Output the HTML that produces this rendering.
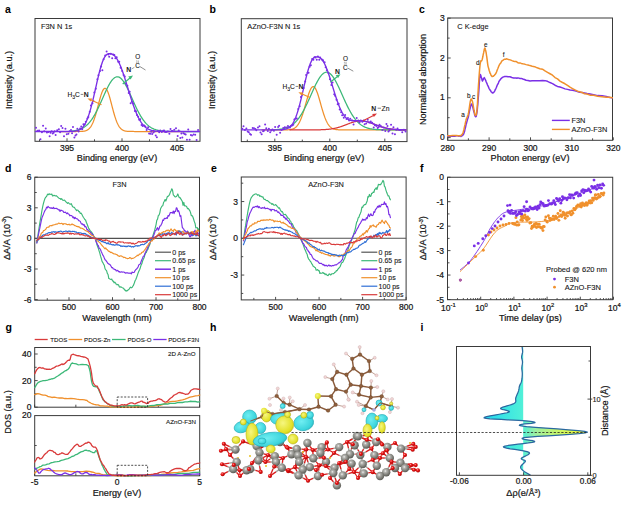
<!DOCTYPE html>
<html><head><meta charset="utf-8"><style>
html,body{margin:0;padding:0;background:#fff;}
svg{display:block;font-family:"Liberation Sans", sans-serif;}
</style></head><body>
<svg width="640" height="509" viewBox="0 0 640 509">
<rect width="640" height="509" fill="#fff"/>
<text x="5" y="13.2" font-size="10.5" text-anchor="start" font-weight="bold" fill="#000" >a</text>
<rect x="35" y="18.5" width="165" height="122.8" stroke="#3a3a3a" stroke-width="1.0" fill="none" />
<line x1="39.5" y1="141.3" x2="39.5" y2="139.3" stroke="#3a3a3a" stroke-width="0.9" />
<line x1="67" y1="141.3" x2="67" y2="138.3" stroke="#3a3a3a" stroke-width="0.9" />
<line x1="94.5" y1="141.3" x2="94.5" y2="139.3" stroke="#3a3a3a" stroke-width="0.9" />
<line x1="122" y1="141.3" x2="122" y2="138.3" stroke="#3a3a3a" stroke-width="0.9" />
<line x1="149.5" y1="141.3" x2="149.5" y2="139.3" stroke="#3a3a3a" stroke-width="0.9" />
<line x1="177" y1="141.3" x2="177" y2="138.3" stroke="#3a3a3a" stroke-width="0.9" />
<text x="67" y="151" font-size="8.5" text-anchor="middle" font-weight="normal" fill="#161616" stroke="#161616" stroke-width="0.22" >395</text>
<text x="122" y="151" font-size="8.5" text-anchor="middle" font-weight="normal" fill="#161616" stroke="#161616" stroke-width="0.22" >400</text>
<text x="177" y="151" font-size="8.5" text-anchor="middle" font-weight="normal" fill="#161616" stroke="#161616" stroke-width="0.22" >405</text>
<text x="117" y="161" font-size="9.1" text-anchor="middle" font-weight="normal" fill="#161616" stroke="#161616" stroke-width="0.22" >Binding energy (eV)</text>
<text x="11.6" y="80" font-size="9.2" text-anchor="middle" font-weight="normal" fill="#161616" stroke="#161616" stroke-width="0.22" transform="rotate(-90 11.6 80)" >Intensity (a.u.)</text>
<text x="41" y="29.3" font-size="7.4" text-anchor="start" font-weight="normal" fill="#161616" stroke="#161616" stroke-width="0.1" >F3N N 1s</text>
<path d="M60,131.5 L60.5,131.5 L61,131.5 L61.5,131.5 L62,131.5 L62.5,131.5 L63,131.5 L63.5,131.5 L64,131.5 L64.5,131.5 L65,131.5 L65.5,131.5 L66,131.5 L66.5,131.5 L67,131.5 L67.5,131.5 L68,131.5 L68.5,131.5 L69,131.5 L69.5,131.5 L70,131.5 L70.5,131.5 L71,131.5 L71.5,131.5 L72,131.5 L72.5,131.5 L73,131.5 L73.5,131.5 L74,131.5 L74.5,131.5 L75,131.5 L75.5,131.5 L76,131.5 L76.5,131.49 L77,131.49 L77.5,131.49 L78,131.48 L78.5,131.48 L79,131.47 L79.5,131.46 L80,131.45 L80.5,131.43 L81,131.41 L81.5,131.39 L82,131.36 L82.5,131.32 L83,131.27 L83.5,131.21 L84,131.13 L84.5,131.04 L85,130.93 L85.5,130.79 L86,130.63 L86.5,130.43 L87,130.2 L87.5,129.92 L88,129.6 L88.5,129.23 L89,128.79 L89.5,128.28 L90,127.71 L90.5,127.05 L91,126.31 L91.5,125.48 L92,124.55 L92.5,123.53 L93,122.4 L93.5,121.16 L94,119.83 L94.5,118.39 L95,116.85 L95.5,115.22 L96,113.51 L96.5,111.72 L97,109.88 L97.5,107.99 L98,106.07 L98.5,104.14 L99,102.23 L99.5,100.35 L100,98.53 L100.5,96.8 L101,95.16 L101.5,93.66 L102,92.31 L102.5,91.12 L103,90.13 L103.5,89.34 L104,88.76 L104.5,88.42 L105,88.3 L105.5,88.42 L106,88.76 L106.5,89.34 L107,90.13 L107.5,91.12 L108,92.31 L108.5,93.66 L109,95.16 L109.5,96.8 L110,98.53 L110.5,100.35 L111,102.23 L111.5,104.14 L112,106.07 L112.5,107.99 L113,109.88 L113.5,111.72 L114,113.51 L114.5,115.22 L115,116.85 L115.5,118.39 L116,119.83 L116.5,121.16 L117,122.4 L117.5,123.53 L118,124.55 L118.5,125.48 L119,126.31 L119.5,127.05 L120,127.71 L120.5,128.28 L121,128.79 L121.5,129.23 L122,129.6 L122.5,129.92 L123,130.2 L123.5,130.43 L124,130.63 L124.5,130.79 L125,130.93 L125.5,131.04 L126,131.13 L126.5,131.21 L127,131.27 L127.5,131.32 L128,131.36 L128.5,131.39 L129,131.41 L129.5,131.43 L130,131.45 L130.5,131.46 L131,131.47 L131.5,131.48 L132,131.48 L132.5,131.49 L133,131.49 L133.5,131.49 L134,131.5 L134.5,131.5 L135,131.5 L135.5,131.5 L136,131.5 L136.5,131.5 L137,131.5 L137.5,131.5 L138,131.5 L138.5,131.5 L139,131.5 L139.5,131.5 L140,131.5 L140.5,131.5 L141,131.5 L141.5,131.5 L142,131.5 L142.5,131.5 L143,131.5 L143.5,131.5 L144,131.5 L144.5,131.5 L145,131.5 L145.5,131.5 L146,131.5 L146.5,131.5 L147,131.5 L147.5,131.5 L148,131.5 L148.5,131.5 L149,131.5 L149.5,131.5 L150,131.5 L150.5,131.5 L151,131.5 L151.5,131.5 L152,131.5 L152.5,131.5 L153,131.5 L153.5,131.5 L154,131.5 L154.5,131.5 L155,131.5 L155.5,131.5 L156,131.5 L156.5,131.5 L157,131.5 L157.5,131.5 L158,131.5 L158.5,131.5 L159,131.5 L159.5,131.5 L160,131.5 L160.5,131.5 L161,131.5 L161.5,131.5 L162,131.5 L162.5,131.5 L163,131.5 L163.5,131.5 L164,131.5 L164.5,131.5 L165,131.5 L165.5,131.5 L166,131.5 L166.5,131.5 L167,131.5 L167.5,131.5 L168,131.5 L168.5,131.5 L169,131.5 L169.5,131.5 L170,131.5 L170.5,131.5 L171,131.5 L171.5,131.5 L172,131.5 L172.5,131.5 L173,131.5 L173.5,131.5 L174,131.5 L174.5,131.5 L175,131.5 L175.5,131.5 L176,131.5 L176.5,131.5 L177,131.5 L177.5,131.5 L178,131.5 L178.5,131.5 L179,131.5 L179.5,131.5 L180,131.5 L180.5,131.5 L181,131.5 L181.5,131.5 L182,131.5 L182.5,131.5 L183,131.5 L183.5,131.5 L184,131.5 L184.5,131.5 L185,131.5" stroke="#f0902c" stroke-width="1.25" fill="none" stroke-linejoin="round" stroke-linecap="round" />
<path d="M70,131.19 L70.5,131.16 L71,131.12 L71.5,131.07 L72,131.03 L72.5,130.97 L73,130.92 L73.5,130.85 L74,130.79 L74.5,130.71 L75,130.63 L75.5,130.54 L76,130.44 L76.5,130.34 L77,130.22 L77.5,130.1 L78,129.97 L78.5,129.82 L79,129.66 L79.5,129.49 L80,129.31 L80.5,129.12 L81,128.91 L81.5,128.68 L82,128.44 L82.5,128.18 L83,127.9 L83.5,127.61 L84,127.3 L84.5,126.96 L85,126.61 L85.5,126.23 L86,125.83 L86.5,125.41 L87,124.96 L87.5,124.49 L88,124 L88.5,123.47 L89,122.93 L89.5,122.35 L90,121.75 L90.5,121.12 L91,120.46 L91.5,119.78 L92,119.06 L92.5,118.32 L93,117.55 L93.5,116.75 L94,115.92 L94.5,115.07 L95,114.19 L95.5,113.29 L96,112.35 L96.5,111.4 L97,110.42 L97.5,109.42 L98,108.4 L98.5,107.36 L99,106.3 L99.5,105.22 L100,104.13 L100.5,103.03 L101,101.92 L101.5,100.8 L102,99.68 L102.5,98.55 L103,97.42 L103.5,96.29 L104,95.17 L104.5,94.06 L105,92.96 L105.5,91.87 L106,90.79 L106.5,89.74 L107,88.71 L107.5,87.7 L108,86.72 L108.5,85.77 L109,84.86 L109.5,83.98 L110,83.15 L110.5,82.35 L111,81.6 L111.5,80.9 L112,80.24 L112.5,79.64 L113,79.09 L113.5,78.6 L114,78.16 L114.5,77.78 L115,77.47 L115.5,77.21 L116,77.01 L116.5,76.88 L117,76.81 L117.5,76.81 L118,76.86 L118.5,76.98 L119,77.16 L119.5,77.41 L120,77.71 L120.5,78.08 L121,78.51 L121.5,78.99 L122,79.53 L122.5,80.12 L123,80.76 L123.5,81.46 L124,82.2 L124.5,82.98 L125,83.81 L125.5,84.68 L126,85.59 L126.5,86.53 L127,87.5 L127.5,88.5 L128,89.53 L128.5,90.58 L129,91.65 L129.5,92.74 L130,93.84 L130.5,94.95 L131,96.07 L131.5,97.19 L132,98.32 L132.5,99.45 L133,100.58 L133.5,101.7 L134,102.81 L134.5,103.91 L135,105 L135.5,106.08 L136,107.15 L136.5,108.19 L137,109.22 L137.5,110.22 L138,111.2 L138.5,112.16 L139,113.1 L139.5,114.01 L140,114.9 L140.5,115.76 L141,116.59 L141.5,117.39 L142,118.17 L142.5,118.92 L143,119.64 L143.5,120.33 L144,120.99 L144.5,121.63 L145,122.23 L145.5,122.81 L146,123.37 L146.5,123.89 L147,124.39 L147.5,124.87 L148,125.32 L148.5,125.75 L149,126.15 L149.5,126.53 L150,126.89 L150.5,127.23 L151,127.55 L151.5,127.85 L152,128.13 L152.5,128.39 L153,128.63 L153.5,128.86 L154,129.08 L154.5,129.27 L155,129.46 L155.5,129.63 L156,129.79 L156.5,129.94 L157,130.07 L157.5,130.2 L158,130.32 L158.5,130.42 L159,130.52 L159.5,130.61 L160,130.7 L160.5,130.77 L161,130.84 L161.5,130.9 L162,130.96 L162.5,131.02 L163,131.06 L163.5,131.11 L164,131.15 L164.5,131.18 L165,131.22 L165.5,131.25 L166,131.27 L166.5,131.3 L167,131.32 L167.5,131.34 L168,131.36 L168.5,131.37 L169,131.39 L169.5,131.4 L170,131.41 L170.5,131.42 L171,131.43 L171.5,131.44 L172,131.45 L172.5,131.45 L173,131.46 L173.5,131.46 L174,131.47 L174.5,131.47 L175,131.48 L175.5,131.48 L176,131.48 L176.5,131.48 L177,131.49 L177.5,131.49 L178,131.49 L178.5,131.49 L179,131.49 L179.5,131.49 L180,131.49 L180.5,131.49 L181,131.5 L181.5,131.5 L182,131.5 L182.5,131.5 L183,131.5 L183.5,131.5 L184,131.5 L184.5,131.5 L185,131.5 L185.5,131.5 L186,131.5 L186.5,131.5 L187,131.5 L187.5,131.5 L188,131.5 L188.5,131.5 L189,131.5 L189.5,131.5 L190,131.5 L190.5,131.5 L191,131.5 L191.5,131.5 L192,131.5 L192.5,131.5 L193,131.5 L193.5,131.5 L194,131.5 L194.5,131.5 L195,131.5 L195.5,131.5 L196,131.5 L196.5,131.5 L197,131.5 L197.5,131.5 L198,131.5 L198.5,131.5 L199,131.5" stroke="#3cb878" stroke-width="1.25" fill="none" stroke-linejoin="round" stroke-linecap="round" />
<path d="M35.5,131.5 L36,131.5 L36.5,131.5 L37,131.5 L37.5,131.5 L38,131.5 L38.5,131.5 L39,131.5 L39.5,131.5 L40,131.5 L40.5,131.5 L41,131.5 L41.5,131.5 L42,131.5 L42.5,131.5 L43,131.5 L43.5,131.5 L44,131.5 L44.5,131.5 L45,131.5 L45.5,131.5 L46,131.5 L46.5,131.5 L47,131.5 L47.5,131.5 L48,131.5 L48.5,131.5 L49,131.5 L49.5,131.5 L50,131.5 L50.5,131.5 L51,131.5 L51.5,131.5 L52,131.5 L52.5,131.5 L53,131.5 L53.5,131.5 L54,131.5 L54.5,131.5 L55,131.5 L55.5,131.5 L56,131.5 L56.5,131.5 L57,131.5 L57.5,131.5 L58,131.5 L58.5,131.5 L59,131.5 L59.5,131.5 L60,131.5 L60.5,131.5 L61,131.5 L61.5,131.5 L62,131.5 L62.5,131.5 L63,131.5 L63.5,131.5 L64,131.5 L64.5,131.5 L65,131.5 L65.5,131.49 L66,131.49 L66.5,131.49 L67,131.49 L67.5,131.49 L68,131.48 L68.5,131.48 L69,131.47 L69.5,131.46 L70,131.45 L70.5,131.44 L71,131.42 L71.5,131.41 L72,131.38 L72.5,131.36 L73,131.33 L73.5,131.29 L74,131.24 L74.5,131.19 L75,131.12 L75.5,131.04 L76,130.95 L76.5,130.85 L77,130.73 L77.5,130.58 L78,130.42 L78.5,130.23 L79,130.01 L79.5,129.76 L80,129.48 L80.5,129.15 L81,128.79 L81.5,128.38 L82,127.92 L82.5,127.41 L83,126.84 L83.5,126.21 L84,125.52 L84.5,124.76 L85,123.92 L85.5,123.01 L86,122.02 L86.5,120.96 L87,119.8 L87.5,118.57 L88,117.25 L88.5,115.84 L89,114.35 L89.5,112.78 L90,111.12 L90.5,109.39 L91,107.57 L91.5,105.69 L92,103.73 L92.5,101.72 L93,99.65 L93.5,97.53 L94,95.38 L94.5,93.19 L95,90.98 L95.5,88.76 L96,86.53 L96.5,84.31 L97,82.11 L97.5,79.94 L98,77.8 L98.5,75.71 L99,73.68 L99.5,71.72 L100,69.83 L100.5,68.02 L101,66.31 L101.5,64.69 L102,63.18 L102.5,61.77 L103,60.48 L103.5,59.31 L104,58.25 L104.5,57.31 L105,56.49 L105.5,55.78 L106,55.19 L106.5,54.71 L107,54.33 L107.5,54.05 L108,53.86 L108.5,53.75 L109,53.7 L109.5,53.7 L110,53.72 L110.5,53.76 L111,53.85 L111.5,53.97 L112,54.14 L112.5,54.37 L113,54.64 L113.5,54.97 L114,55.36 L114.5,55.81 L115,56.33 L115.5,56.9 L116,57.54 L116.5,58.24 L117,59.01 L117.5,59.84 L118,60.73 L118.5,61.69 L119,62.7 L119.5,63.78 L120,64.91 L120.5,66.1 L121,67.35 L121.5,68.64 L122,69.98 L122.5,71.37 L123,72.8 L123.5,74.27 L124,75.77 L124.5,77.3 L125,78.86 L125.5,80.44 L126,82.04 L126.5,83.66 L127,85.29 L127.5,86.92 L128,88.56 L128.5,90.2 L129,91.83 L129.5,93.45 L130,95.06 L130.5,96.66 L131,98.23 L131.5,99.78 L132,101.31 L132.5,102.8 L133,104.27 L133.5,105.7 L134,107.09 L134.5,108.44 L135,109.76 L135.5,111.03 L136,112.26 L136.5,113.45 L137,114.59 L137.5,115.68 L138,116.73 L138.5,117.74 L139,118.69 L139.5,119.6 L140,120.47 L140.5,121.29 L141,122.06 L141.5,122.8 L142,123.49 L142.5,124.13 L143,124.74 L143.5,125.31 L144,125.84 L144.5,126.34 L145,126.8 L145.5,127.22 L146,127.62 L146.5,127.98 L147,128.32 L147.5,128.63 L148,128.92 L148.5,129.18 L149,129.42 L149.5,129.63 L150,129.83 L150.5,130.01 L151,130.18 L151.5,130.32 L152,130.46 L152.5,130.58 L153,130.68 L153.5,130.78 L154,130.87 L154.5,130.94 L155,131.01 L155.5,131.07 L156,131.13 L156.5,131.18 L157,131.22 L157.5,131.26 L158,131.29 L158.5,131.32 L159,131.34 L159.5,131.37 L160,131.38 L160.5,131.4 L161,131.42 L161.5,131.43 L162,131.44 L162.5,131.45 L163,131.46 L163.5,131.46 L164,131.47 L164.5,131.47 L165,131.48 L165.5,131.48 L166,131.48 L166.5,131.49 L167,131.49 L167.5,131.49 L168,131.49 L168.5,131.49 L169,131.49 L169.5,131.5 L170,131.5 L170.5,131.5 L171,131.5 L171.5,131.5 L172,131.5 L172.5,131.5 L173,131.5 L173.5,131.5 L174,131.5 L174.5,131.5 L175,131.5 L175.5,131.5 L176,131.5 L176.5,131.5 L177,131.5 L177.5,131.5 L178,131.5 L178.5,131.5 L179,131.5 L179.5,131.5 L180,131.5 L180.5,131.5 L181,131.5 L181.5,131.5 L182,131.5 L182.5,131.5 L183,131.5 L183.5,131.5 L184,131.5 L184.5,131.5 L185,131.5 L185.5,131.5 L186,131.5 L186.5,131.5 L187,131.5 L187.5,131.5 L188,131.5 L188.5,131.5 L189,131.5 L189.5,131.5 L190,131.5 L190.5,131.5 L191,131.5 L191.5,131.5 L192,131.5 L192.5,131.5 L193,131.5 L193.5,131.5 L194,131.5 L194.5,131.5 L195,131.5 L195.5,131.5 L196,131.5 L196.5,131.5 L197,131.5 L197.5,131.5 L198,131.5 L198.5,131.5 L199,131.5 L199.5,131.5" stroke="#7a2fe6" stroke-width="1.35" fill="none" stroke-linejoin="round" stroke-linecap="round" />
<circle cx="36" cy="127.65" r="1" fill="#7a2fe6" stroke="none" stroke-width="0" />
<circle cx="37.5" cy="130.69" r="1" fill="#7a2fe6" stroke="none" stroke-width="0" />
<circle cx="39.09" cy="130.47" r="1" fill="#7a2fe6" stroke="none" stroke-width="0" />
<circle cx="40.44" cy="139.18" r="1" fill="#7a2fe6" stroke="none" stroke-width="0" />
<circle cx="41.94" cy="132.3" r="1" fill="#7a2fe6" stroke="none" stroke-width="0" />
<circle cx="43.06" cy="125.66" r="1" fill="#7a2fe6" stroke="none" stroke-width="0" />
<circle cx="44.25" cy="131.34" r="1" fill="#7a2fe6" stroke="none" stroke-width="0" />
<circle cx="45.75" cy="128.46" r="1" fill="#7a2fe6" stroke="none" stroke-width="0" />
<circle cx="46.95" cy="132.51" r="1" fill="#7a2fe6" stroke="none" stroke-width="0" />
<circle cx="48.42" cy="131.98" r="1" fill="#7a2fe6" stroke="none" stroke-width="0" />
<circle cx="49.62" cy="136.25" r="1" fill="#7a2fe6" stroke="none" stroke-width="0" />
<circle cx="50.56" cy="132.76" r="1" fill="#7a2fe6" stroke="none" stroke-width="0" />
<circle cx="51.65" cy="131.36" r="1" fill="#7a2fe6" stroke="none" stroke-width="0" />
<circle cx="52.68" cy="133.56" r="1" fill="#7a2fe6" stroke="none" stroke-width="0" />
<circle cx="53.64" cy="132.76" r="1" fill="#7a2fe6" stroke="none" stroke-width="0" />
<circle cx="54.67" cy="131.14" r="1" fill="#7a2fe6" stroke="none" stroke-width="0" />
<circle cx="55.63" cy="135.06" r="1" fill="#7a2fe6" stroke="none" stroke-width="0" />
<circle cx="57.19" cy="130.2" r="1" fill="#7a2fe6" stroke="none" stroke-width="0" />
<circle cx="58.87" cy="129.29" r="1" fill="#7a2fe6" stroke="none" stroke-width="0" />
<circle cx="60.08" cy="132.18" r="1" fill="#7a2fe6" stroke="none" stroke-width="0" />
<circle cx="61.19" cy="126.06" r="1" fill="#7a2fe6" stroke="none" stroke-width="0" />
<circle cx="62.49" cy="128.01" r="1" fill="#7a2fe6" stroke="none" stroke-width="0" />
<circle cx="64" cy="136.14" r="1" fill="#7a2fe6" stroke="none" stroke-width="0" />
<circle cx="65.44" cy="128.71" r="1" fill="#7a2fe6" stroke="none" stroke-width="0" />
<circle cx="66.77" cy="134.32" r="1" fill="#7a2fe6" stroke="none" stroke-width="0" />
<circle cx="68.36" cy="133.65" r="1" fill="#7a2fe6" stroke="none" stroke-width="0" />
<circle cx="69.61" cy="131.14" r="1" fill="#7a2fe6" stroke="none" stroke-width="0" />
<circle cx="70.98" cy="130.06" r="1" fill="#7a2fe6" stroke="none" stroke-width="0" />
<circle cx="72.05" cy="133.13" r="1" fill="#7a2fe6" stroke="none" stroke-width="0" />
<circle cx="72.97" cy="126.93" r="1" fill="#7a2fe6" stroke="none" stroke-width="0" />
<circle cx="74.4" cy="137.46" r="1" fill="#7a2fe6" stroke="none" stroke-width="0" />
<circle cx="75.44" cy="135.48" r="1" fill="#7a2fe6" stroke="none" stroke-width="0" />
<circle cx="76.44" cy="134.48" r="1" fill="#7a2fe6" stroke="none" stroke-width="0" />
<circle cx="77.35" cy="128.81" r="1" fill="#7a2fe6" stroke="none" stroke-width="0" />
<circle cx="78.62" cy="131.58" r="1" fill="#7a2fe6" stroke="none" stroke-width="0" />
<circle cx="80.13" cy="128.52" r="1" fill="#7a2fe6" stroke="none" stroke-width="0" />
<circle cx="81.26" cy="126.56" r="1" fill="#7a2fe6" stroke="none" stroke-width="0" />
<circle cx="82.2" cy="129.32" r="1" fill="#7a2fe6" stroke="none" stroke-width="0" />
<circle cx="83.41" cy="124.17" r="1" fill="#7a2fe6" stroke="none" stroke-width="0" />
<circle cx="84.75" cy="124.57" r="1" fill="#7a2fe6" stroke="none" stroke-width="0" />
<circle cx="85.78" cy="121.76" r="1" fill="#7a2fe6" stroke="none" stroke-width="0" />
<circle cx="87.4" cy="118.4" r="1" fill="#7a2fe6" stroke="none" stroke-width="0" />
<circle cx="88.38" cy="116.93" r="1" fill="#7a2fe6" stroke="none" stroke-width="0" />
<circle cx="89.73" cy="111.79" r="1" fill="#7a2fe6" stroke="none" stroke-width="0" />
<circle cx="90.91" cy="105.54" r="1" fill="#7a2fe6" stroke="none" stroke-width="0" />
<circle cx="92.45" cy="103.29" r="1" fill="#7a2fe6" stroke="none" stroke-width="0" />
<circle cx="93.35" cy="100.93" r="1" fill="#7a2fe6" stroke="none" stroke-width="0" />
<circle cx="94.34" cy="92.58" r="1" fill="#7a2fe6" stroke="none" stroke-width="0" />
<circle cx="95.79" cy="88.76" r="1" fill="#7a2fe6" stroke="none" stroke-width="0" />
<circle cx="97.4" cy="79.19" r="1" fill="#7a2fe6" stroke="none" stroke-width="0" />
<circle cx="98.43" cy="75.18" r="1" fill="#7a2fe6" stroke="none" stroke-width="0" />
<circle cx="99.98" cy="70.9" r="1" fill="#7a2fe6" stroke="none" stroke-width="0" />
<circle cx="101.13" cy="66.52" r="1" fill="#7a2fe6" stroke="none" stroke-width="0" />
<circle cx="102.36" cy="70.15" r="1" fill="#7a2fe6" stroke="none" stroke-width="0" />
<circle cx="103.63" cy="59.25" r="1" fill="#7a2fe6" stroke="none" stroke-width="0" />
<circle cx="105.18" cy="55.62" r="1" fill="#7a2fe6" stroke="none" stroke-width="0" />
<circle cx="106.63" cy="51.62" r="1" fill="#7a2fe6" stroke="none" stroke-width="0" />
<circle cx="108.23" cy="54.55" r="1" fill="#7a2fe6" stroke="none" stroke-width="0" />
<circle cx="109.21" cy="56.66" r="1" fill="#7a2fe6" stroke="none" stroke-width="0" />
<circle cx="110.73" cy="53.8" r="1" fill="#7a2fe6" stroke="none" stroke-width="0" />
<circle cx="112.17" cy="58.13" r="1" fill="#7a2fe6" stroke="none" stroke-width="0" />
<circle cx="113.27" cy="54.62" r="1" fill="#7a2fe6" stroke="none" stroke-width="0" />
<circle cx="114.29" cy="54.97" r="1" fill="#7a2fe6" stroke="none" stroke-width="0" />
<circle cx="115.37" cy="58.26" r="1" fill="#7a2fe6" stroke="none" stroke-width="0" />
<circle cx="116.7" cy="57.13" r="1" fill="#7a2fe6" stroke="none" stroke-width="0" />
<circle cx="118.21" cy="61.7" r="1" fill="#7a2fe6" stroke="none" stroke-width="0" />
<circle cx="119.23" cy="61.78" r="1" fill="#7a2fe6" stroke="none" stroke-width="0" />
<circle cx="120.62" cy="67.77" r="1" fill="#7a2fe6" stroke="none" stroke-width="0" />
<circle cx="122.21" cy="71.08" r="1" fill="#7a2fe6" stroke="none" stroke-width="0" />
<circle cx="123.59" cy="75.07" r="1" fill="#7a2fe6" stroke="none" stroke-width="0" />
<circle cx="124.78" cy="76.48" r="1" fill="#7a2fe6" stroke="none" stroke-width="0" />
<circle cx="125.85" cy="83.43" r="1" fill="#7a2fe6" stroke="none" stroke-width="0" />
<circle cx="127.39" cy="85.85" r="1" fill="#7a2fe6" stroke="none" stroke-width="0" />
<circle cx="128.72" cy="92.92" r="1" fill="#7a2fe6" stroke="none" stroke-width="0" />
<circle cx="129.67" cy="91.82" r="1" fill="#7a2fe6" stroke="none" stroke-width="0" />
<circle cx="130.66" cy="103.34" r="1" fill="#7a2fe6" stroke="none" stroke-width="0" />
<circle cx="131.87" cy="101.8" r="1" fill="#7a2fe6" stroke="none" stroke-width="0" />
<circle cx="133.27" cy="103.39" r="1" fill="#7a2fe6" stroke="none" stroke-width="0" />
<circle cx="134.85" cy="111.12" r="1" fill="#7a2fe6" stroke="none" stroke-width="0" />
<circle cx="136.02" cy="111.15" r="1" fill="#7a2fe6" stroke="none" stroke-width="0" />
<circle cx="136.93" cy="114.99" r="1" fill="#7a2fe6" stroke="none" stroke-width="0" />
<circle cx="138.21" cy="116.66" r="1" fill="#7a2fe6" stroke="none" stroke-width="0" />
<circle cx="139.2" cy="119.63" r="1" fill="#7a2fe6" stroke="none" stroke-width="0" />
<circle cx="140.19" cy="119.18" r="1" fill="#7a2fe6" stroke="none" stroke-width="0" />
<circle cx="141.56" cy="125.05" r="1" fill="#7a2fe6" stroke="none" stroke-width="0" />
<circle cx="142.69" cy="125.96" r="1" fill="#7a2fe6" stroke="none" stroke-width="0" />
<circle cx="144.2" cy="125.53" r="1" fill="#7a2fe6" stroke="none" stroke-width="0" />
<circle cx="145.37" cy="126.56" r="1" fill="#7a2fe6" stroke="none" stroke-width="0" />
<circle cx="146.63" cy="129.95" r="1" fill="#7a2fe6" stroke="none" stroke-width="0" />
<circle cx="148.13" cy="127.33" r="1" fill="#7a2fe6" stroke="none" stroke-width="0" />
<circle cx="149.09" cy="133.6" r="1" fill="#7a2fe6" stroke="none" stroke-width="0" />
<circle cx="150.28" cy="133.85" r="1" fill="#7a2fe6" stroke="none" stroke-width="0" />
<circle cx="151.21" cy="131.74" r="1" fill="#7a2fe6" stroke="none" stroke-width="0" />
<circle cx="152.18" cy="133.9" r="1" fill="#7a2fe6" stroke="none" stroke-width="0" />
<circle cx="153.38" cy="132.47" r="1" fill="#7a2fe6" stroke="none" stroke-width="0" />
<circle cx="154.57" cy="131.52" r="1" fill="#7a2fe6" stroke="none" stroke-width="0" />
<circle cx="155.72" cy="135.61" r="1" fill="#7a2fe6" stroke="none" stroke-width="0" />
<circle cx="156.85" cy="137.34" r="1" fill="#7a2fe6" stroke="none" stroke-width="0" />
<circle cx="157.9" cy="130.88" r="1" fill="#7a2fe6" stroke="none" stroke-width="0" />
<circle cx="159.18" cy="132.34" r="1" fill="#7a2fe6" stroke="none" stroke-width="0" />
<circle cx="160.22" cy="130.43" r="1" fill="#7a2fe6" stroke="none" stroke-width="0" />
<circle cx="161.82" cy="132.1" r="1" fill="#7a2fe6" stroke="none" stroke-width="0" />
<circle cx="163.12" cy="130.85" r="1" fill="#7a2fe6" stroke="none" stroke-width="0" />
<circle cx="164.05" cy="130.49" r="1" fill="#7a2fe6" stroke="none" stroke-width="0" />
<circle cx="165.15" cy="131.96" r="1" fill="#7a2fe6" stroke="none" stroke-width="0" />
<circle cx="166.2" cy="132.08" r="1" fill="#7a2fe6" stroke="none" stroke-width="0" />
<circle cx="167.84" cy="131.6" r="1" fill="#7a2fe6" stroke="none" stroke-width="0" />
<circle cx="169.39" cy="133.82" r="1" fill="#7a2fe6" stroke="none" stroke-width="0" />
<circle cx="170.51" cy="128.89" r="1" fill="#7a2fe6" stroke="none" stroke-width="0" />
<circle cx="171.81" cy="130.95" r="1" fill="#7a2fe6" stroke="none" stroke-width="0" />
<circle cx="172.75" cy="131.11" r="1" fill="#7a2fe6" stroke="none" stroke-width="0" />
<circle cx="174.33" cy="129.8" r="1" fill="#7a2fe6" stroke="none" stroke-width="0" />
<circle cx="176.01" cy="128.28" r="1" fill="#7a2fe6" stroke="none" stroke-width="0" />
<circle cx="177.67" cy="136.11" r="1" fill="#7a2fe6" stroke="none" stroke-width="0" />
<circle cx="178.71" cy="130.5" r="1" fill="#7a2fe6" stroke="none" stroke-width="0" />
<circle cx="180.31" cy="138.01" r="1" fill="#7a2fe6" stroke="none" stroke-width="0" />
<circle cx="181.38" cy="133.45" r="1" fill="#7a2fe6" stroke="none" stroke-width="0" />
<circle cx="182.34" cy="137.52" r="1" fill="#7a2fe6" stroke="none" stroke-width="0" />
<circle cx="183.39" cy="133.19" r="1" fill="#7a2fe6" stroke="none" stroke-width="0" />
<circle cx="184.66" cy="134.09" r="1" fill="#7a2fe6" stroke="none" stroke-width="0" />
<circle cx="185.67" cy="134.49" r="1" fill="#7a2fe6" stroke="none" stroke-width="0" />
<circle cx="186.95" cy="139.85" r="1" fill="#7a2fe6" stroke="none" stroke-width="0" />
<circle cx="188.22" cy="129.57" r="1" fill="#7a2fe6" stroke="none" stroke-width="0" />
<circle cx="189.61" cy="139.8" r="1" fill="#7a2fe6" stroke="none" stroke-width="0" />
<circle cx="190.9" cy="135.11" r="1" fill="#7a2fe6" stroke="none" stroke-width="0" />
<circle cx="192.07" cy="135.49" r="1" fill="#7a2fe6" stroke="none" stroke-width="0" />
<circle cx="193.69" cy="134.56" r="1" fill="#7a2fe6" stroke="none" stroke-width="0" />
<circle cx="195.21" cy="134.82" r="1" fill="#7a2fe6" stroke="none" stroke-width="0" />
<circle cx="196.6" cy="140.09" r="1" fill="#7a2fe6" stroke="none" stroke-width="0" />
<circle cx="198.07" cy="129.95" r="1" fill="#7a2fe6" stroke="none" stroke-width="0" />
<text x="67.5" y="97" font-size="6.6" text-anchor="start" font-weight="normal" fill="#161616" stroke="#161616" stroke-width="0.1" >H<tspan font-size="5" dy="1.5">3</tspan><tspan dy="-1.5">C</tspan></text>
<line x1="80.7" y1="94.4" x2="83.3" y2="94.4" stroke="#333" stroke-width="0.6" />
<text x="83.7" y="97" font-size="6.8" text-anchor="start" font-weight="bold" fill="#161616" >N</text>
<line x1="101.5" y1="104.8" x2="90" y2="99.5" stroke="#f0902c" stroke-width="1.2" />
<path d="M87.5,98.4 L92.2,98.6 L90.6,101.6 Z" fill="#f0902c"/>
<line x1="122.7" y1="84" x2="130" y2="78" stroke="#3cb878" stroke-width="1.2" />
<path d="M133,75.6 L128.2,76.6 L130.6,79.4 Z" fill="#3cb878"/>
<text x="126.3" y="72.2" font-size="6.8" text-anchor="start" font-weight="bold" fill="#161616" >N</text>
<text x="135.3" y="68.3" font-size="6.4" text-anchor="start" font-weight="normal" fill="#161616" stroke="#161616" stroke-width="0.1" >C</text>
<text x="135.3" y="59.3" font-size="6.4" text-anchor="start" font-weight="normal" fill="#161616" stroke="#161616" stroke-width="0.1" >O</text>
<line x1="136.6" y1="60.5" x2="136.6" y2="63.4" stroke="#444" stroke-width="0.5" stroke-dasharray="1,0.8"/>
<line x1="138.2" y1="60.5" x2="138.2" y2="63.4" stroke="#444" stroke-width="0.5" />
<line x1="139.8" y1="66.5" x2="145.5" y2="70" stroke="#444" stroke-width="0.6" />
<line x1="131.6" y1="69" x2="134.4" y2="67.3" stroke="#444" stroke-width="0.5" />
<text x="209.5" y="13.2" font-size="10.5" text-anchor="start" font-weight="bold" fill="#000" >b</text>
<rect x="241.3" y="18.7" width="165.7" height="122.9" stroke="#3a3a3a" stroke-width="1.0" fill="none" />
<line x1="247.3" y1="141.6" x2="247.3" y2="139.6" stroke="#3a3a3a" stroke-width="0.9" />
<line x1="274.8" y1="141.6" x2="274.8" y2="138.6" stroke="#3a3a3a" stroke-width="0.9" />
<line x1="302.3" y1="141.6" x2="302.3" y2="139.6" stroke="#3a3a3a" stroke-width="0.9" />
<line x1="329.8" y1="141.6" x2="329.8" y2="138.6" stroke="#3a3a3a" stroke-width="0.9" />
<line x1="357.3" y1="141.6" x2="357.3" y2="139.6" stroke="#3a3a3a" stroke-width="0.9" />
<line x1="384.8" y1="141.6" x2="384.8" y2="138.6" stroke="#3a3a3a" stroke-width="0.9" />
<text x="274.8" y="151" font-size="8.5" text-anchor="middle" font-weight="normal" fill="#161616" stroke="#161616" stroke-width="0.22" >395</text>
<text x="329.8" y="151" font-size="8.5" text-anchor="middle" font-weight="normal" fill="#161616" stroke="#161616" stroke-width="0.22" >400</text>
<text x="384.8" y="151" font-size="8.5" text-anchor="middle" font-weight="normal" fill="#161616" stroke="#161616" stroke-width="0.22" >405</text>
<text x="324" y="161" font-size="9.1" text-anchor="middle" font-weight="normal" fill="#161616" stroke="#161616" stroke-width="0.22" >Binding energy (eV)</text>
<text x="215.1" y="80" font-size="9.2" text-anchor="middle" font-weight="normal" fill="#161616" stroke="#161616" stroke-width="0.22" transform="rotate(-90 215.1 80)" >Intensity (a.u.)</text>
<text x="247.3" y="29.3" font-size="7.4" text-anchor="start" font-weight="normal" fill="#161616" stroke="#161616" stroke-width="0.1" >AZnO-F3N N 1s</text>
<path d="M262,129.9 L262.5,129.9 L263,129.9 L263.5,129.9 L264,129.9 L264.5,129.9 L265,129.9 L265.5,129.9 L266,129.9 L266.5,129.9 L267,129.9 L267.5,129.9 L268,129.9 L268.5,129.9 L269,129.9 L269.5,129.9 L270,129.9 L270.5,129.9 L271,129.9 L271.5,129.9 L272,129.9 L272.5,129.9 L273,129.9 L273.5,129.9 L274,129.9 L274.5,129.9 L275,129.9 L275.5,129.9 L276,129.9 L276.5,129.9 L277,129.9 L277.5,129.9 L278,129.9 L278.5,129.9 L279,129.9 L279.5,129.9 L280,129.9 L280.5,129.9 L281,129.9 L281.5,129.9 L282,129.89 L282.5,129.89 L283,129.89 L283.5,129.89 L284,129.88 L284.5,129.88 L285,129.87 L285.5,129.86 L286,129.85 L286.5,129.84 L287,129.82 L287.5,129.8 L288,129.77 L288.5,129.74 L289,129.69 L289.5,129.64 L290,129.58 L290.5,129.51 L291,129.42 L291.5,129.31 L292,129.19 L292.5,129.03 L293,128.86 L293.5,128.65 L294,128.4 L294.5,128.12 L295,127.8 L295.5,127.42 L296,126.99 L296.5,126.51 L297,125.96 L297.5,125.34 L298,124.65 L298.5,123.88 L299,123.03 L299.5,122.1 L300,121.08 L300.5,119.97 L301,118.78 L301.5,117.49 L302,116.13 L302.5,114.68 L303,113.15 L303.5,111.56 L304,109.91 L304.5,108.21 L305,106.47 L305.5,104.7 L306,102.93 L306.5,101.16 L307,99.42 L307.5,97.72 L308,96.07 L308.5,94.51 L309,93.04 L309.5,91.69 L310,90.47 L310.5,89.39 L311,88.47 L311.5,87.73 L312,87.17 L312.5,86.79 L313,86.62 L313.5,86.64 L314,86.85 L314.5,87.26 L315,87.86 L315.5,88.64 L316,89.59 L316.5,90.7 L317,91.95 L317.5,93.33 L318,94.81 L318.5,96.4 L319,98.05 L319.5,99.76 L320,101.51 L320.5,103.28 L321,105.06 L321.5,106.82 L322,108.55 L322.5,110.24 L323,111.88 L323.5,113.46 L324,114.97 L324.5,116.41 L325,117.76 L325.5,119.02 L326,120.2 L326.5,121.29 L327,122.29 L327.5,123.21 L328,124.04 L328.5,124.79 L329,125.47 L329.5,126.07 L330,126.61 L330.5,127.08 L331,127.5 L331.5,127.87 L332,128.18 L332.5,128.46 L333,128.69 L333.5,128.89 L334,129.07 L334.5,129.21 L335,129.34 L335.5,129.44 L336,129.52 L336.5,129.6 L337,129.65 L337.5,129.7 L338,129.74 L338.5,129.77 L339,129.8 L339.5,129.82 L340,129.84 L340.5,129.85 L341,129.86 L341.5,129.87 L342,129.88 L342.5,129.88 L343,129.89 L343.5,129.89 L344,129.89 L344.5,129.89 L345,129.9 L345.5,129.9 L346,129.9 L346.5,129.9 L347,129.9 L347.5,129.9 L348,129.9 L348.5,129.9 L349,129.9 L349.5,129.9 L350,129.9 L350.5,129.9 L351,129.9 L351.5,129.9 L352,129.9 L352.5,129.9 L353,129.9 L353.5,129.9 L354,129.9 L354.5,129.9 L355,129.9 L355.5,129.9 L356,129.9 L356.5,129.9 L357,129.9 L357.5,129.9 L358,129.9 L358.5,129.9 L359,129.9 L359.5,129.9 L360,129.9 L360.5,129.9 L361,129.9 L361.5,129.9 L362,129.9 L362.5,129.9 L363,129.9 L363.5,129.9 L364,129.9 L364.5,129.9 L365,129.9 L365.5,129.9 L366,129.9 L366.5,129.9 L367,129.9 L367.5,129.9 L368,129.9 L368.5,129.9 L369,129.9 L369.5,129.9 L370,129.9 L370.5,129.9 L371,129.9 L371.5,129.9 L372,129.9 L372.5,129.9 L373,129.9 L373.5,129.9 L374,129.9 L374.5,129.9 L375,129.9 L375.5,129.9 L376,129.9 L376.5,129.9 L377,129.9 L377.5,129.9 L378,129.9 L378.5,129.9 L379,129.9 L379.5,129.9 L380,129.9 L380.5,129.9 L381,129.9 L381.5,129.9 L382,129.9 L382.5,129.9 L383,129.9 L383.5,129.9 L384,129.9 L384.5,129.9 L385,129.9 L385.5,129.9 L386,129.9 L386.5,129.9 L387,129.9 L387.5,129.9 L388,129.9 L388.5,129.9 L389,129.9 L389.5,129.9 L390,129.9 L390.5,129.9 L391,129.9 L391.5,129.9 L392,129.9 L392.5,129.9 L393,129.9 L393.5,129.9 L394,129.9 L394.5,129.9 L395,129.9 L395.5,129.9 L396,129.9 L396.5,129.9 L397,129.9 L397.5,129.9 L398,129.9 L398.5,129.9 L399,129.9 L399.5,129.9 L400,129.9 L400.5,129.9 L401,129.9 L401.5,129.9 L402,129.9 L402.5,129.9 L403,129.9 L403.5,129.9 L404,129.9 L404.5,129.9 L405,129.9 L405.5,129.9 L406,129.9" stroke="#f0902c" stroke-width="1.25" fill="none" stroke-linejoin="round" stroke-linecap="round" />
<path d="M275,129.66 L275.5,129.63 L276,129.6 L276.5,129.57 L277,129.53 L277.5,129.49 L278,129.45 L278.5,129.4 L279,129.35 L279.5,129.3 L280,129.23 L280.5,129.17 L281,129.1 L281.5,129.02 L282,128.93 L282.5,128.84 L283,128.74 L283.5,128.63 L284,128.51 L284.5,128.39 L285,128.25 L285.5,128.11 L286,127.95 L286.5,127.78 L287,127.6 L287.5,127.41 L288,127.2 L288.5,126.98 L289,126.74 L289.5,126.49 L290,126.22 L290.5,125.93 L291,125.63 L291.5,125.31 L292,124.97 L292.5,124.61 L293,124.23 L293.5,123.82 L294,123.4 L294.5,122.95 L295,122.48 L295.5,121.99 L296,121.47 L296.5,120.93 L297,120.36 L297.5,119.77 L298,119.15 L298.5,118.51 L299,117.84 L299.5,117.14 L300,116.42 L300.5,115.67 L301,114.89 L301.5,114.09 L302,113.26 L302.5,112.4 L303,111.53 L303.5,110.62 L304,109.7 L304.5,108.75 L305,107.78 L305.5,106.78 L306,105.77 L306.5,104.74 L307,103.69 L307.5,102.63 L308,101.55 L308.5,100.47 L309,99.37 L309.5,98.26 L310,97.14 L310.5,96.02 L311,94.9 L311.5,93.78 L312,92.66 L312.5,91.55 L313,90.44 L313.5,89.34 L314,88.26 L314.5,87.19 L315,86.14 L315.5,85.1 L316,84.09 L316.5,83.11 L317,82.15 L317.5,81.23 L318,80.33 L318.5,79.48 L319,78.66 L319.5,77.88 L320,77.14 L320.5,76.45 L321,75.8 L321.5,75.2 L322,74.65 L322.5,74.16 L323,73.72 L323.5,73.33 L324,73 L324.5,72.72 L325,72.5 L325.5,72.34 L326,72.24 L326.5,72.2 L327,72.22 L327.5,72.3 L328,72.43 L328.5,72.63 L329,72.88 L329.5,73.19 L330,73.55 L330.5,73.98 L331,74.45 L331.5,74.98 L332,75.56 L332.5,76.18 L333,76.86 L333.5,77.58 L334,78.34 L334.5,79.14 L335,79.99 L335.5,80.87 L336,81.78 L336.5,82.72 L337,83.7 L337.5,84.7 L338,85.72 L338.5,86.77 L339,87.83 L339.5,88.91 L340,90 L340.5,91.1 L341,92.22 L341.5,93.33 L342,94.45 L342.5,95.58 L343,96.7 L343.5,97.81 L344,98.92 L344.5,100.03 L345,101.12 L345.5,102.2 L346,103.27 L346.5,104.32 L347,105.36 L347.5,106.38 L348,107.38 L348.5,108.36 L349,109.32 L349.5,110.26 L350,111.17 L350.5,112.06 L351,112.92 L351.5,113.76 L352,114.57 L352.5,115.36 L353,116.12 L353.5,116.85 L354,117.56 L354.5,118.24 L355,118.9 L355.5,119.53 L356,120.13 L356.5,120.71 L357,121.26 L357.5,121.79 L358,122.29 L358.5,122.77 L359,123.22 L359.5,123.66 L360,124.07 L360.5,124.46 L361,124.83 L361.5,125.18 L362,125.5 L362.5,125.82 L363,126.11 L363.5,126.38 L364,126.64 L364.5,126.88 L365,127.11 L365.5,127.32 L366,127.52 L366.5,127.71 L367,127.88 L367.5,128.04 L368,128.19 L368.5,128.33 L369,128.46 L369.5,128.58 L370,128.7 L370.5,128.8 L371,128.9 L371.5,128.98 L372,129.06 L372.5,129.14 L373,129.21 L373.5,129.27 L374,129.33 L374.5,129.38 L375,129.43 L375.5,129.48 L376,129.52 L376.5,129.55 L377,129.59 L377.5,129.62 L378,129.65 L378.5,129.67 L379,129.7 L379.5,129.72 L380,129.74 L380.5,129.75 L381,129.77 L381.5,129.78 L382,129.79 L382.5,129.81 L383,129.82 L383.5,129.83 L384,129.83 L384.5,129.84 L385,129.85 L385.5,129.85 L386,129.86 L386.5,129.86 L387,129.87 L387.5,129.87 L388,129.88 L388.5,129.88 L389,129.88 L389.5,129.88 L390,129.89 L390.5,129.89 L391,129.89 L391.5,129.89 L392,129.89 L392.5,129.89 L393,129.89 L393.5,129.89 L394,129.89 L394.5,129.9 L395,129.9 L395.5,129.9 L396,129.9 L396.5,129.9 L397,129.9 L397.5,129.9 L398,129.9 L398.5,129.9 L399,129.9 L399.5,129.9 L400,129.9 L400.5,129.9 L401,129.9 L401.5,129.9 L402,129.9 L402.5,129.9 L403,129.9 L403.5,129.9 L404,129.9 L404.5,129.9 L405,129.9 L405.5,129.9 L406,129.9" stroke="#3cb878" stroke-width="1.25" fill="none" stroke-linejoin="round" stroke-linecap="round" />
<path d="M290,129.9 L290.5,129.9 L291,129.9 L291.5,129.9 L292,129.9 L292.5,129.9 L293,129.9 L293.5,129.9 L294,129.9 L294.5,129.9 L295,129.9 L295.5,129.9 L296,129.9 L296.5,129.9 L297,129.9 L297.5,129.9 L298,129.9 L298.5,129.9 L299,129.9 L299.5,129.9 L300,129.9 L300.5,129.9 L301,129.9 L301.5,129.9 L302,129.9 L302.5,129.9 L303,129.9 L303.5,129.9 L304,129.9 L304.5,129.9 L305,129.9 L305.5,129.9 L306,129.9 L306.5,129.9 L307,129.89 L307.5,129.89 L308,129.89 L308.5,129.89 L309,129.89 L309.5,129.89 L310,129.89 L310.5,129.89 L311,129.88 L311.5,129.88 L312,129.88 L312.5,129.88 L313,129.87 L313.5,129.87 L314,129.87 L314.5,129.86 L315,129.86 L315.5,129.85 L316,129.85 L316.5,129.84 L317,129.83 L317.5,129.82 L318,129.82 L318.5,129.81 L319,129.8 L319.5,129.78 L320,129.77 L320.5,129.76 L321,129.74 L321.5,129.72 L322,129.71 L322.5,129.69 L323,129.66 L323.5,129.64 L324,129.62 L324.5,129.59 L325,129.56 L325.5,129.53 L326,129.49 L326.5,129.45 L327,129.41 L327.5,129.37 L328,129.32 L328.5,129.27 L329,129.22 L329.5,129.16 L330,129.1 L330.5,129.03 L331,128.97 L331.5,128.89 L332,128.82 L332.5,128.73 L333,128.65 L333.5,128.56 L334,128.46 L334.5,128.36 L335,128.25 L335.5,128.14 L336,128.03 L336.5,127.9 L337,127.78 L337.5,127.65 L338,127.51 L338.5,127.37 L339,127.22 L339.5,127.07 L340,126.92 L340.5,126.75 L341,126.59 L341.5,126.42 L342,126.25 L342.5,126.07 L343,125.89 L343.5,125.71 L344,125.52 L344.5,125.33 L345,125.14 L345.5,124.95 L346,124.75 L346.5,124.56 L347,124.36 L347.5,124.17 L348,123.97 L348.5,123.78 L349,123.59 L349.5,123.4 L350,123.22 L350.5,123.03 L351,122.86 L351.5,122.68 L352,122.51 L352.5,122.35 L353,122.19 L353.5,122.04 L354,121.9 L354.5,121.77 L355,121.64 L355.5,121.52 L356,121.41 L356.5,121.31 L357,121.23 L357.5,121.15 L358,121.08 L358.5,121.02 L359,120.97 L359.5,120.94 L360,120.91 L360.5,120.9 L361,120.9 L361.5,120.91 L362,120.93 L362.5,120.97 L363,121.01 L363.5,121.07 L364,121.13 L364.5,121.21 L365,121.3 L365.5,121.39 L366,121.5 L366.5,121.62 L367,121.74 L367.5,121.87 L368,122.01 L368.5,122.16 L369,122.32 L369.5,122.48 L370,122.65 L370.5,122.82 L371,123 L371.5,123.18 L372,123.36 L372.5,123.55 L373,123.74 L373.5,123.94 L374,124.13 L374.5,124.32 L375,124.52 L375.5,124.71 L376,124.91 L376.5,125.1 L377,125.29 L377.5,125.48 L378,125.67 L378.5,125.85 L379,126.03 L379.5,126.21 L380,126.39 L380.5,126.56 L381,126.72 L381.5,126.88 L382,127.04 L382.5,127.19 L383,127.34 L383.5,127.48 L384,127.62 L384.5,127.75 L385,127.88 L385.5,128 L386,128.12 L386.5,128.23 L387,128.34 L387.5,128.44 L388,128.54 L388.5,128.63 L389,128.72 L389.5,128.8 L390,128.88 L390.5,128.95 L391,129.02 L391.5,129.09 L392,129.15 L392.5,129.21 L393,129.26 L393.5,129.31 L394,129.36 L394.5,129.4 L395,129.44 L395.5,129.48 L396,129.52 L396.5,129.55 L397,129.58 L397.5,129.61 L398,129.64 L398.5,129.66 L399,129.68 L399.5,129.7 L400,129.72 L400.5,129.74 L401,129.75 L401.5,129.77 L402,129.78 L402.5,129.79 L403,129.8 L403.5,129.81 L404,129.82 L404.5,129.83 L405,129.84 L405.5,129.84 L406,129.85" stroke="#d93a3a" stroke-width="1.25" fill="none" stroke-linejoin="round" stroke-linecap="round" />
<path d="M241.8,129.9 L242.3,129.9 L242.8,129.9 L243.3,129.9 L243.8,129.9 L244.3,129.9 L244.8,129.9 L245.3,129.9 L245.8,129.9 L246.3,129.9 L246.8,129.9 L247.3,129.9 L247.8,129.9 L248.3,129.9 L248.8,129.9 L249.3,129.9 L249.8,129.9 L250.3,129.9 L250.8,129.9 L251.3,129.9 L251.8,129.9 L252.3,129.9 L252.8,129.9 L253.3,129.9 L253.8,129.9 L254.3,129.9 L254.8,129.9 L255.3,129.9 L255.8,129.9 L256.3,129.9 L256.8,129.9 L257.3,129.9 L257.8,129.9 L258.3,129.9 L258.8,129.9 L259.3,129.9 L259.8,129.9 L260.3,129.9 L260.8,129.9 L261.3,129.9 L261.8,129.9 L262.3,129.9 L262.8,129.9 L263.3,129.9 L263.8,129.9 L264.3,129.9 L264.8,129.9 L265.3,129.9 L265.8,129.9 L266.3,129.9 L266.8,129.9 L267.3,129.9 L267.8,129.9 L268.3,129.9 L268.8,129.9 L269.3,129.9 L269.8,129.9 L270.3,129.9 L270.8,129.9 L271.3,129.9 L271.8,129.9 L272.3,129.9 L272.8,129.9 L273.3,129.9 L273.8,129.9 L274.3,129.9 L274.8,129.89 L275.3,129.89 L275.8,129.89 L276.3,129.89 L276.8,129.88 L277.3,129.88 L277.8,129.87 L278.3,129.86 L278.8,129.85 L279.3,129.84 L279.8,129.83 L280.3,129.81 L280.8,129.78 L281.3,129.76 L281.8,129.72 L282.3,129.68 L282.8,129.63 L283.3,129.58 L283.8,129.51 L284.3,129.43 L284.8,129.33 L285.3,129.21 L285.8,129.08 L286.3,128.93 L286.8,128.75 L287.3,128.54 L287.8,128.3 L288.3,128.03 L288.8,127.71 L289.3,127.36 L289.8,126.96 L290.3,126.51 L290.8,126.01 L291.3,125.44 L291.8,124.82 L292.3,124.13 L292.8,123.36 L293.3,122.53 L293.8,121.61 L294.3,120.62 L294.8,119.54 L295.3,118.38 L295.8,117.14 L296.3,115.8 L296.8,114.38 L297.3,112.88 L297.8,111.29 L298.3,109.61 L298.8,107.86 L299.3,106.03 L299.8,104.14 L300.3,102.18 L300.8,100.17 L301.3,98.1 L301.8,96 L302.3,93.86 L302.8,91.7 L303.3,89.53 L303.8,87.35 L304.3,85.19 L304.8,83.04 L305.3,80.93 L305.8,78.86 L306.3,76.84 L306.8,74.88 L307.3,72.99 L307.8,71.18 L308.3,69.46 L308.8,67.84 L309.3,66.32 L309.8,64.91 L310.3,63.61 L310.8,62.43 L311.3,61.36 L311.8,60.42 L312.3,59.59 L312.8,58.89 L313.3,58.3 L313.8,57.82 L314.3,57.45 L314.8,57.17 L315.3,56.99 L315.8,56.89 L316.3,56.84 L316.8,56.84 L317.3,56.86 L317.8,56.91 L318.3,57.02 L318.8,57.17 L319.3,57.39 L319.8,57.66 L320.3,58 L320.8,58.41 L321.3,58.89 L321.8,59.44 L322.3,60.06 L322.8,60.76 L323.3,61.53 L323.8,62.38 L324.3,63.29 L324.8,64.28 L325.3,65.34 L325.8,66.47 L326.3,67.66 L326.8,68.91 L327.3,70.22 L327.8,71.58 L328.3,73 L328.8,74.45 L329.3,75.95 L329.8,77.49 L330.3,79.06 L330.8,80.65 L331.3,82.26 L331.8,83.89 L332.3,85.52 L332.8,87.16 L333.3,88.79 L333.8,90.42 L334.3,92.04 L334.8,93.63 L335.3,95.21 L335.8,96.75 L336.3,98.27 L336.8,99.75 L337.3,101.19 L337.8,102.58 L338.3,103.93 L338.8,105.23 L339.3,106.48 L339.8,107.67 L340.3,108.81 L340.8,109.89 L341.3,110.91 L341.8,111.88 L342.3,112.78 L342.8,113.63 L343.3,114.42 L343.8,115.16 L344.3,115.84 L344.8,116.46 L345.3,117.03 L345.8,117.55 L346.3,118.02 L346.8,118.44 L347.3,118.82 L347.8,119.15 L348.3,119.44 L348.8,119.7 L349.3,119.92 L349.8,120.11 L350.3,120.27 L350.8,120.4 L351.3,120.51 L351.8,120.59 L352.3,120.66 L352.8,120.71 L353.3,120.74 L353.8,120.76 L354.3,120.78 L354.8,120.78 L355.3,120.78 L355.8,120.77 L356.3,120.76 L356.8,120.74 L357.3,120.73 L357.8,120.72 L358.3,120.72 L358.8,120.71 L359.3,120.71 L359.8,120.72 L360.3,120.73 L360.8,120.75 L361.3,120.78 L361.8,120.82 L362.3,120.86 L362.8,120.92 L363.3,120.98 L363.8,121.05 L364.3,121.13 L364.8,121.23 L365.3,121.32 L365.8,121.43 L366.3,121.55 L366.8,121.67 L367.3,121.81 L367.8,121.95 L368.3,122.09 L368.8,122.25 L369.3,122.41 L369.8,122.58 L370.3,122.75 L370.8,122.92 L371.3,123.1 L371.8,123.29 L372.3,123.48 L372.8,123.67 L373.3,123.86 L373.8,124.05 L374.3,124.25 L374.8,124.44 L375.3,124.64 L375.8,124.83 L376.3,125.02 L376.8,125.22 L377.3,125.41 L377.8,125.59 L378.3,125.78 L378.8,125.96 L379.3,126.14 L379.8,126.32 L380.3,126.49 L380.8,126.66 L381.3,126.82 L381.8,126.98 L382.3,127.13 L382.8,127.28 L383.3,127.43 L383.8,127.57 L384.3,127.7 L384.8,127.83 L385.3,127.95 L385.8,128.07 L386.3,128.19 L386.8,128.3 L387.3,128.4 L387.8,128.5 L388.3,128.59 L388.8,128.68 L389.3,128.77 L389.8,128.85 L390.3,128.92 L390.8,128.99 L391.3,129.06 L391.8,129.12 L392.3,129.18 L392.8,129.24 L393.3,129.29 L393.8,129.34 L394.3,129.39 L394.8,129.43 L395.3,129.47 L395.8,129.5 L396.3,129.54 L396.8,129.57 L397.3,129.6 L397.8,129.63 L398.3,129.65 L398.8,129.67 L399.3,129.69 L399.8,129.71 L400.3,129.73 L400.8,129.75 L401.3,129.76 L401.8,129.78 L402.3,129.79 L402.8,129.8 L403.3,129.81 L403.8,129.82 L404.3,129.83 L404.8,129.84 L405.3,129.84 L405.8,129.85 L406.3,129.85" stroke="#7a2fe6" stroke-width="1.35" fill="none" stroke-linejoin="round" stroke-linecap="round" />
<circle cx="242.3" cy="128.73" r="1" fill="#7a2fe6" stroke="none" stroke-width="0" />
<circle cx="243.48" cy="126.17" r="1" fill="#7a2fe6" stroke="none" stroke-width="0" />
<circle cx="244.94" cy="130" r="1" fill="#7a2fe6" stroke="none" stroke-width="0" />
<circle cx="246.36" cy="128.51" r="1" fill="#7a2fe6" stroke="none" stroke-width="0" />
<circle cx="247.7" cy="131.61" r="1" fill="#7a2fe6" stroke="none" stroke-width="0" />
<circle cx="248.81" cy="132.37" r="1" fill="#7a2fe6" stroke="none" stroke-width="0" />
<circle cx="250" cy="134.12" r="1" fill="#7a2fe6" stroke="none" stroke-width="0" />
<circle cx="251.03" cy="134.78" r="1" fill="#7a2fe6" stroke="none" stroke-width="0" />
<circle cx="252.7" cy="128.02" r="1" fill="#7a2fe6" stroke="none" stroke-width="0" />
<circle cx="254" cy="128.24" r="1" fill="#7a2fe6" stroke="none" stroke-width="0" />
<circle cx="255.35" cy="128.88" r="1" fill="#7a2fe6" stroke="none" stroke-width="0" />
<circle cx="256.3" cy="130.13" r="1" fill="#7a2fe6" stroke="none" stroke-width="0" />
<circle cx="257.97" cy="127.54" r="1" fill="#7a2fe6" stroke="none" stroke-width="0" />
<circle cx="259.47" cy="126.14" r="1" fill="#7a2fe6" stroke="none" stroke-width="0" />
<circle cx="260.49" cy="132.46" r="1" fill="#7a2fe6" stroke="none" stroke-width="0" />
<circle cx="261.66" cy="134.29" r="1" fill="#7a2fe6" stroke="none" stroke-width="0" />
<circle cx="263.05" cy="131.34" r="1" fill="#7a2fe6" stroke="none" stroke-width="0" />
<circle cx="263.96" cy="130.77" r="1" fill="#7a2fe6" stroke="none" stroke-width="0" />
<circle cx="265.1" cy="124.47" r="1" fill="#7a2fe6" stroke="none" stroke-width="0" />
<circle cx="266.27" cy="128.18" r="1" fill="#7a2fe6" stroke="none" stroke-width="0" />
<circle cx="267.79" cy="130.88" r="1" fill="#7a2fe6" stroke="none" stroke-width="0" />
<circle cx="268.87" cy="128.78" r="1" fill="#7a2fe6" stroke="none" stroke-width="0" />
<circle cx="270.16" cy="132.31" r="1" fill="#7a2fe6" stroke="none" stroke-width="0" />
<circle cx="271.34" cy="130.52" r="1" fill="#7a2fe6" stroke="none" stroke-width="0" />
<circle cx="272.46" cy="129.58" r="1" fill="#7a2fe6" stroke="none" stroke-width="0" />
<circle cx="273.92" cy="130.71" r="1" fill="#7a2fe6" stroke="none" stroke-width="0" />
<circle cx="275.12" cy="127.11" r="1" fill="#7a2fe6" stroke="none" stroke-width="0" />
<circle cx="276.68" cy="134.78" r="1" fill="#7a2fe6" stroke="none" stroke-width="0" />
<circle cx="278.14" cy="126.96" r="1" fill="#7a2fe6" stroke="none" stroke-width="0" />
<circle cx="279.14" cy="125.83" r="1" fill="#7a2fe6" stroke="none" stroke-width="0" />
<circle cx="280.13" cy="132.83" r="1" fill="#7a2fe6" stroke="none" stroke-width="0" />
<circle cx="281.64" cy="130.02" r="1" fill="#7a2fe6" stroke="none" stroke-width="0" />
<circle cx="283.28" cy="128.02" r="1" fill="#7a2fe6" stroke="none" stroke-width="0" />
<circle cx="284.82" cy="127.37" r="1" fill="#7a2fe6" stroke="none" stroke-width="0" />
<circle cx="286.29" cy="127.58" r="1" fill="#7a2fe6" stroke="none" stroke-width="0" />
<circle cx="287.95" cy="125.92" r="1" fill="#7a2fe6" stroke="none" stroke-width="0" />
<circle cx="288.91" cy="127.3" r="1" fill="#7a2fe6" stroke="none" stroke-width="0" />
<circle cx="289.99" cy="127.49" r="1" fill="#7a2fe6" stroke="none" stroke-width="0" />
<circle cx="291.09" cy="125.74" r="1" fill="#7a2fe6" stroke="none" stroke-width="0" />
<circle cx="292.06" cy="125.53" r="1" fill="#7a2fe6" stroke="none" stroke-width="0" />
<circle cx="293.3" cy="124.81" r="1" fill="#7a2fe6" stroke="none" stroke-width="0" />
<circle cx="294.36" cy="119.53" r="1" fill="#7a2fe6" stroke="none" stroke-width="0" />
<circle cx="295.71" cy="118.46" r="1" fill="#7a2fe6" stroke="none" stroke-width="0" />
<circle cx="296.81" cy="118.6" r="1" fill="#7a2fe6" stroke="none" stroke-width="0" />
<circle cx="298.25" cy="109.01" r="1" fill="#7a2fe6" stroke="none" stroke-width="0" />
<circle cx="299.71" cy="106.25" r="1" fill="#7a2fe6" stroke="none" stroke-width="0" />
<circle cx="300.94" cy="96.95" r="1" fill="#7a2fe6" stroke="none" stroke-width="0" />
<circle cx="302.14" cy="94.81" r="1" fill="#7a2fe6" stroke="none" stroke-width="0" />
<circle cx="303.67" cy="88.05" r="1" fill="#7a2fe6" stroke="none" stroke-width="0" />
<circle cx="305.19" cy="81.43" r="1" fill="#7a2fe6" stroke="none" stroke-width="0" />
<circle cx="306.11" cy="75.09" r="1" fill="#7a2fe6" stroke="none" stroke-width="0" />
<circle cx="307.62" cy="72.75" r="1" fill="#7a2fe6" stroke="none" stroke-width="0" />
<circle cx="308.55" cy="72.85" r="1" fill="#7a2fe6" stroke="none" stroke-width="0" />
<circle cx="309.7" cy="66.68" r="1" fill="#7a2fe6" stroke="none" stroke-width="0" />
<circle cx="310.88" cy="65.3" r="1" fill="#7a2fe6" stroke="none" stroke-width="0" />
<circle cx="312.1" cy="58.93" r="1" fill="#7a2fe6" stroke="none" stroke-width="0" />
<circle cx="313.37" cy="59.68" r="1" fill="#7a2fe6" stroke="none" stroke-width="0" />
<circle cx="314.51" cy="57.3" r="1" fill="#7a2fe6" stroke="none" stroke-width="0" />
<circle cx="315.62" cy="57.59" r="1" fill="#7a2fe6" stroke="none" stroke-width="0" />
<circle cx="316.75" cy="59.79" r="1" fill="#7a2fe6" stroke="none" stroke-width="0" />
<circle cx="317.9" cy="56.62" r="1" fill="#7a2fe6" stroke="none" stroke-width="0" />
<circle cx="319.24" cy="59.84" r="1" fill="#7a2fe6" stroke="none" stroke-width="0" />
<circle cx="320.2" cy="57.55" r="1" fill="#7a2fe6" stroke="none" stroke-width="0" />
<circle cx="321.8" cy="59.51" r="1" fill="#7a2fe6" stroke="none" stroke-width="0" />
<circle cx="323.05" cy="60.31" r="1" fill="#7a2fe6" stroke="none" stroke-width="0" />
<circle cx="324.63" cy="62.37" r="1" fill="#7a2fe6" stroke="none" stroke-width="0" />
<circle cx="325.6" cy="67.22" r="1" fill="#7a2fe6" stroke="none" stroke-width="0" />
<circle cx="326.79" cy="70.27" r="1" fill="#7a2fe6" stroke="none" stroke-width="0" />
<circle cx="328.36" cy="73.04" r="1" fill="#7a2fe6" stroke="none" stroke-width="0" />
<circle cx="329.94" cy="79.25" r="1" fill="#7a2fe6" stroke="none" stroke-width="0" />
<circle cx="331.35" cy="84.97" r="1" fill="#7a2fe6" stroke="none" stroke-width="0" />
<circle cx="332.58" cy="82.58" r="1" fill="#7a2fe6" stroke="none" stroke-width="0" />
<circle cx="334.21" cy="94.26" r="1" fill="#7a2fe6" stroke="none" stroke-width="0" />
<circle cx="335.12" cy="95.68" r="1" fill="#7a2fe6" stroke="none" stroke-width="0" />
<circle cx="336.53" cy="99.75" r="1" fill="#7a2fe6" stroke="none" stroke-width="0" />
<circle cx="337.67" cy="104.21" r="1" fill="#7a2fe6" stroke="none" stroke-width="0" />
<circle cx="338.65" cy="103.87" r="1" fill="#7a2fe6" stroke="none" stroke-width="0" />
<circle cx="339.71" cy="109.49" r="1" fill="#7a2fe6" stroke="none" stroke-width="0" />
<circle cx="341.13" cy="112.16" r="1" fill="#7a2fe6" stroke="none" stroke-width="0" />
<circle cx="342.17" cy="115.19" r="1" fill="#7a2fe6" stroke="none" stroke-width="0" />
<circle cx="343.77" cy="117.77" r="1" fill="#7a2fe6" stroke="none" stroke-width="0" />
<circle cx="345.11" cy="115" r="1" fill="#7a2fe6" stroke="none" stroke-width="0" />
<circle cx="346.51" cy="119.12" r="1" fill="#7a2fe6" stroke="none" stroke-width="0" />
<circle cx="347.93" cy="117.95" r="1" fill="#7a2fe6" stroke="none" stroke-width="0" />
<circle cx="349.08" cy="120.47" r="1" fill="#7a2fe6" stroke="none" stroke-width="0" />
<circle cx="350.24" cy="118.85" r="1" fill="#7a2fe6" stroke="none" stroke-width="0" />
<circle cx="351.93" cy="120.3" r="1" fill="#7a2fe6" stroke="none" stroke-width="0" />
<circle cx="353.55" cy="124.57" r="1" fill="#7a2fe6" stroke="none" stroke-width="0" />
<circle cx="355.02" cy="121.08" r="1" fill="#7a2fe6" stroke="none" stroke-width="0" />
<circle cx="356.7" cy="118.02" r="1" fill="#7a2fe6" stroke="none" stroke-width="0" />
<circle cx="358.34" cy="120.57" r="1" fill="#7a2fe6" stroke="none" stroke-width="0" />
<circle cx="359.57" cy="122.29" r="1" fill="#7a2fe6" stroke="none" stroke-width="0" />
<circle cx="360.74" cy="120.4" r="1" fill="#7a2fe6" stroke="none" stroke-width="0" />
<circle cx="362.37" cy="121.64" r="1" fill="#7a2fe6" stroke="none" stroke-width="0" />
<circle cx="363.74" cy="120.44" r="1" fill="#7a2fe6" stroke="none" stroke-width="0" />
<circle cx="364.64" cy="124.37" r="1" fill="#7a2fe6" stroke="none" stroke-width="0" />
<circle cx="366.14" cy="123.38" r="1" fill="#7a2fe6" stroke="none" stroke-width="0" />
<circle cx="367.77" cy="119.79" r="1" fill="#7a2fe6" stroke="none" stroke-width="0" />
<circle cx="369.16" cy="122.56" r="1" fill="#7a2fe6" stroke="none" stroke-width="0" />
<circle cx="370.78" cy="121.6" r="1" fill="#7a2fe6" stroke="none" stroke-width="0" />
<circle cx="372.18" cy="122.72" r="1" fill="#7a2fe6" stroke="none" stroke-width="0" />
<circle cx="373.71" cy="127.47" r="1" fill="#7a2fe6" stroke="none" stroke-width="0" />
<circle cx="374.91" cy="125.2" r="1" fill="#7a2fe6" stroke="none" stroke-width="0" />
<circle cx="376.36" cy="126" r="1" fill="#7a2fe6" stroke="none" stroke-width="0" />
<circle cx="377.57" cy="127.99" r="1" fill="#7a2fe6" stroke="none" stroke-width="0" />
<circle cx="378.57" cy="127.25" r="1" fill="#7a2fe6" stroke="none" stroke-width="0" />
<circle cx="379.51" cy="124.79" r="1" fill="#7a2fe6" stroke="none" stroke-width="0" />
<circle cx="380.84" cy="125.88" r="1" fill="#7a2fe6" stroke="none" stroke-width="0" />
<circle cx="382.44" cy="130.03" r="1" fill="#7a2fe6" stroke="none" stroke-width="0" />
<circle cx="383.84" cy="127.47" r="1" fill="#7a2fe6" stroke="none" stroke-width="0" />
<circle cx="385.33" cy="130.93" r="1" fill="#7a2fe6" stroke="none" stroke-width="0" />
<circle cx="386.44" cy="124.06" r="1" fill="#7a2fe6" stroke="none" stroke-width="0" />
<circle cx="387.49" cy="125.89" r="1" fill="#7a2fe6" stroke="none" stroke-width="0" />
<circle cx="388.42" cy="131.56" r="1" fill="#7a2fe6" stroke="none" stroke-width="0" />
<circle cx="389.45" cy="130.54" r="1" fill="#7a2fe6" stroke="none" stroke-width="0" />
<circle cx="391.07" cy="124.72" r="1" fill="#7a2fe6" stroke="none" stroke-width="0" />
<circle cx="392.53" cy="133.38" r="1" fill="#7a2fe6" stroke="none" stroke-width="0" />
<circle cx="393.44" cy="127.3" r="1" fill="#7a2fe6" stroke="none" stroke-width="0" />
<circle cx="394.93" cy="134.18" r="1" fill="#7a2fe6" stroke="none" stroke-width="0" />
<circle cx="396.41" cy="129.83" r="1" fill="#7a2fe6" stroke="none" stroke-width="0" />
<circle cx="397.56" cy="128.62" r="1" fill="#7a2fe6" stroke="none" stroke-width="0" />
<circle cx="399.15" cy="129.93" r="1" fill="#7a2fe6" stroke="none" stroke-width="0" />
<circle cx="400.8" cy="129.96" r="1" fill="#7a2fe6" stroke="none" stroke-width="0" />
<circle cx="402.25" cy="132.19" r="1" fill="#7a2fe6" stroke="none" stroke-width="0" />
<circle cx="403.93" cy="129.86" r="1" fill="#7a2fe6" stroke="none" stroke-width="0" />
<circle cx="405.52" cy="131.57" r="1" fill="#7a2fe6" stroke="none" stroke-width="0" />
<text x="282.5" y="89" font-size="6.6" text-anchor="start" font-weight="normal" fill="#161616" stroke="#161616" stroke-width="0.1" >H<tspan font-size="5" dy="1.5">3</tspan><tspan dy="-1.5">C</tspan></text>
<line x1="295.6" y1="86.4" x2="298.2" y2="86.4" stroke="#333" stroke-width="0.6" />
<text x="298.6" y="89" font-size="6.8" text-anchor="start" font-weight="bold" fill="#161616" >N</text>
<line x1="310" y1="97.5" x2="301" y2="93.5" stroke="#f0902c" stroke-width="1.2" />
<path d="M298.4,92.3 L303.2,92.6 L301.6,95.6 Z" fill="#f0902c"/>
<line x1="330.5" y1="81.9" x2="337.5" y2="76.5" stroke="#3cb878" stroke-width="1.2" />
<path d="M340.5,74.2 L335.7,75.2 L338.1,78 Z" fill="#3cb878"/>
<text x="335" y="73.6" font-size="6.8" text-anchor="start" font-weight="bold" fill="#161616" >N</text>
<text x="343.1" y="69.8" font-size="6.4" text-anchor="start" font-weight="normal" fill="#161616" stroke="#161616" stroke-width="0.1" >C</text>
<text x="343.1" y="60.6" font-size="6.4" text-anchor="start" font-weight="normal" fill="#161616" stroke="#161616" stroke-width="0.1" >O</text>
<line x1="344.4" y1="61.8" x2="344.4" y2="64.8" stroke="#444" stroke-width="0.5" stroke-dasharray="1,0.8"/>
<line x1="346" y1="61.8" x2="346" y2="64.8" stroke="#444" stroke-width="0.5" />
<line x1="347.6" y1="68" x2="353.3" y2="71.2" stroke="#444" stroke-width="0.6" />
<text x="371.2" y="110.7" font-size="6.8" text-anchor="start" font-weight="bold" fill="#161616" >N</text>
<line x1="377.6" y1="108.2" x2="381" y2="108.2" stroke="#333" stroke-width="0.6" />
<text x="381.6" y="110.7" font-size="6.8" text-anchor="start" font-weight="normal" fill="#161616" stroke="#161616" stroke-width="0.1" >Zn</text>
<line x1="363" y1="120.8" x2="374" y2="115.3" stroke="#d93a3a" stroke-width="1.2" />
<path d="M377,113.6 L372.2,114 L373.9,117 Z" fill="#d93a3a"/>
<text x="419" y="12.6" font-size="10.5" text-anchor="start" font-weight="bold" fill="#000" >c</text>
<rect x="447.7" y="18" width="164.8" height="122.3" stroke="#3a3a3a" stroke-width="1.0" fill="none" />
<line x1="447.7" y1="140.3" x2="447.7" y2="137.3" stroke="#3a3a3a" stroke-width="0.9" />
<text x="447.7" y="150.9" font-size="8.5" text-anchor="middle" font-weight="normal" fill="#161616" stroke="#161616" stroke-width="0.22" >280</text>
<line x1="468.4" y1="140.3" x2="468.4" y2="138.3" stroke="#3a3a3a" stroke-width="0.9" />
<line x1="489.1" y1="140.3" x2="489.1" y2="137.3" stroke="#3a3a3a" stroke-width="0.9" />
<text x="489.1" y="150.9" font-size="8.5" text-anchor="middle" font-weight="normal" fill="#161616" stroke="#161616" stroke-width="0.22" >290</text>
<line x1="509.8" y1="140.3" x2="509.8" y2="138.3" stroke="#3a3a3a" stroke-width="0.9" />
<line x1="530.5" y1="140.3" x2="530.5" y2="137.3" stroke="#3a3a3a" stroke-width="0.9" />
<text x="530.5" y="150.9" font-size="8.5" text-anchor="middle" font-weight="normal" fill="#161616" stroke="#161616" stroke-width="0.22" >300</text>
<line x1="551.2" y1="140.3" x2="551.2" y2="138.3" stroke="#3a3a3a" stroke-width="0.9" />
<line x1="571.9" y1="140.3" x2="571.9" y2="137.3" stroke="#3a3a3a" stroke-width="0.9" />
<text x="571.9" y="150.9" font-size="8.5" text-anchor="middle" font-weight="normal" fill="#161616" stroke="#161616" stroke-width="0.22" >310</text>
<line x1="592.6" y1="140.3" x2="592.6" y2="138.3" stroke="#3a3a3a" stroke-width="0.9" />
<line x1="613.3" y1="140.3" x2="613.3" y2="137.3" stroke="#3a3a3a" stroke-width="0.9" />
<text x="613.3" y="150.9" font-size="8.5" text-anchor="middle" font-weight="normal" fill="#161616" stroke="#161616" stroke-width="0.22" >320</text>
<line x1="447.7" y1="137.6" x2="450.7" y2="137.6" stroke="#3a3a3a" stroke-width="0.9" />
<text x="444.8" y="140.2" font-size="8.5" text-anchor="end" font-weight="normal" fill="#161616" stroke="#161616" stroke-width="0.22" >0</text>
<line x1="447.7" y1="117.7" x2="449.7" y2="117.7" stroke="#3a3a3a" stroke-width="0.9" />
<line x1="447.7" y1="97.8" x2="450.7" y2="97.8" stroke="#3a3a3a" stroke-width="0.9" />
<text x="444.8" y="100.4" font-size="8.5" text-anchor="end" font-weight="normal" fill="#161616" stroke="#161616" stroke-width="0.22" >1</text>
<line x1="447.7" y1="77.9" x2="449.7" y2="77.9" stroke="#3a3a3a" stroke-width="0.9" />
<line x1="447.7" y1="58" x2="450.7" y2="58" stroke="#3a3a3a" stroke-width="0.9" />
<text x="444.8" y="60.6" font-size="8.5" text-anchor="end" font-weight="normal" fill="#161616" stroke="#161616" stroke-width="0.22" >2</text>
<line x1="447.7" y1="38.1" x2="449.7" y2="38.1" stroke="#3a3a3a" stroke-width="0.9" />
<line x1="447.7" y1="18.2" x2="450.7" y2="18.2" stroke="#3a3a3a" stroke-width="0.9" />
<text x="444.8" y="20.8" font-size="8.5" text-anchor="end" font-weight="normal" fill="#161616" stroke="#161616" stroke-width="0.22" >3</text>
<text x="530" y="161" font-size="9.1" text-anchor="middle" font-weight="normal" fill="#161616" stroke="#161616" stroke-width="0.22" >Photon energy (eV)</text>
<text x="425.8" y="79.5" font-size="9.1" text-anchor="middle" font-weight="normal" fill="#161616" stroke="#161616" stroke-width="0.22" transform="rotate(-90 425.8 79.5)" >Normalized absorption</text>
<text x="457.3" y="29" font-size="7.4" text-anchor="start" font-weight="normal" fill="#161616" stroke="#161616" stroke-width="0.1" >C K-edge</text>
<path d="M447.7,136.04 L448.9,136.2 L450.61,136.07 L452.61,136.17 L454.67,136.15 L456.54,135.77 L458,135.71 L459.03,136.2 L459.81,135.89 L460.41,135.9 L460.89,136.36 L461.33,135.97 L461.8,136 L462.26,135.53 L462.66,135.34 L463.01,134.68 L463.34,134.5 L463.66,134.02 L464,133.01 L464.35,132.08 L464.71,130.71 L465.06,128.88 L465.39,127.79 L465.71,126.27 L466,124.88 L466.26,123.7 L466.49,123.29 L466.7,122.23 L466.9,121.61 L467.1,120.97 L467.3,120.13 L467.49,119.61 L467.66,118.8 L467.83,118.57 L468.01,117.8 L468.23,117.33 L468.5,116.23 L468.85,114.16 L469.27,112.12 L469.73,109.91 L470.19,108.16 L470.63,105.99 L471,104.88 L471.31,104.11 L471.57,104.11 L471.81,104.26 L472.04,104.7 L472.26,105.43 L472.5,106.05 L472.75,106.98 L473,107.81 L473.24,109.04 L473.49,110.14 L473.74,111.32 L474,112.1 L474.26,112.75 L474.53,114.19 L474.81,115.24 L475.08,116.04 L475.34,116.42 L475.6,116.73 L475.84,116.34 L476.08,116.41 L476.31,115.69 L476.53,114.66 L476.76,113.33 L477,112.21 L477.24,110.21 L477.49,107.1 L477.74,104.62 L478,101.26 L478.25,97.92 L478.5,94.88 L478.75,91.79 L479,88.06 L479.25,83.7 L479.5,80.45 L479.75,77.14 L480,75.53 L480.26,74.44 L480.52,74.84 L480.78,75.58 L481.04,76.28 L481.28,77.59 L481.5,77.89 L481.69,78.3 L481.85,79.26 L482,79.59 L482.15,80.27 L482.31,80.8 L482.5,81.07 L482.72,80.54 L482.96,79.88 L483.22,79.61 L483.48,78.51 L483.74,78.27 L484,77.94 L484.24,77.64 L484.46,77.89 L484.69,78.28 L484.93,78.84 L485.19,79.4 L485.5,80.04 L485.85,80.86 L486.24,82.01 L486.66,82.8 L487.09,83.86 L487.54,85.12 L488,85.84 L488.48,86.88 L488.98,88.32 L489.49,89.07 L490.01,90.04 L490.52,90.55 L491,91.45 L491.45,92.08 L491.87,92.19 L492.27,92.88 L492.69,93.05 L493.12,92.65 L493.6,92.68 L494.12,91.92 L494.69,91.06 L495.28,89.66 L495.87,88.56 L496.45,87.3 L497,85.71 L497.5,84.67 L497.96,83.97 L498.4,83.08 L498.87,81.64 L499.39,80.82 L500,80.06 L500.66,79.11 L501.33,78.38 L502.06,77.67 L502.89,77.13 L503.85,76.82 L505,76.38 L506.44,76.4 L508.15,76.84 L510,76.73 L511.85,77.45 L513.56,77.9 L515,77.89 L516.06,77.93 L516.85,78.29 L517.5,77.93 L518.15,77.89 L518.94,78.1 L520,78.42 L521.32,78.38 L522.78,78.96 L524.38,79.47 L526.11,80.27 L527.99,80.47 L530,81.01 L532.21,80.67 L534.63,80.65 L537.19,80.65 L539.81,80.65 L542.44,80.43 L545,80.64 L547.5,81.3 L550,82.57 L552.5,83.58 L555,85.21 L557.5,86.41 L560,87.01 L562.5,87.86 L565,88.87 L567.5,89.39 L570,90.07 L572.5,90.34 L575,90.78 L577.42,91.43 L579.73,92.25 L582.04,92.43 L584.46,92.97 L587.08,93.52 L590,94.05 L593.55,94.65 L597.72,95.62 L602.09,95.84 L606.25,96.38 L609.79,97.48 L612.3,97.83" stroke="#7a2fe6" stroke-width="1.5" fill="none" stroke-linejoin="round" stroke-linecap="round" />
<path d="M447.7,135.74 L448.9,135.63 L450.61,135.77 L452.61,135.58 L454.67,135.47 L456.54,135.61 L458,135.85 L459.03,135.76 L459.81,135.78 L460.41,135.49 L460.89,135.63 L461.33,135.28 L461.8,134.8 L462.26,134.11 L462.66,133.34 L463.01,132.78 L463.34,131.62 L463.66,130.42 L464,129.18 L464.35,127.42 L464.71,125.89 L465.06,124.4 L465.39,122.82 L465.71,121.41 L466,120.23 L466.26,118.89 L466.49,118.59 L466.7,118.18 L466.9,117.7 L467.1,117.11 L467.3,116.78 L467.49,116.06 L467.67,116.19 L467.84,115.74 L468.03,115.01 L468.24,114.06 L468.5,113.25 L468.81,111.21 L469.17,108.96 L469.56,106.23 L469.96,103.41 L470.34,101.17 L470.7,99.86 L471.03,99.17 L471.34,98.97 L471.64,99.46 L471.94,100.45 L472.22,100.85 L472.5,101.73 L472.77,103.1 L473.03,104.2 L473.27,105.82 L473.52,107.29 L473.76,108.66 L474,110.3 L474.24,110.99 L474.47,112.34 L474.69,113.36 L474.92,114.58 L475.16,115.02 L475.4,115.31 L475.66,115.5 L475.92,115.02 L476.19,114.64 L476.47,113.89 L476.74,111.92 L477,109.74 L477.25,106.76 L477.5,103.14 L477.74,98.57 L477.99,93.64 L478.24,89.08 L478.5,84.81 L478.77,80.99 L479.05,76.67 L479.33,73.08 L479.62,69.52 L479.91,66.37 L480.2,63.74 L480.5,62.29 L480.8,60.92 L481.11,60.77 L481.41,61.07 L481.71,60.76 L482,59.95 L482.28,59.27 L482.56,57.91 L482.83,56.76 L483.1,55.16 L483.35,53.89 L483.6,52.97 L483.83,51.73 L484.04,50.77 L484.25,50.07 L484.46,48.84 L484.67,48.1 L484.9,48.03 L485.15,48.51 L485.41,49.7 L485.69,50.59 L485.96,51.9 L486.24,53.26 L486.5,55.29 L486.74,56.57 L486.97,58.28 L487.19,60.15 L487.43,62.13 L487.69,64.09 L488,66.11 L488.36,67.36 L488.76,68.82 L489.19,70.53 L489.64,71.7 L490.08,73.32 L490.5,73.77 L490.9,74.82 L491.28,75.63 L491.66,75.91 L492.05,76.61 L492.46,76.48 L492.9,76.35 L493.37,76.27 L493.85,75.7 L494.35,75.42 L494.87,74.65 L495.42,74.2 L496,73.2 L496.6,71.77 L497.21,69.98 L497.86,68.45 L498.53,66.76 L499.24,65.16 L500,63.84 L500.77,63.06 L501.54,61.51 L502.35,60.46 L503.24,60.14 L504.24,59.3 L505.4,59.19 L506.81,58.84 L508.46,59.48 L510.22,59.88 L511.99,60.6 L513.62,61.19 L515,61.5 L516.04,61.56 L516.82,61.87 L517.48,62.48 L518.13,62.71 L518.93,62.96 L520,62.9 L521.32,63.42 L522.78,63.84 L524.38,64.11 L526.11,64.63 L527.99,64.94 L530,65.59 L532.21,66.25 L534.63,66.68 L537.19,67.82 L539.81,68.7 L542.44,69.17 L545,70.88 L547.5,72.3 L550,73.77 L552.5,75.18 L555,77.54 L557.5,78.89 L560,81.08 L562.5,82.51 L565,83.77 L567.5,85.42 L570,87.21 L572.5,88.58 L575,89.95 L577.42,91.16 L579.73,91.71 L582.04,92.45 L584.46,93.78 L587.08,93.94 L590,95.13 L593.55,95.29 L597.72,96.26 L602.09,96.74 L606.25,97.22 L609.79,97.36 L612.3,97.83" stroke="#f0902c" stroke-width="1.5" fill="none" stroke-linejoin="round" stroke-linecap="round" />
<text x="463" y="116.5" font-size="6.4" text-anchor="middle" font-weight="normal" fill="#161616" stroke="#161616" stroke-width="0.1" >a</text>
<text x="468.8" y="98.2" font-size="6.4" text-anchor="middle" font-weight="normal" fill="#161616" stroke="#161616" stroke-width="0.1" >b</text>
<text x="473.6" y="98.9" font-size="6.4" text-anchor="middle" font-weight="normal" fill="#161616" stroke="#161616" stroke-width="0.1" >c</text>
<text x="477.8" y="64.6" font-size="6.4" text-anchor="middle" font-weight="normal" fill="#161616" stroke="#161616" stroke-width="0.1" >d</text>
<text x="485.8" y="46.6" font-size="6.4" text-anchor="middle" font-weight="normal" fill="#161616" stroke="#161616" stroke-width="0.1" >e</text>
<text x="503.7" y="56.5" font-size="6.4" text-anchor="middle" font-weight="normal" fill="#161616" stroke="#161616" stroke-width="0.1" >f</text>
<line x1="551.9" y1="120.4" x2="569.8" y2="120.4" stroke="#7a2fe6" stroke-width="1.4" />
<line x1="551.9" y1="129.4" x2="569.8" y2="129.4" stroke="#f0902c" stroke-width="1.4" />
<text x="571.5" y="123.1" font-size="7.4" text-anchor="start" font-weight="normal" fill="#161616" stroke="#161616" stroke-width="0.1" >F3N</text>
<text x="571.5" y="132.1" font-size="7.4" text-anchor="start" font-weight="normal" fill="#161616" stroke="#161616" stroke-width="0.1" >AZnO-F3N</text>
<text x="5" y="171.8" font-size="10.5" text-anchor="start" font-weight="bold" fill="#000" >d</text>
<rect x="34.75" y="177.25" width="164.75" height="122.95" stroke="#3a3a3a" stroke-width="1.0" fill="none" />
<line x1="47.25" y1="300.2" x2="47.25" y2="298.2" stroke="#3a3a3a" stroke-width="0.9" />
<line x1="69" y1="300.2" x2="69" y2="297.2" stroke="#3a3a3a" stroke-width="0.9" />
<line x1="90.75" y1="300.2" x2="90.75" y2="298.2" stroke="#3a3a3a" stroke-width="0.9" />
<line x1="112.5" y1="300.2" x2="112.5" y2="297.2" stroke="#3a3a3a" stroke-width="0.9" />
<line x1="134.25" y1="300.2" x2="134.25" y2="298.2" stroke="#3a3a3a" stroke-width="0.9" />
<line x1="156" y1="300.2" x2="156" y2="297.2" stroke="#3a3a3a" stroke-width="0.9" />
<line x1="177.75" y1="300.2" x2="177.75" y2="298.2" stroke="#3a3a3a" stroke-width="0.9" />
<line x1="199.5" y1="300.2" x2="199.5" y2="297.2" stroke="#3a3a3a" stroke-width="0.9" />
<text x="69" y="309.9" font-size="8.5" text-anchor="middle" font-weight="normal" fill="#161616" stroke="#161616" stroke-width="0.22" >500</text>
<text x="112.5" y="309.9" font-size="8.5" text-anchor="middle" font-weight="normal" fill="#161616" stroke="#161616" stroke-width="0.22" >600</text>
<text x="156" y="309.9" font-size="8.5" text-anchor="middle" font-weight="normal" fill="#161616" stroke="#161616" stroke-width="0.22" >700</text>
<text x="199.5" y="309.9" font-size="8.5" text-anchor="middle" font-weight="normal" fill="#161616" stroke="#161616" stroke-width="0.22" >800</text>
<line x1="34.75" y1="192.5" x2="36.75" y2="192.5" stroke="#3a3a3a" stroke-width="0.9" />
<line x1="34.75" y1="223.1" x2="36.75" y2="223.1" stroke="#3a3a3a" stroke-width="0.9" />
<line x1="34.75" y1="253.7" x2="36.75" y2="253.7" stroke="#3a3a3a" stroke-width="0.9" />
<line x1="34.75" y1="284.3" x2="36.75" y2="284.3" stroke="#3a3a3a" stroke-width="0.9" />
<line x1="34.75" y1="177.2" x2="37.75" y2="177.2" stroke="#3a3a3a" stroke-width="0.9" />
<text x="31.45" y="180.25" font-size="8.5" text-anchor="end" font-weight="normal" fill="#161616" stroke="#161616" stroke-width="0.22" >6</text>
<line x1="34.75" y1="207.8" x2="37.75" y2="207.8" stroke="#3a3a3a" stroke-width="0.9" />
<text x="31.45" y="210.85" font-size="8.5" text-anchor="end" font-weight="normal" fill="#161616" stroke="#161616" stroke-width="0.22" >3</text>
<line x1="34.75" y1="238.4" x2="37.75" y2="238.4" stroke="#3a3a3a" stroke-width="0.9" />
<text x="31.45" y="241.45" font-size="8.5" text-anchor="end" font-weight="normal" fill="#161616" stroke="#161616" stroke-width="0.22" >0</text>
<line x1="34.75" y1="269" x2="37.75" y2="269" stroke="#3a3a3a" stroke-width="0.9" />
<text x="31.45" y="272.05" font-size="8.5" text-anchor="end" font-weight="normal" fill="#161616" stroke="#161616" stroke-width="0.22" >-3</text>
<line x1="34.75" y1="299.6" x2="37.75" y2="299.6" stroke="#3a3a3a" stroke-width="0.9" />
<text x="31.45" y="302.65" font-size="8.5" text-anchor="end" font-weight="normal" fill="#161616" stroke="#161616" stroke-width="0.22" >-6</text>
<text x="117.12" y="320.5" font-size="9.2" text-anchor="middle" font-weight="normal" fill="#161616" stroke="#161616" stroke-width="0.22" >Wavelength (nm)</text>
<text x="119.5" y="187" font-size="7.4" text-anchor="middle" font-weight="normal" fill="#161616" stroke="#161616" stroke-width="0.1" >F3N</text>
<text x="9.7" y="238" font-size="9.2" text-anchor="middle" font-weight="normal" fill="#161616" stroke="#161616" stroke-width="0.22" transform="rotate(-90 9.7 238)" >ΔA/A (10<tspan font-size="5.5" dy="-3.2">-3</tspan><tspan dy="3.2">)</tspan></text>
<line x1="34.75" y1="238.4" x2="199.5" y2="238.4" stroke="#505050" stroke-width="1.1" />
<path d="M36.81,242.81 L37.56,238.06 L38.31,232.81 L39.06,227.75 L39.81,222.98 L40.56,218.54 L41.31,214.32 L42.06,209.84 L42.81,206.19 L43.56,202.98 L44.31,200.35 L45.06,198.25 L45.81,197.09 L46.56,196.5 L47.31,194.76 L48.06,193.99 L48.81,194.73 L49.56,193.81 L50.31,194.26 L51.06,194.54 L51.81,194.08 L52.56,195.92 L53.31,195.79 L54.06,195.25 L54.81,195.73 L55.56,195.85 L56.31,195.7 L57.06,196.32 L57.81,197.04 L58.56,197.94 L59.31,198.32 L60.06,198.5 L60.81,199.36 L61.56,198.7 L62.31,199.71 L63.06,200.36 L63.81,200.28 L64.56,200.18 L65.31,201.08 L66.06,201.98 L66.81,202.51 L67.56,203.39 L68.31,202.59 L69.06,203.41 L69.81,204.07 L70.56,204.16 L71.31,203.69 L72.06,205.64 L72.81,206.84 L73.56,207.21 L74.31,207.31 L75.06,208.53 L75.81,209.39 L76.56,210.65 L77.31,210.09 L78.06,210.22 L78.81,211.61 L79.56,211.68 L80.31,213.41 L81.06,213.19 L81.81,214.27 L82.56,215.84 L83.31,217.26 L84.06,218.26 L84.81,219.51 L85.56,220.05 L86.31,222.19 L87.06,224.08 L87.81,226 L88.56,228.16 L89.31,229.07 L90.06,230.65 L90.81,231.28 L91.56,232.09 L92.31,233.35 L93.06,234.63 L93.81,236.11 L94.56,237.01 L95.31,238.89 L96.06,240.45 L96.81,244.11 L97.56,246.53 L98.31,248.38 L99.06,250.85 L99.81,253.08 L100.56,256.19 L101.31,258.53 L102.06,261.44 L102.81,262.56 L103.56,264.11 L104.31,265.26 L105.06,268.75 L105.81,269.86 L106.56,270.59 L107.31,273.41 L108.06,274.5 L108.81,278.52 L109.56,278.71 L110.31,279.21 L111.06,279.48 L111.81,279.1 L112.56,280.91 L113.31,281.1 L114.06,282.85 L114.81,282.16 L115.56,283.06 L116.31,284.34 L117.06,284.89 L117.81,284.35 L118.56,284.93 L119.31,286.76 L120.06,287.28 L120.81,286.84 L121.56,287.33 L122.31,287.67 L123.06,287.96 L123.81,288.64 L124.56,289.88 L125.31,290.11 L126.06,291.19 L126.81,290.59 L127.56,290.7 L128.31,289.66 L129.06,289.31 L129.81,287.94 L130.56,287.21 L131.31,287.82 L132.06,287.5 L132.81,286.28 L133.56,285.08 L134.31,283 L135.06,280.75 L135.81,279.45 L136.56,277.51 L137.31,275.32 L138.06,273.1 L138.81,271.17 L139.56,269.76 L140.31,267.76 L141.06,265.2 L141.81,263.81 L142.56,261.06 L143.31,259.24 L144.06,257.74 L144.81,255.13 L145.56,252.99 L146.31,252.54 L147.06,250.23 L147.81,249.51 L148.56,247.31 L149.31,245.8 L150.06,243.72 L150.81,239.95 L151.56,239.94 L152.31,237.22 L153.06,235.13 L153.81,232.8 L154.56,230.65 L155.31,227.6 L156.06,224.58 L156.81,220.2 L157.56,219.06 L158.31,215.58 L159.06,215.11 L159.81,212.83 L160.56,208.73 L161.31,207.3 L162.06,206 L162.81,205.69 L163.56,202.6 L164.31,201.15 L165.06,199.61 L165.81,201.1 L166.56,198.97 L167.31,196.67 L168.06,196.42 L168.81,195.66 L169.56,194.44 L170.31,192.35 L171.06,190.77 L171.81,188.74 L172.56,190.32 L173.31,194.88 L174.06,195.63 L174.81,196.67 L175.56,196.9 L176.31,196.55 L177.06,195.59 L177.81,193.97 L178.56,195.95 L179.31,197.66 L180.06,197.62 L180.81,198.93 L181.56,200.08 L182.31,201.43 L183.06,205.46 L183.81,202.27 L184.56,206 L185.31,205.9 L186.06,205.99 L186.81,206.93 L187.56,208.76 L188.31,208.46 L189.06,209.55 L189.81,210.67 L190.56,212.64 L191.31,215.61 L192.06,215.58 L192.81,216.72 L193.56,219.03 L194.31,221.61 L195.06,223.46 L195.81,227.84 L196.56,227.8 L197.31,227.64 L198.06,230.73 L198.81,228.68" stroke="#3cb878" stroke-width="1.15" fill="none" stroke-linejoin="round" stroke-linecap="round" />
<path d="M36.81,243.06 L37.56,239.3 L38.31,235.35 L39.06,231.51 L39.81,228.16 L40.56,224.35 L41.31,220.74 L42.06,217.38 L42.81,215.85 L43.56,213.85 L44.31,211.89 L45.06,210.3 L45.81,209.45 L46.56,207.18 L47.31,207.96 L48.06,206.3 L48.81,207.26 L49.56,207.55 L50.31,208.25 L51.06,207.59 L51.81,208.48 L52.56,208.33 L53.31,207.29 L54.06,208.6 L54.81,208.3 L55.56,208.54 L56.31,208.28 L57.06,208.87 L57.81,209.16 L58.56,209.93 L59.31,209.69 L60.06,211.42 L60.81,209.99 L61.56,210.42 L62.31,210.88 L63.06,210.95 L63.81,212.44 L64.56,212.48 L65.31,212 L66.06,212.95 L66.81,213.76 L67.56,212.94 L68.31,214.04 L69.06,214.27 L69.81,215.85 L70.56,215.43 L71.31,215.55 L72.06,215.98 L72.81,217.62 L73.56,216.96 L74.31,218.65 L75.06,217.35 L75.81,218.37 L76.56,218.72 L77.31,218.9 L78.06,219.57 L78.81,220.71 L79.56,220.88 L80.31,221.36 L81.06,223.39 L81.81,224.16 L82.56,223.92 L83.31,225.12 L84.06,224.49 L84.81,226.79 L85.56,226.37 L86.31,227.66 L87.06,229.98 L87.81,229.52 L88.56,231.15 L89.31,231.44 L90.06,231.85 L90.81,232.82 L91.56,234.1 L92.31,234.02 L93.06,235.11 L93.81,236.72 L94.56,237.76 L95.31,238.85 L96.06,241.93 L96.81,242.85 L97.56,244.97 L98.31,245.43 L99.06,248.25 L99.81,248.42 L100.56,249.74 L101.31,251.78 L102.06,253.35 L102.81,255.12 L103.56,256.09 L104.31,257.99 L105.06,259.77 L105.81,260.3 L106.56,261.35 L107.31,262.46 L108.06,263.59 L108.81,264.12 L109.56,264.3 L110.31,264.96 L111.06,266.29 L111.81,267.59 L112.56,267.47 L113.31,268.98 L114.06,269.04 L114.81,269.57 L115.56,269.6 L116.31,270.91 L117.06,270.68 L117.81,270.34 L118.56,271.72 L119.31,271.46 L120.06,272.33 L120.81,272 L121.56,271.71 L122.31,272.14 L123.06,272.02 L123.81,272.03 L124.56,272.56 L125.31,273.08 L126.06,272.87 L126.81,272.92 L127.56,272.78 L128.31,273.27 L129.06,273.09 L129.81,273.32 L130.56,273.06 L131.31,273.86 L132.06,272.09 L132.81,272.59 L133.56,272.51 L134.31,272.22 L135.06,270.54 L135.81,269.66 L136.56,269.01 L137.31,268.21 L138.06,266.98 L138.81,264.83 L139.56,264.53 L140.31,263.88 L141.06,261.81 L141.81,259.68 L142.56,258.14 L143.31,256.26 L144.06,255.96 L144.81,253.86 L145.56,252.33 L146.31,250.6 L147.06,249.3 L147.81,247.22 L148.56,245.41 L149.31,244.16 L150.06,242.41 L150.81,241.28 L151.56,239.51 L152.31,238.7 L153.06,236.42 L153.81,235.01 L154.56,233.16 L155.31,230.52 L156.06,230.38 L156.81,228.71 L157.56,227.69 L158.31,230.24 L159.06,228.8 L159.81,226.04 L160.56,225.97 L161.31,224.48 L162.06,223.09 L162.81,219.94 L163.56,220.4 L164.31,218.42 L165.06,218.63 L165.81,218.47 L166.56,217.76 L167.31,218.32 L168.06,215.49 L168.81,216.21 L169.56,214.58 L170.31,212.53 L171.06,212.56 L171.81,212.47 L172.56,213.05 L173.31,211.01 L174.06,213.59 L174.81,211.26 L175.56,211.52 L176.31,207.75 L177.06,208.29 L177.81,211.72 L178.56,210.61 L179.31,212.79 L180.06,216.32 L180.81,215.59 L181.56,221.76 L182.31,227.3 L183.06,228.34 L183.81,229.17 L184.56,231.05 L185.31,230.79 L186.06,231.94 L186.81,232.54 L187.56,231.07 L188.31,233.73 L189.06,234.86 L189.81,236.89 L190.56,236.5 L191.31,233.36 L192.06,235.85 L192.81,234.87 L193.56,231.66 L194.31,232.19 L195.06,230.11 L195.81,232.42 L196.56,233.98 L197.31,232.67 L198.06,233.41 L198.81,233.16" stroke="#7a2fe6" stroke-width="1.15" fill="none" stroke-linejoin="round" stroke-linecap="round" />
<path d="M36.81,241.31 L37.56,240.33 L38.31,238.85 L39.06,237.02 L39.81,236.53 L40.56,235.33 L41.31,233.3 L42.06,232.77 L42.81,232.28 L43.56,230.57 L44.31,230.49 L45.06,229.89 L45.81,229.32 L46.56,227.75 L47.31,227.3 L48.06,227.19 L48.81,227.06 L49.56,225.93 L50.31,225.78 L51.06,225.39 L51.81,225.82 L52.56,225.02 L53.31,225.07 L54.06,224.8 L54.81,224.7 L55.56,224.24 L56.31,224.03 L57.06,224.11 L57.81,223.78 L58.56,223.16 L59.31,223.31 L60.06,223.72 L60.81,223.52 L61.56,223.41 L62.31,223.66 L63.06,224.61 L63.81,223.59 L64.56,223.78 L65.31,223.87 L66.06,223.84 L66.81,224.5 L67.56,224.62 L68.31,224.57 L69.06,224.12 L69.81,225.03 L70.56,224.92 L71.31,224.63 L72.06,223.82 L72.81,224.63 L73.56,224.66 L74.31,225.35 L75.06,225.65 L75.81,225.8 L76.56,226.51 L77.31,226.39 L78.06,226.92 L78.81,226.6 L79.56,227.22 L80.31,228.09 L81.06,228.15 L81.81,228.2 L82.56,228.55 L83.31,229.06 L84.06,229.56 L84.81,230.18 L85.56,230.43 L86.31,230.98 L87.06,231.36 L87.81,231.52 L88.56,232.38 L89.31,233.09 L90.06,233.71 L90.81,234.64 L91.56,235.28 L92.31,235.54 L93.06,235.83 L93.81,236.87 L94.56,237.69 L95.31,239 L96.06,239.63 L96.81,240.45 L97.56,240.99 L98.31,241.31 L99.06,242.13 L99.81,242.65 L100.56,243.53 L101.31,244.71 L102.06,245.5 L102.81,246.31 L103.56,246.99 L104.31,248.13 L105.06,248.88 L105.81,247.92 L106.56,249.22 L107.31,249.71 L108.06,250.73 L108.81,251.45 L109.56,251.32 L110.31,252.53 L111.06,252.14 L111.81,252.54 L112.56,253.24 L113.31,253.42 L114.06,253.9 L114.81,253.97 L115.56,254.07 L116.31,254.64 L117.06,254.54 L117.81,255.69 L118.56,255.75 L119.31,256.51 L120.06,255.96 L120.81,255.87 L121.56,255.97 L122.31,256.74 L123.06,256.77 L123.81,257.57 L124.56,257.29 L125.31,257.55 L126.06,258.27 L126.81,258.24 L127.56,258.66 L128.31,258.55 L129.06,258.22 L129.81,257.51 L130.56,257.72 L131.31,258.89 L132.06,258.29 L132.81,258.47 L133.56,258.07 L134.31,257.63 L135.06,257.16 L135.81,256.59 L136.56,256.11 L137.31,255.11 L138.06,255.74 L138.81,254.8 L139.56,253.99 L140.31,254.08 L141.06,253.63 L141.81,252.42 L142.56,252.06 L143.31,251.92 L144.06,250.73 L144.81,249.75 L145.56,248.96 L146.31,247.46 L147.06,246.23 L147.81,245.65 L148.56,244 L149.31,243.14 L150.06,242.55 L150.81,241.52 L151.56,240.17 L152.31,240.8 L153.06,239.18 L153.81,239.44 L154.56,238.25 L155.31,236.97 L156.06,237.81 L156.81,236.06 L157.56,234.89 L158.31,234.65 L159.06,232.86 L159.81,234.29 L160.56,233.37 L161.31,233.47 L162.06,232.24 L162.81,232.62 L163.56,231.62 L164.31,231.75 L165.06,232 L165.81,230.66 L166.56,230.36 L167.31,230.7 L168.06,229.91 L168.81,230.37 L169.56,231.55 L170.31,229.96 L171.06,228.89 L171.81,230.24 L172.56,230.57 L173.31,231.49 L174.06,229.32 L174.81,229.33 L175.56,230.6 L176.31,230.7 L177.06,231.33 L177.81,230.67 L178.56,231.38 L179.31,230.7 L180.06,232.41 L180.81,232.05 L181.56,232.6 L182.31,231.91 L183.06,231.2 L183.81,232.74 L184.56,232.89 L185.31,233.87 L186.06,233.65 L186.81,232.63 L187.56,232.65 L188.31,231.96 L189.06,233 L189.81,233.41 L190.56,232.57 L191.31,231.69 L192.06,233.59 L192.81,231.46 L193.56,233.87 L194.31,233.48 L195.06,233.82 L195.81,231.18 L196.56,232.1 L197.31,229.81 L198.06,231.11 L198.81,230.93" stroke="#f0902c" stroke-width="1.15" fill="none" stroke-linejoin="round" stroke-linecap="round" />
<path d="M36.81,241.13 L37.56,240.9 L38.31,239.81 L39.06,238.62 L39.81,237.53 L40.56,237.57 L41.31,236.4 L42.06,236.08 L42.81,235.25 L43.56,234.76 L44.31,234.98 L45.06,234.53 L45.81,233.93 L46.56,233.71 L47.31,233.66 L48.06,232.93 L48.81,232.64 L49.56,232.61 L50.31,232.64 L51.06,232.33 L51.81,231.89 L52.56,232.15 L53.31,231.7 L54.06,231.6 L54.81,232.46 L55.56,231.74 L56.31,232.17 L57.06,232.28 L57.81,231.91 L58.56,231.62 L59.31,231.45 L60.06,231.26 L60.81,231.12 L61.56,231.49 L62.31,232.09 L63.06,231.86 L63.81,231.45 L64.56,231.53 L65.31,231.17 L66.06,231.07 L66.81,231.28 L67.56,231.89 L68.31,231.27 L69.06,230.9 L69.81,231.49 L70.56,231.31 L71.31,231.64 L72.06,231.72 L72.81,231.2 L73.56,231.45 L74.31,231.29 L75.06,232.05 L75.81,231.72 L76.56,232.26 L77.31,233.28 L78.06,232.63 L78.81,232.91 L79.56,232.82 L80.31,232.94 L81.06,233.05 L81.81,233.54 L82.56,233.45 L83.31,233.69 L84.06,233.31 L84.81,233.95 L85.56,233.63 L86.31,234.7 L87.06,234.72 L87.81,235.42 L88.56,235.41 L89.31,236.06 L90.06,236.46 L90.81,237.04 L91.56,237.24 L92.31,237.46 L93.06,237.88 L93.81,238.12 L94.56,238.27 L95.31,238.41 L96.06,238.56 L96.81,239.81 L97.56,239.34 L98.31,239.52 L99.06,240.43 L99.81,240.51 L100.56,240.68 L101.31,241.34 L102.06,241.82 L102.81,241.29 L103.56,242.22 L104.31,242.26 L105.06,242.77 L105.81,242.61 L106.56,243.58 L107.31,243.59 L108.06,242.63 L108.81,243.89 L109.56,244.14 L110.31,243.67 L111.06,244.5 L111.81,244.66 L112.56,244.85 L113.31,244.59 L114.06,245.08 L114.81,245.13 L115.56,244.88 L116.31,244.88 L117.06,244.39 L117.81,245.21 L118.56,244.82 L119.31,245.33 L120.06,245.26 L120.81,246.46 L121.56,245.89 L122.31,246.5 L123.06,246.09 L123.81,246.13 L124.56,246.4 L125.31,246.17 L126.06,246.84 L126.81,246.08 L127.56,246.59 L128.31,245.84 L129.06,245.98 L129.81,246.49 L130.56,245.98 L131.31,247.04 L132.06,246.69 L132.81,246.6 L133.56,247.07 L134.31,246.36 L135.06,246.25 L135.81,245.66 L136.56,245.8 L137.31,246.2 L138.06,245.52 L138.81,246.04 L139.56,245.77 L140.31,245.26 L141.06,244.51 L141.81,244.62 L142.56,244.32 L143.31,244.73 L144.06,244.53 L144.81,243.77 L145.56,243.39 L146.31,242.78 L147.06,242.21 L147.81,240.99 L148.56,240.34 L149.31,240.49 L150.06,240.06 L150.81,239.8 L151.56,238.99 L152.31,238.66 L153.06,237.91 L153.81,236.99 L154.56,237.89 L155.31,237.4 L156.06,236.52 L156.81,236.38 L157.56,235.82 L158.31,235.2 L159.06,235.12 L159.81,234.52 L160.56,234.67 L161.31,235.02 L162.06,234.64 L162.81,233.56 L163.56,234.35 L164.31,233.94 L165.06,233.48 L165.81,235.15 L166.56,233.33 L167.31,234.75 L168.06,232.36 L168.81,233.87 L169.56,232.8 L170.31,234.07 L171.06,233.38 L171.81,232.18 L172.56,233.42 L173.31,233.98 L174.06,234.02 L174.81,234.23 L175.56,232.71 L176.31,235.05 L177.06,232.57 L177.81,232.57 L178.56,230.95 L179.31,231.75 L180.06,231.07 L180.81,232.99 L181.56,231.87 L182.31,235.29 L183.06,234.06 L183.81,234.46 L184.56,233.79 L185.31,233.16 L186.06,233.75 L186.81,233.82 L187.56,232.06 L188.31,232.53 L189.06,233.06 L189.81,234.09 L190.56,232.44 L191.31,234.25 L192.06,233.99 L192.81,235.32 L193.56,235.29 L194.31,233.63 L195.06,233.51 L195.81,235.95 L196.56,235.69 L197.31,234.84 L198.06,235.63 L198.81,234.88" stroke="#2f6fd6" stroke-width="1.15" fill="none" stroke-linejoin="round" stroke-linecap="round" />
<path d="M36.81,240.45 L37.56,239.66 L38.31,239.43 L39.06,239.23 L39.81,237.7 L40.56,237.71 L41.31,236.94 L42.06,237.38 L42.81,236.59 L43.56,236.29 L44.31,235.79 L45.06,235.18 L45.81,235.25 L46.56,235.09 L47.31,234.87 L48.06,235.37 L48.81,235.02 L49.56,234.42 L50.31,234.27 L51.06,234.18 L51.81,233.41 L52.56,233.85 L53.31,233.98 L54.06,234.51 L54.81,234.54 L55.56,233.69 L56.31,233.67 L57.06,232.49 L57.81,232.97 L58.56,232.71 L59.31,233.01 L60.06,233.32 L60.81,233.43 L61.56,233.87 L62.31,233.2 L63.06,234.08 L63.81,233.06 L64.56,233.78 L65.31,233.27 L66.06,233 L66.81,233.35 L67.56,232.88 L68.31,233.09 L69.06,233.18 L69.81,234.14 L70.56,233.03 L71.31,234.04 L72.06,233.47 L72.81,233.47 L73.56,233.65 L74.31,234.32 L75.06,234 L75.81,233.79 L76.56,234.05 L77.31,233.79 L78.06,233.91 L78.81,233.52 L79.56,234.64 L80.31,234.86 L81.06,234.42 L81.81,234.59 L82.56,234.9 L83.31,234.79 L84.06,235.46 L84.81,235.75 L85.56,235.93 L86.31,235.74 L87.06,235.54 L87.81,236.33 L88.56,235.97 L89.31,237.01 L90.06,237.5 L90.81,237.28 L91.56,237.82 L92.31,238.24 L93.06,238.41 L93.81,238.03 L94.56,238.12 L95.31,238.32 L96.06,238.54 L96.81,238.44 L97.56,239 L98.31,239.57 L99.06,239.22 L99.81,239.42 L100.56,239.18 L101.31,239.52 L102.06,240.04 L102.81,240.39 L103.56,240.25 L104.31,240.06 L105.06,240.91 L105.81,239.65 L106.56,240.14 L107.31,240.27 L108.06,240.76 L108.81,241.18 L109.56,241.06 L110.31,242.47 L111.06,242.15 L111.81,241.92 L112.56,241.58 L113.31,241.33 L114.06,242.25 L114.81,242.37 L115.56,242.6 L116.31,243.26 L117.06,243.26 L117.81,242.29 L118.56,241.76 L119.31,241.85 L120.06,241.88 L120.81,242.09 L121.56,242.03 L122.31,241.96 L123.06,242.04 L123.81,242.74 L124.56,243.06 L125.31,242.78 L126.06,242.72 L126.81,242.95 L127.56,242.8 L128.31,243.15 L129.06,242.67 L129.81,243.1 L130.56,242.8 L131.31,243.31 L132.06,244 L132.81,242.98 L133.56,243.45 L134.31,244.23 L135.06,243.83 L135.81,243.38 L136.56,243.19 L137.31,242.63 L138.06,242.01 L138.81,241.47 L139.56,241.89 L140.31,241.74 L141.06,242.26 L141.81,241.98 L142.56,241.38 L143.31,241.97 L144.06,241.36 L144.81,242.01 L145.56,241.15 L146.31,241.34 L147.06,240.66 L147.81,240.01 L148.56,240.1 L149.31,239.21 L150.06,237.92 L150.81,238.69 L151.56,237.91 L152.31,237.98 L153.06,238.14 L153.81,238.24 L154.56,237.75 L155.31,236.9 L156.06,236.86 L156.81,236.03 L157.56,235.98 L158.31,235.11 L159.06,235.94 L159.81,235.22 L160.56,236.65 L161.31,237.5 L162.06,236.12 L162.81,235.15 L163.56,235.74 L164.31,233.93 L165.06,234.57 L165.81,235.73 L166.56,235.04 L167.31,234.14 L168.06,233.77 L168.81,233.3 L169.56,235.1 L170.31,235.6 L171.06,235.17 L171.81,233.88 L172.56,234.3 L173.31,233.34 L174.06,233.26 L174.81,234.62 L175.56,234.23 L176.31,232.01 L177.06,231.82 L177.81,233.39 L178.56,231.9 L179.31,234.29 L180.06,234.61 L180.81,232.66 L181.56,233.65 L182.31,234.93 L183.06,234.9 L183.81,233.82 L184.56,233.62 L185.31,233.19 L186.06,233.67 L186.81,233.41 L187.56,232.7 L188.31,232.91 L189.06,233.77 L189.81,234.15 L190.56,233.63 L191.31,232.51 L192.06,233.48 L192.81,234.08 L193.56,233.5 L194.31,234.64 L195.06,233.95 L195.81,234.49 L196.56,234.79 L197.31,232.28 L198.06,235.19 L198.81,235.96" stroke="#d93a3a" stroke-width="1.15" fill="none" stroke-linejoin="round" stroke-linecap="round" />
<line x1="155" y1="252.2" x2="171" y2="252.2" stroke="#555555" stroke-width="1.2" />
<text x="172.3" y="254.8" font-size="7" text-anchor="start" font-weight="normal" fill="#161616" stroke="#161616" stroke-width="0.1" >0 ps</text>
<line x1="155" y1="260.7" x2="171" y2="260.7" stroke="#3cb878" stroke-width="1.2" />
<text x="172.3" y="263.3" font-size="7" text-anchor="start" font-weight="normal" fill="#161616" stroke="#161616" stroke-width="0.1" >0.65 ps</text>
<line x1="155" y1="269.2" x2="171" y2="269.2" stroke="#7a2fe6" stroke-width="1.5" />
<text x="172.3" y="271.8" font-size="7" text-anchor="start" font-weight="normal" fill="#161616" stroke="#161616" stroke-width="0.1" >1 ps</text>
<line x1="155" y1="277.7" x2="171" y2="277.7" stroke="#f0902c" stroke-width="1.2" />
<text x="172.3" y="280.3" font-size="7" text-anchor="start" font-weight="normal" fill="#161616" stroke="#161616" stroke-width="0.1" >10 ps</text>
<line x1="155" y1="286.2" x2="171" y2="286.2" stroke="#2f6fd6" stroke-width="1.2" />
<text x="172.3" y="288.8" font-size="7" text-anchor="start" font-weight="normal" fill="#161616" stroke="#161616" stroke-width="0.1" >100 ps</text>
<line x1="155" y1="294.7" x2="171" y2="294.7" stroke="#d93a3a" stroke-width="1.2" />
<text x="172.3" y="297.3" font-size="7" text-anchor="start" font-weight="normal" fill="#161616" stroke="#161616" stroke-width="0.1" >1000 ps</text>
<text x="211" y="171.9" font-size="10.5" text-anchor="start" font-weight="bold" fill="#000" >e</text>
<rect x="241.25" y="177" width="164.85" height="122.9" stroke="#3a3a3a" stroke-width="1.0" fill="none" />
<line x1="253.85" y1="299.9" x2="253.85" y2="297.9" stroke="#3a3a3a" stroke-width="0.9" />
<line x1="275.6" y1="299.9" x2="275.6" y2="296.9" stroke="#3a3a3a" stroke-width="0.9" />
<line x1="297.35" y1="299.9" x2="297.35" y2="297.9" stroke="#3a3a3a" stroke-width="0.9" />
<line x1="319.1" y1="299.9" x2="319.1" y2="296.9" stroke="#3a3a3a" stroke-width="0.9" />
<line x1="340.85" y1="299.9" x2="340.85" y2="297.9" stroke="#3a3a3a" stroke-width="0.9" />
<line x1="362.6" y1="299.9" x2="362.6" y2="296.9" stroke="#3a3a3a" stroke-width="0.9" />
<line x1="384.35" y1="299.9" x2="384.35" y2="297.9" stroke="#3a3a3a" stroke-width="0.9" />
<line x1="406.1" y1="299.9" x2="406.1" y2="296.9" stroke="#3a3a3a" stroke-width="0.9" />
<text x="275.6" y="309.9" font-size="8.5" text-anchor="middle" font-weight="normal" fill="#161616" stroke="#161616" stroke-width="0.22" >500</text>
<text x="319.1" y="309.9" font-size="8.5" text-anchor="middle" font-weight="normal" fill="#161616" stroke="#161616" stroke-width="0.22" >600</text>
<text x="362.6" y="309.9" font-size="8.5" text-anchor="middle" font-weight="normal" fill="#161616" stroke="#161616" stroke-width="0.22" >700</text>
<text x="406.1" y="309.9" font-size="8.5" text-anchor="middle" font-weight="normal" fill="#161616" stroke="#161616" stroke-width="0.22" >800</text>
<line x1="241.25" y1="183.18" x2="243.25" y2="183.18" stroke="#3a3a3a" stroke-width="0.9" />
<line x1="241.25" y1="219.93" x2="243.25" y2="219.93" stroke="#3a3a3a" stroke-width="0.9" />
<line x1="241.25" y1="256.68" x2="243.25" y2="256.68" stroke="#3a3a3a" stroke-width="0.9" />
<line x1="241.25" y1="293.43" x2="243.25" y2="293.43" stroke="#3a3a3a" stroke-width="0.9" />
<line x1="241.25" y1="201.55" x2="244.25" y2="201.55" stroke="#3a3a3a" stroke-width="0.9" />
<text x="237.95" y="204.6" font-size="8.5" text-anchor="end" font-weight="normal" fill="#161616" stroke="#161616" stroke-width="0.22" >3</text>
<line x1="241.25" y1="238.3" x2="244.25" y2="238.3" stroke="#3a3a3a" stroke-width="0.9" />
<text x="237.95" y="241.35" font-size="8.5" text-anchor="end" font-weight="normal" fill="#161616" stroke="#161616" stroke-width="0.22" >0</text>
<line x1="241.25" y1="275.05" x2="244.25" y2="275.05" stroke="#3a3a3a" stroke-width="0.9" />
<text x="237.95" y="278.1" font-size="8.5" text-anchor="end" font-weight="normal" fill="#161616" stroke="#161616" stroke-width="0.22" >-3</text>
<text x="323.68" y="320.5" font-size="9.2" text-anchor="middle" font-weight="normal" fill="#161616" stroke="#161616" stroke-width="0.22" >Wavelength (nm)</text>
<text x="326" y="187" font-size="7.4" text-anchor="middle" font-weight="normal" fill="#161616" stroke="#161616" stroke-width="0.1" >AZnO-F3N</text>
<text x="215.5" y="238" font-size="9.2" text-anchor="middle" font-weight="normal" fill="#161616" stroke="#161616" stroke-width="0.22" transform="rotate(-90 215.5 238)" >ΔA/A (10<tspan font-size="5.5" dy="-3.2">-3</tspan><tspan dy="3.2">)</tspan></text>
<line x1="241.25" y1="238.3" x2="406.1" y2="238.3" stroke="#505050" stroke-width="1.1" />
<path d="M243.41,238.74 L244.16,234.84 L244.91,229.35 L245.66,225.21 L246.41,220.45 L247.16,215.77 L247.91,211.39 L248.66,207.42 L249.41,203.65 L250.16,200.58 L250.91,198.37 L251.66,197.04 L252.41,196.2 L253.16,195.16 L253.91,194.68 L254.66,194.22 L255.41,194.02 L256.16,193.85 L256.91,194.39 L257.66,195.26 L258.41,194.84 L259.16,194.97 L259.91,196.39 L260.66,195.88 L261.41,196.56 L262.16,197.1 L262.91,196.75 L263.66,198.88 L264.41,199.3 L265.16,199.3 L265.91,200.26 L266.66,200.56 L267.41,200.48 L268.16,201.19 L268.91,201.77 L269.66,202.63 L270.41,202.99 L271.16,203.26 L271.91,204.31 L272.66,203.7 L273.41,204.76 L274.16,205.28 L274.91,204.97 L275.66,204.64 L276.41,205.42 L277.16,206.42 L277.91,207.15 L278.66,208.27 L279.41,207.81 L280.16,209.44 L280.91,210.94 L281.66,211.81 L282.41,211.64 L283.16,213.53 L283.91,214.65 L284.66,214.5 L285.41,214.36 L286.16,215.3 L286.91,216.31 L287.66,218.12 L288.41,218.16 L289.16,218.89 L289.91,220.59 L290.66,221.16 L291.41,223.36 L292.16,223.56 L292.91,224.91 L293.66,226.66 L294.41,228.21 L295.16,229.1 L295.91,230.15 L296.66,230.43 L297.41,232.19 L298.16,233.61 L298.91,235.09 L299.66,237.06 L300.41,238.16 L301.16,240.28 L301.91,241.69 L302.66,243.3 L303.41,245.39 L304.16,247.46 L304.91,249.59 L305.66,250.93 L306.41,252.97 L307.16,254.34 L307.91,257.51 L308.66,259.06 L309.41,259.82 L310.16,261.09 L310.91,261.98 L311.66,263.62 L312.41,264.51 L313.16,266.16 L313.91,266.54 L314.66,267.3 L315.41,267.7 L316.16,270.22 L316.91,270.04 L317.66,269.56 L318.41,270.64 L319.16,270.55 L319.91,273.51 L320.66,273.08 L321.41,273.24 L322.16,273.09 L322.91,272.37 L323.66,273.42 L324.41,273.27 L325.16,274.69 L325.91,273.87 L326.66,274.6 L327.41,275.53 L328.16,275.6 L328.91,274.15 L329.66,273.93 L330.41,274.89 L331.16,274.65 L331.91,273.73 L332.66,273.8 L333.41,273.69 L334.16,273.12 L334.91,272.25 L335.66,272 L336.41,270.64 L337.16,270.6 L337.91,269.13 L338.66,268.54 L339.41,267.39 L340.16,266.53 L340.91,264.59 L341.66,262.8 L342.41,262.57 L343.16,261.55 L343.91,259.83 L344.66,258.5 L345.41,256.37 L346.16,254.23 L346.91,252.84 L347.66,250.62 L348.41,248.21 L349.16,245.84 L349.91,243.86 L350.66,242.53 L351.41,240.58 L352.16,238.27 L352.91,236.89 L353.66,233.95 L354.41,231.66 L355.16,229.36 L355.91,225.56 L356.66,222.12 L357.41,220.95 L358.16,217.94 L358.91,217.27 L359.66,214.87 L360.41,213.43 L361.16,211.21 L361.91,207.05 L362.66,207.44 L363.41,205.55 L364.16,204.86 L364.91,204.64 L365.66,204.49 L366.41,202.77 L367.16,201.08 L367.91,196.65 L368.66,197.05 L369.41,194.45 L370.16,196.34 L370.91,196.12 L371.66,193.27 L372.41,193.21 L373.16,192.06 L373.91,192.45 L374.66,189.51 L375.41,188.94 L376.16,187.71 L376.91,189.52 L377.66,187.08 L378.41,184.3 L379.16,184.66 L379.91,184.47 L380.66,184.63 L381.41,183.29 L382.16,182.24 L382.91,180.39 L383.66,181.41 L384.41,186.1 L385.16,187.16 L385.91,190.06 L386.66,192.32 L387.41,194.18 L388.16,195.9 L388.91,195.88 L389.66,198.37 L390.41,199.79" stroke="#3cb878" stroke-width="1.15" fill="none" stroke-linejoin="round" stroke-linecap="round" />
<path d="M243.41,240.97 L244.16,236.7 L244.91,233.67 L245.66,229.79 L246.41,226.58 L247.16,222.06 L247.91,219.88 L248.66,216.98 L249.41,214.51 L250.16,212.59 L250.91,211.33 L251.66,209.58 L252.41,208.25 L253.16,207.05 L253.91,207.45 L254.66,207.04 L255.41,206.45 L256.16,206.32 L256.91,206.93 L257.66,205.89 L258.41,207.7 L259.16,206.51 L259.91,207.72 L260.66,208.07 L261.41,208.48 L262.16,207.58 L262.91,208.15 L263.66,208.04 L264.41,207.21 L265.16,208.67 L265.91,208.39 L266.66,208.51 L267.41,208.19 L268.16,208.73 L268.91,208.91 L269.66,209.62 L270.41,209.34 L271.16,210.99 L271.91,209.36 L272.66,209.52 L273.41,209.75 L274.16,209.58 L274.91,210.88 L275.66,210.79 L276.41,210.29 L277.16,211.38 L277.91,212.42 L278.66,211.85 L279.41,213.21 L280.16,213.6 L280.91,215.37 L281.66,215.12 L282.41,215.33 L283.16,215.81 L283.91,217.5 L284.66,217.02 L285.41,219.12 L286.16,218.22 L286.91,219.72 L287.66,220.49 L288.41,221.07 L289.16,222.14 L289.91,223.46 L290.66,223.74 L291.41,224.31 L292.16,226.5 L292.91,227.71 L293.66,227.99 L294.41,229.74 L295.16,229.69 L295.91,232.36 L296.66,232.32 L297.41,233.7 L298.16,236.02 L298.91,235.54 L299.66,237.2 L300.41,237.86 L301.16,238.96 L301.91,240.76 L302.66,242.94 L303.41,243.36 L304.16,244.74 L304.91,246.4 L305.66,247.04 L306.41,247.54 L307.16,249.84 L307.91,250.2 L308.66,251.96 L309.41,252.01 L310.16,254.39 L310.91,254.22 L311.66,255.37 L312.41,257.26 L313.16,258.51 L313.91,259.29 L314.66,259.28 L315.41,260.12 L316.16,260.92 L316.91,260.72 L317.66,261.06 L318.41,262.14 L319.16,263.13 L319.91,263.53 L320.66,263.38 L321.41,263.43 L322.16,264.19 L322.91,264.93 L323.66,264.43 L324.41,265.62 L325.16,265.37 L325.91,265.62 L326.66,265.29 L327.41,266.2 L328.16,265.58 L328.91,264.86 L329.66,265.99 L330.41,265.48 L331.16,266.19 L331.91,265.79 L332.66,265.43 L333.41,265.74 L334.16,265.3 L334.91,264.89 L335.66,264.93 L336.41,264.88 L337.16,264.14 L337.91,263.65 L338.66,262.91 L339.41,262.79 L340.16,261.91 L340.91,261.4 L341.66,260.19 L342.41,259.56 L343.16,256.23 L343.91,255.17 L344.66,253.81 L345.41,252.65 L346.16,250.17 L346.91,248.92 L347.66,247.66 L348.41,246.32 L349.16,244.5 L349.91,241.6 L350.66,240.86 L351.41,239.89 L352.16,238.01 L352.91,236.23 L353.66,235.05 L354.41,233.41 L355.16,233.33 L355.91,231.26 L356.66,229.86 L357.41,228.33 L358.16,227.39 L358.91,225.53 L359.66,224.17 L360.41,223.39 L361.16,221.67 L361.91,220.65 L362.66,219 L363.41,220.08 L364.16,219.38 L364.91,220.16 L365.66,219.73 L366.41,217.68 L367.16,218.62 L367.91,215.83 L368.66,214.09 L369.41,216.55 L370.16,215.29 L370.91,213.68 L371.66,215.49 L372.41,215.57 L373.16,215.11 L373.91,211.68 L374.66,212.35 L375.41,209.54 L376.16,209.01 L376.91,207.94 L377.66,206.34 L378.41,207.2 L379.16,205.3 L379.91,207.05 L380.66,206.25 L381.41,204.36 L382.16,204.5 L382.91,204.44 L383.66,204.39 L384.41,201.87 L385.16,204.52 L385.91,203.54 L386.66,206.88 L387.41,206.26 L388.16,209.18 L388.91,214.59 L389.66,214.66 L390.41,217.71" stroke="#7a2fe6" stroke-width="1.15" fill="none" stroke-linejoin="round" stroke-linecap="round" />
<path d="M243.41,239.87 L244.16,238.02 L244.91,235.43 L245.66,234.49 L246.41,232.61 L247.16,231.14 L247.91,228.74 L248.66,228.01 L249.41,227.03 L250.16,225.78 L250.91,226.06 L251.66,225.47 L252.41,224.03 L253.16,224.16 L253.91,224.15 L254.66,222.67 L255.41,223.07 L256.16,222.94 L256.91,222.76 L257.66,221.36 L258.41,221.25 L259.16,221.44 L259.91,221.53 L260.66,220.4 L261.41,220.36 L262.16,220.03 L262.91,220.64 L263.66,219.88 L264.41,220.15 L265.16,220.06 L265.91,220.14 L266.66,219.81 L267.41,219.8 L268.16,220.12 L268.91,219.94 L269.66,219.32 L270.41,219.6 L271.16,220.16 L271.91,220 L272.66,220.07 L273.41,220.54 L274.16,221.91 L274.91,220.82 L275.66,221.14 L276.41,221.27 L277.16,221.08 L277.91,221.59 L278.66,221.48 L279.41,221.33 L280.16,221.16 L280.91,222.57 L281.66,222.88 L282.41,222.92 L283.16,222.2 L283.91,223.38 L284.66,223.24 L285.41,224.07 L286.16,224.46 L286.91,224.85 L287.66,225.99 L288.41,226.13 L289.16,227.01 L289.91,226.69 L290.66,227.34 L291.41,228.29 L292.16,228.33 L292.91,228.29 L293.66,228.58 L294.41,229.11 L295.16,229.93 L295.91,231.38 L296.66,232.45 L297.41,233.97 L298.16,234.9 L298.91,235.34 L299.66,236.38 L300.41,236.9 L301.16,237.66 L301.91,238.7 L302.66,239.77 L303.41,240.06 L304.16,240.26 L304.91,241.17 L305.66,241.49 L306.41,242.59 L307.16,242.87 L307.91,243.82 L308.66,244.69 L309.41,245.3 L310.16,246.37 L310.91,246.62 L311.66,246.92 L312.41,247.53 L313.16,247.55 L313.91,248.11 L314.66,248.57 L315.41,249.82 L316.16,250.82 L316.91,249.67 L317.66,251.15 L318.41,251.15 L319.16,251.93 L319.91,252.38 L320.66,251.99 L321.41,253.31 L322.16,252.75 L322.91,253.12 L323.66,253.69 L324.41,253.84 L325.16,254.37 L325.91,254.48 L326.66,254.5 L327.41,254.96 L328.16,254.63 L328.91,255.58 L329.66,255.41 L330.41,256.05 L331.16,255.29 L331.91,255.16 L332.66,255.22 L333.41,256.02 L334.16,255.74 L334.91,256.13 L335.66,255.25 L336.41,255.04 L337.16,255.83 L337.91,255.92 L338.66,256.6 L339.41,256.78 L340.16,256.31 L340.91,255.39 L341.66,255.11 L342.41,255.79 L343.16,254.39 L343.91,254 L344.66,253.4 L345.41,252.93 L346.16,252.41 L346.91,251.77 L347.66,251.3 L348.41,250.2 L349.16,250.85 L349.91,249.39 L350.66,247.95 L351.41,247.56 L352.16,246.53 L352.91,244.48 L353.66,243.52 L354.41,242.99 L355.16,241.54 L355.91,240.61 L356.66,240.06 L357.41,238.83 L358.16,237.99 L358.91,238.26 L359.66,236.63 L360.41,236.08 L361.16,235.99 L361.91,235.14 L362.66,233.82 L363.41,235.04 L364.16,232.86 L364.91,233.35 L365.66,231.89 L366.41,230.5 L367.16,232.16 L367.91,230.45 L368.66,228.86 L369.41,228.54 L370.16,225.61 L370.91,227.25 L371.66,225.74 L372.41,225.75 L373.16,224.76 L373.91,226.32 L374.66,226.02 L375.41,226.84 L376.16,227.21 L376.91,225.33 L377.66,224.76 L378.41,224.56 L379.16,222.73 L379.91,222.42 L380.66,223.24 L381.41,221.34 L382.16,220.15 L382.91,221.86 L383.66,222.45 L384.41,223.53 L385.16,221.05 L385.91,220.88 L386.66,222.56 L387.41,223.14 L388.16,224.69 L388.91,225.24 L389.66,227.54 L390.41,228.08" stroke="#f0902c" stroke-width="1.15" fill="none" stroke-linejoin="round" stroke-linecap="round" />
<path d="M243.41,244.66 L244.16,242.85 L244.91,240.95 L245.66,238.94 L246.41,237.65 L247.16,236.74 L247.91,234.55 L248.66,234.36 L249.41,233.64 L250.16,232.94 L250.91,232.26 L251.66,232.71 L252.41,231.99 L253.16,231.96 L253.91,231.21 L254.66,230.72 L255.41,230.9 L256.16,230.46 L256.91,229.8 L257.66,229.48 L258.41,229.39 L259.16,228.81 L259.91,228.71 L260.66,228.86 L261.41,229.11 L262.16,229.09 L262.91,228.93 L263.66,229.31 L264.41,228.56 L265.16,228.06 L265.91,228.5 L266.66,227.46 L267.41,227.9 L268.16,228.02 L268.91,228.03 L269.66,227.96 L270.41,227.97 L271.16,227.81 L271.91,227.39 L272.66,227.5 L273.41,227.87 L274.16,227.65 L274.91,227.32 L275.66,227.51 L276.41,227.27 L277.16,227.21 L277.91,227.4 L278.66,228.01 L279.41,227.37 L280.16,227.18 L280.91,227.96 L281.66,228.04 L282.41,228.81 L283.16,229.39 L283.91,229.39 L284.66,229.96 L285.41,229.75 L286.16,230.46 L286.91,229.99 L287.66,230.43 L288.41,231.42 L289.16,230.75 L289.91,231.38 L290.66,231.56 L291.41,231.98 L292.16,232.27 L292.91,233 L293.66,233.21 L294.41,233.77 L295.16,233.77 L295.91,234.82 L296.66,234.9 L297.41,236.22 L298.16,236.39 L298.91,237.2 L299.66,237.29 L300.41,237.98 L301.16,238.34 L301.91,238.88 L302.66,239.09 L303.41,239.42 L304.16,239.97 L304.91,240.38 L305.66,240.81 L306.41,241.22 L307.16,241.66 L307.91,243.15 L308.66,242.87 L309.41,243.25 L310.16,244.36 L310.91,244.67 L311.66,245.12 L312.41,246.05 L313.16,246.82 L313.91,246.41 L314.66,247.44 L315.41,247.56 L316.16,248.18 L316.91,248.24 L317.66,249.44 L318.41,249.82 L319.16,249.02 L319.91,250.42 L320.66,250.69 L321.41,250.11 L322.16,250.79 L322.91,250.82 L323.66,251.11 L324.41,251.12 L325.16,251.89 L325.91,252.22 L326.66,252.32 L327.41,252.7 L328.16,252.57 L328.91,253.56 L329.66,253.24 L330.41,253.82 L331.16,253.76 L331.91,254.9 L332.66,254.25 L333.41,254.8 L334.16,254.45 L334.91,254.63 L335.66,255.03 L336.41,254.96 L337.16,255.82 L337.91,255.24 L338.66,255.91 L339.41,255.18 L340.16,255.28 L340.91,255.72 L341.66,255.08 L342.41,255.98 L343.16,255.44 L343.91,255.15 L344.66,255.37 L345.41,254.25 L346.16,253.68 L346.91,252.6 L347.66,252.46 L348.41,252.62 L349.16,251.75 L349.91,252.2 L350.66,251.85 L351.41,251.27 L352.16,250.25 L352.91,249.95 L353.66,249.28 L354.41,249.4 L355.16,249.1 L355.91,248.38 L356.66,248.17 L357.41,247.94 L358.16,247.38 L358.91,245.88 L359.66,245 L360.41,245.14 L361.16,244.54 L361.91,244.06 L362.66,243.38 L363.41,243.26 L364.16,242.6 L364.91,241.47 L365.66,242.29 L366.41,241.28 L367.16,239.8 L367.91,239.27 L368.66,238.42 L369.41,237.52 L370.16,237.38 L370.91,236.71 L371.66,236.94 L372.41,237.39 L373.16,236.77 L373.91,235.2 L374.66,235.84 L375.41,235.08 L376.16,234.27 L376.91,235.82 L377.66,233.52 L378.41,234.9 L379.16,232.36 L379.91,233.85 L380.66,232.74 L381.41,234.05 L382.16,233.42 L382.91,232.24 L383.66,233.21 L384.41,233.15 L385.16,232.57 L385.91,232.07 L386.66,230.61 L387.41,233.12 L388.16,230.96 L388.91,231.31 L389.66,229.5 L390.41,230.1" stroke="#2f6fd6" stroke-width="1.15" fill="none" stroke-linejoin="round" stroke-linecap="round" />
<path d="M243.41,238.14 L244.16,237.86 L244.91,237.66 L245.66,237.71 L246.41,236.59 L247.16,236.38 L247.91,236.21 L248.66,235.65 L249.41,235.79 L250.16,235.99 L250.91,234.9 L251.66,235.27 L252.41,234.84 L253.16,235.51 L253.91,234.94 L254.66,234.88 L255.41,234.59 L256.16,234.18 L256.91,234.15 L257.66,233.88 L258.41,233.41 L259.16,234 L259.91,233.89 L260.66,233.57 L261.41,233.69 L262.16,233.22 L262.91,232.07 L263.66,231.72 L264.41,231.62 L265.16,232.08 L265.91,232.29 L266.66,232.21 L267.41,232.81 L268.16,232.26 L268.91,232.69 L269.66,232.05 L270.41,231.96 L271.16,231.96 L271.91,231.96 L272.66,232.32 L273.41,231.59 L274.16,232.57 L274.91,231.8 L275.66,232.78 L276.41,232.53 L277.16,232.48 L277.91,233.06 L278.66,232.83 L279.41,233.17 L280.16,233.36 L280.91,234.41 L281.66,233.38 L282.41,234.3 L283.16,233.47 L283.91,233.21 L284.66,233.17 L285.41,234.03 L286.16,233.89 L286.91,234.03 L287.66,234.62 L288.41,234.58 L289.16,234.89 L289.91,234.31 L290.66,235.46 L291.41,235.73 L292.16,235.49 L292.91,235.76 L293.66,236.08 L294.41,235.93 L295.16,236.37 L295.91,236.61 L296.66,236.73 L297.41,236.69 L298.16,236.74 L298.91,237.78 L299.66,237.61 L300.41,238.6 L301.16,238.87 L301.91,238.42 L302.66,238.71 L303.41,239.04 L304.16,239.17 L304.91,238.82 L305.66,239.07 L306.41,239.33 L307.16,239.62 L307.91,239.43 L308.66,239.99 L309.41,240.58 L310.16,240.3 L310.91,240.58 L311.66,240.3 L312.41,240.59 L313.16,240.93 L313.91,241.33 L314.66,241.27 L315.41,241.22 L316.16,242.31 L316.91,241.25 L317.66,241.93 L318.41,242 L319.16,242.35 L319.91,242.64 L320.66,242.42 L321.41,243.93 L322.16,243.86 L322.91,243.88 L323.66,243.8 L324.41,243.14 L325.16,243.65 L325.91,243.21 L326.66,243 L327.41,243.4 L328.16,243.19 L328.91,242.72 L329.66,242.89 L330.41,243.67 L331.16,244.14 L331.91,244.46 L332.66,244.44 L333.41,244.38 L334.16,244.25 L334.91,244.66 L335.66,244.69 L336.41,244.26 L337.16,244.2 L337.91,244.47 L338.66,244.37 L339.41,244.82 L340.16,244.43 L340.91,244.95 L341.66,244.61 L342.41,244.77 L343.16,245.03 L343.91,243.57 L344.66,243.65 L345.41,244.16 L346.16,243.49 L346.91,243.05 L347.66,243.1 L348.41,242.81 L349.16,242.42 L349.91,242.01 L350.66,242.56 L351.41,242.57 L352.16,243.07 L352.91,242.57 L353.66,241.75 L354.41,242.14 L355.16,241.28 L355.91,241.87 L356.66,240.69 L357.41,241.1 L358.16,240.57 L358.91,240.06 L359.66,240.58 L360.41,239.68 L361.16,238.21 L361.91,239.45 L362.66,238.4 L363.41,238.1 L364.16,237.88 L364.91,237.6 L365.66,237.13 L366.41,236.59 L367.16,237.11 L367.91,237.03 L368.66,237.24 L369.41,236.48 L370.16,237.15 L370.91,235.84 L371.66,237.21 L372.41,237.99 L373.16,236.87 L373.91,236.08 L374.66,237.14 L375.41,235.04 L376.16,235.79 L376.91,237.17 L377.66,236.53 L378.41,235.92 L379.16,235.94 L379.91,235.87 L380.66,237.87 L381.41,238 L382.16,237.06 L382.91,235.24 L383.66,235.2 L384.41,234.07 L385.16,233.79 L385.91,235.43 L386.66,235.51 L387.41,233.76 L388.16,233.9 L388.91,235.32 L389.66,233.47 L390.41,235.49" stroke="#d93a3a" stroke-width="1.15" fill="none" stroke-linejoin="round" stroke-linecap="round" />
<line x1="361.3" y1="252.2" x2="377.3" y2="252.2" stroke="#555555" stroke-width="1.2" />
<text x="378.6" y="254.8" font-size="7" text-anchor="start" font-weight="normal" fill="#161616" stroke="#161616" stroke-width="0.1" >0 ps</text>
<line x1="361.3" y1="260.7" x2="377.3" y2="260.7" stroke="#3cb878" stroke-width="1.2" />
<text x="378.6" y="263.3" font-size="7" text-anchor="start" font-weight="normal" fill="#161616" stroke="#161616" stroke-width="0.1" >0.65 ps</text>
<line x1="361.3" y1="269.2" x2="377.3" y2="269.2" stroke="#7a2fe6" stroke-width="1.5" />
<text x="378.6" y="271.8" font-size="7" text-anchor="start" font-weight="normal" fill="#161616" stroke="#161616" stroke-width="0.1" >1 ps</text>
<line x1="361.3" y1="277.7" x2="377.3" y2="277.7" stroke="#f0902c" stroke-width="1.2" />
<text x="378.6" y="280.3" font-size="7" text-anchor="start" font-weight="normal" fill="#161616" stroke="#161616" stroke-width="0.1" >10 ps</text>
<line x1="361.3" y1="286.2" x2="377.3" y2="286.2" stroke="#2f6fd6" stroke-width="1.2" />
<text x="378.6" y="288.8" font-size="7" text-anchor="start" font-weight="normal" fill="#161616" stroke="#161616" stroke-width="0.1" >100 ps</text>
<line x1="361.3" y1="294.7" x2="377.3" y2="294.7" stroke="#d93a3a" stroke-width="1.2" />
<text x="378.6" y="297.3" font-size="7" text-anchor="start" font-weight="normal" fill="#161616" stroke="#161616" stroke-width="0.1" >1000 ps</text>
<text x="420" y="171.9" font-size="10.5" text-anchor="start" font-weight="bold" fill="#000" >f</text>
<rect x="447.5" y="177.25" width="165.2" height="122.45" stroke="#3a3a3a" stroke-width="1.0" fill="none" />
<line x1="447.5" y1="299.7" x2="447.5" y2="296.7" stroke="#3a3a3a" stroke-width="0.9" />
<line x1="457.49" y1="299.7" x2="457.49" y2="298.1" stroke="#3a3a3a" stroke-width="0.9" />
<line x1="463.34" y1="299.7" x2="463.34" y2="298.1" stroke="#3a3a3a" stroke-width="0.9" />
<line x1="467.49" y1="299.7" x2="467.49" y2="298.1" stroke="#3a3a3a" stroke-width="0.9" />
<line x1="470.71" y1="299.7" x2="470.71" y2="298.1" stroke="#3a3a3a" stroke-width="0.9" />
<line x1="473.33" y1="299.7" x2="473.33" y2="298.1" stroke="#3a3a3a" stroke-width="0.9" />
<line x1="475.56" y1="299.7" x2="475.56" y2="298.1" stroke="#3a3a3a" stroke-width="0.9" />
<line x1="477.48" y1="299.7" x2="477.48" y2="298.1" stroke="#3a3a3a" stroke-width="0.9" />
<line x1="479.18" y1="299.7" x2="479.18" y2="298.1" stroke="#3a3a3a" stroke-width="0.9" />
<text x="448.3" y="310.6" font-size="8.5" text-anchor="middle" font-weight="normal" fill="#161616" stroke="#161616" stroke-width="0.22" >10<tspan font-size="5.8" dy="-3.3">-1</tspan></text>
<line x1="480.7" y1="299.7" x2="480.7" y2="296.7" stroke="#3a3a3a" stroke-width="0.9" />
<line x1="490.69" y1="299.7" x2="490.69" y2="298.1" stroke="#3a3a3a" stroke-width="0.9" />
<line x1="496.54" y1="299.7" x2="496.54" y2="298.1" stroke="#3a3a3a" stroke-width="0.9" />
<line x1="500.69" y1="299.7" x2="500.69" y2="298.1" stroke="#3a3a3a" stroke-width="0.9" />
<line x1="503.91" y1="299.7" x2="503.91" y2="298.1" stroke="#3a3a3a" stroke-width="0.9" />
<line x1="506.53" y1="299.7" x2="506.53" y2="298.1" stroke="#3a3a3a" stroke-width="0.9" />
<line x1="508.76" y1="299.7" x2="508.76" y2="298.1" stroke="#3a3a3a" stroke-width="0.9" />
<line x1="510.68" y1="299.7" x2="510.68" y2="298.1" stroke="#3a3a3a" stroke-width="0.9" />
<line x1="512.38" y1="299.7" x2="512.38" y2="298.1" stroke="#3a3a3a" stroke-width="0.9" />
<text x="481.5" y="310.6" font-size="8.5" text-anchor="middle" font-weight="normal" fill="#161616" stroke="#161616" stroke-width="0.22" >10<tspan font-size="5.8" dy="-3.3">0</tspan></text>
<line x1="513.9" y1="299.7" x2="513.9" y2="296.7" stroke="#3a3a3a" stroke-width="0.9" />
<line x1="523.89" y1="299.7" x2="523.89" y2="298.1" stroke="#3a3a3a" stroke-width="0.9" />
<line x1="529.74" y1="299.7" x2="529.74" y2="298.1" stroke="#3a3a3a" stroke-width="0.9" />
<line x1="533.89" y1="299.7" x2="533.89" y2="298.1" stroke="#3a3a3a" stroke-width="0.9" />
<line x1="537.11" y1="299.7" x2="537.11" y2="298.1" stroke="#3a3a3a" stroke-width="0.9" />
<line x1="539.73" y1="299.7" x2="539.73" y2="298.1" stroke="#3a3a3a" stroke-width="0.9" />
<line x1="541.96" y1="299.7" x2="541.96" y2="298.1" stroke="#3a3a3a" stroke-width="0.9" />
<line x1="543.88" y1="299.7" x2="543.88" y2="298.1" stroke="#3a3a3a" stroke-width="0.9" />
<line x1="545.58" y1="299.7" x2="545.58" y2="298.1" stroke="#3a3a3a" stroke-width="0.9" />
<text x="514.7" y="310.6" font-size="8.5" text-anchor="middle" font-weight="normal" fill="#161616" stroke="#161616" stroke-width="0.22" >10<tspan font-size="5.8" dy="-3.3">1</tspan></text>
<line x1="547.1" y1="299.7" x2="547.1" y2="296.7" stroke="#3a3a3a" stroke-width="0.9" />
<line x1="557.09" y1="299.7" x2="557.09" y2="298.1" stroke="#3a3a3a" stroke-width="0.9" />
<line x1="562.94" y1="299.7" x2="562.94" y2="298.1" stroke="#3a3a3a" stroke-width="0.9" />
<line x1="567.09" y1="299.7" x2="567.09" y2="298.1" stroke="#3a3a3a" stroke-width="0.9" />
<line x1="570.31" y1="299.7" x2="570.31" y2="298.1" stroke="#3a3a3a" stroke-width="0.9" />
<line x1="572.93" y1="299.7" x2="572.93" y2="298.1" stroke="#3a3a3a" stroke-width="0.9" />
<line x1="575.16" y1="299.7" x2="575.16" y2="298.1" stroke="#3a3a3a" stroke-width="0.9" />
<line x1="577.08" y1="299.7" x2="577.08" y2="298.1" stroke="#3a3a3a" stroke-width="0.9" />
<line x1="578.78" y1="299.7" x2="578.78" y2="298.1" stroke="#3a3a3a" stroke-width="0.9" />
<text x="547.9" y="310.6" font-size="8.5" text-anchor="middle" font-weight="normal" fill="#161616" stroke="#161616" stroke-width="0.22" >10<tspan font-size="5.8" dy="-3.3">2</tspan></text>
<line x1="580.3" y1="299.7" x2="580.3" y2="296.7" stroke="#3a3a3a" stroke-width="0.9" />
<line x1="590.29" y1="299.7" x2="590.29" y2="298.1" stroke="#3a3a3a" stroke-width="0.9" />
<line x1="596.14" y1="299.7" x2="596.14" y2="298.1" stroke="#3a3a3a" stroke-width="0.9" />
<line x1="600.29" y1="299.7" x2="600.29" y2="298.1" stroke="#3a3a3a" stroke-width="0.9" />
<line x1="603.51" y1="299.7" x2="603.51" y2="298.1" stroke="#3a3a3a" stroke-width="0.9" />
<line x1="606.13" y1="299.7" x2="606.13" y2="298.1" stroke="#3a3a3a" stroke-width="0.9" />
<line x1="608.36" y1="299.7" x2="608.36" y2="298.1" stroke="#3a3a3a" stroke-width="0.9" />
<line x1="610.28" y1="299.7" x2="610.28" y2="298.1" stroke="#3a3a3a" stroke-width="0.9" />
<line x1="611.98" y1="299.7" x2="611.98" y2="298.1" stroke="#3a3a3a" stroke-width="0.9" />
<text x="581.1" y="310.6" font-size="8.5" text-anchor="middle" font-weight="normal" fill="#161616" stroke="#161616" stroke-width="0.22" >10<tspan font-size="5.8" dy="-3.3">3</tspan></text>
<line x1="613.5" y1="299.7" x2="613.5" y2="296.7" stroke="#3a3a3a" stroke-width="0.9" />
<text x="614.3" y="310.6" font-size="8.5" text-anchor="middle" font-weight="normal" fill="#161616" stroke="#161616" stroke-width="0.22" >10<tspan font-size="5.8" dy="-3.3">4</tspan></text>
<line x1="447.5" y1="177.25" x2="450.5" y2="177.25" stroke="#3a3a3a" stroke-width="0.9" />
<text x="444" y="180.3" font-size="8.5" text-anchor="end" font-weight="normal" fill="#161616" stroke="#161616" stroke-width="0.22" >0</text>
<line x1="447.5" y1="201.7" x2="450.5" y2="201.7" stroke="#3a3a3a" stroke-width="0.9" />
<text x="444" y="204.75" font-size="8.5" text-anchor="end" font-weight="normal" fill="#161616" stroke="#161616" stroke-width="0.22" >-1</text>
<line x1="447.5" y1="226.15" x2="450.5" y2="226.15" stroke="#3a3a3a" stroke-width="0.9" />
<text x="444" y="229.2" font-size="8.5" text-anchor="end" font-weight="normal" fill="#161616" stroke="#161616" stroke-width="0.22" >-2</text>
<line x1="447.5" y1="250.6" x2="450.5" y2="250.6" stroke="#3a3a3a" stroke-width="0.9" />
<text x="444" y="253.65" font-size="8.5" text-anchor="end" font-weight="normal" fill="#161616" stroke="#161616" stroke-width="0.22" >-3</text>
<line x1="447.5" y1="275.05" x2="450.5" y2="275.05" stroke="#3a3a3a" stroke-width="0.9" />
<text x="444" y="278.1" font-size="8.5" text-anchor="end" font-weight="normal" fill="#161616" stroke="#161616" stroke-width="0.22" >-4</text>
<line x1="447.5" y1="299.5" x2="450.5" y2="299.5" stroke="#3a3a3a" stroke-width="0.9" />
<text x="444" y="302.55" font-size="8.5" text-anchor="end" font-weight="normal" fill="#161616" stroke="#161616" stroke-width="0.22" >-5</text>
<line x1="447.5" y1="189.47" x2="449.5" y2="189.47" stroke="#3a3a3a" stroke-width="0.9" />
<line x1="447.5" y1="213.93" x2="449.5" y2="213.93" stroke="#3a3a3a" stroke-width="0.9" />
<line x1="447.5" y1="238.38" x2="449.5" y2="238.38" stroke="#3a3a3a" stroke-width="0.9" />
<line x1="447.5" y1="262.82" x2="449.5" y2="262.82" stroke="#3a3a3a" stroke-width="0.9" />
<line x1="447.5" y1="287.27" x2="449.5" y2="287.27" stroke="#3a3a3a" stroke-width="0.9" />
<text x="530.4" y="320.9" font-size="9.2" text-anchor="middle" font-weight="normal" fill="#161616" stroke="#161616" stroke-width="0.22" >Time delay (ps)</text>
<text x="425.7" y="238.2" font-size="9.2" text-anchor="middle" font-weight="normal" fill="#161616" stroke="#161616" stroke-width="0.22" transform="rotate(-90 425.7 238.2)" >ΔA/A (10<tspan font-size="5.5" dy="-3.2">-3</tspan><tspan dy="3.2">)</tspan></text>
<path d="M460.3,269.9 L461.07,269.24 L462.07,268.43 L463.26,267.47 L464.6,266.37 L466.04,265.12 L467.53,263.72 L469.03,262.18 L470.5,260.5 L472.01,258.58 L473.64,256.38 L475.34,253.98 L477.06,251.47 L478.77,248.91 L480.4,246.4 L481.93,244 L483.3,241.8 L484.5,239.76 L485.56,237.78 L486.53,235.87 L487.42,234.02 L488.27,232.24 L489.11,230.52 L489.98,228.88 L490.9,227.3 L491.86,225.78 L492.82,224.33 L493.78,222.94 L494.75,221.61 L495.72,220.36 L496.68,219.19 L497.64,218.1 L498.6,217.1 L499.5,216.2 L500.33,215.41 L501.12,214.7 L501.93,214.07 L502.79,213.51 L503.76,212.98 L504.88,212.48 L506.2,212 L507.69,211.57 L509.29,211.21 L511.01,210.92 L512.86,210.65 L514.82,210.39 L516.92,210.11 L519.14,209.79 L521.5,209.4 L524,208.98 L526.65,208.58 L529.43,208.17 L532.33,207.72 L535.35,207.21 L538.48,206.62 L541.7,205.93 L545,205.1 L548.45,204.12 L552.09,202.99 L555.86,201.75 L559.72,200.42 L563.61,199.06 L567.49,197.67 L571.3,196.31 L575,195 L578.79,193.65 L582.8,192.2 L586.88,190.7 L590.88,189.22 L594.64,187.82 L598.02,186.56 L600.85,185.5 L603,184.7" stroke="#7a2fe6" stroke-width="0.9" fill="none" stroke-linejoin="round" stroke-linecap="round" />
<path d="M460.3,271.4 L461.53,270.21 L463.23,268.57 L465.25,266.62 L467.47,264.48 L469.75,262.27 L471.95,260.14 L473.95,258.21 L475.6,256.6 L476.9,255.37 L477.97,254.4 L478.87,253.62 L479.68,252.91 L480.45,252.19 L481.27,251.36 L482.2,250.33 L483.3,249 L484.58,247.29 L485.98,245.24 L487.47,242.99 L489.01,240.62 L490.56,238.27 L492.1,236.04 L493.59,234.05 L495,232.4 L496.34,231.09 L497.64,230.01 L498.92,229.13 L500.17,228.38 L501.4,227.74 L502.61,227.16 L503.81,226.59 L505,226 L506.02,225.41 L506.8,224.87 L507.48,224.39 L508.19,223.94 L509.06,223.54 L510.23,223.17 L511.83,222.82 L514,222.5 L516.86,222.27 L520.34,222.16 L524.28,222.12 L528.5,222.09 L532.85,222.02 L537.16,221.86 L541.26,221.53 L545,221 L548.36,220.3 L551.48,219.5 L554.46,218.6 L557.38,217.57 L560.3,216.41 L563.33,215.1 L566.53,213.64 L570,212 L573.97,210.01 L578.46,207.59 L583.24,204.91 L588.06,202.14 L592.69,199.43 L596.88,196.97 L600.4,194.9 L603,193.4" stroke="#f0902c" stroke-width="0.9" fill="none" stroke-linejoin="round" stroke-linecap="round" />
<circle cx="460.3" cy="280.1" r="1.45" fill="#f0902c" stroke="none" stroke-width="0" />
<circle cx="475.6" cy="256.6" r="1.45" fill="#f0902c" stroke="none" stroke-width="0" />
<circle cx="483.3" cy="250.3" r="1.45" fill="#f0902c" stroke="none" stroke-width="0" />
<circle cx="488.4" cy="235" r="1.45" fill="#f0902c" stroke="none" stroke-width="0" />
<circle cx="491" cy="232" r="1.45" fill="#f0902c" stroke="none" stroke-width="0" />
<circle cx="494" cy="230" r="1.45" fill="#f0902c" stroke="none" stroke-width="0" />
<circle cx="497" cy="228" r="1.45" fill="#f0902c" stroke="none" stroke-width="0" />
<circle cx="500" cy="226" r="1.45" fill="#f0902c" stroke="none" stroke-width="0" />
<circle cx="503" cy="225" r="1.45" fill="#f0902c" stroke="none" stroke-width="0" />
<circle cx="506" cy="224.5" r="1.45" fill="#f0902c" stroke="none" stroke-width="0" />
<circle cx="509" cy="223.5" r="1.45" fill="#f0902c" stroke="none" stroke-width="0" />
<circle cx="512.6" cy="223.5" r="1.45" fill="#f0902c" stroke="none" stroke-width="0" />
<circle cx="514" cy="224.13" r="1.45" fill="#f0902c" stroke="none" stroke-width="0" />
<circle cx="515.01" cy="224.2" r="1.45" fill="#f0902c" stroke="none" stroke-width="0" />
<circle cx="515.93" cy="217.65" r="1.45" fill="#f0902c" stroke="none" stroke-width="0" />
<circle cx="516.54" cy="225.07" r="1.45" fill="#f0902c" stroke="none" stroke-width="0" />
<circle cx="517.19" cy="221.92" r="1.45" fill="#f0902c" stroke="none" stroke-width="0" />
<circle cx="518.22" cy="225.13" r="1.45" fill="#f0902c" stroke="none" stroke-width="0" />
<circle cx="518.95" cy="224.66" r="1.45" fill="#f0902c" stroke="none" stroke-width="0" />
<circle cx="519.74" cy="213.64" r="1.45" fill="#f0902c" stroke="none" stroke-width="0" />
<circle cx="520.78" cy="220.09" r="1.45" fill="#f0902c" stroke="none" stroke-width="0" />
<circle cx="521.38" cy="216.54" r="1.45" fill="#f0902c" stroke="none" stroke-width="0" />
<circle cx="521.92" cy="218.28" r="1.45" fill="#f0902c" stroke="none" stroke-width="0" />
<circle cx="522.43" cy="220.53" r="1.45" fill="#f0902c" stroke="none" stroke-width="0" />
<circle cx="523.13" cy="216.07" r="1.45" fill="#f0902c" stroke="none" stroke-width="0" />
<circle cx="524.07" cy="218.09" r="1.45" fill="#f0902c" stroke="none" stroke-width="0" />
<circle cx="524.91" cy="214.92" r="1.45" fill="#f0902c" stroke="none" stroke-width="0" />
<circle cx="525.76" cy="217.29" r="1.45" fill="#f0902c" stroke="none" stroke-width="0" />
<circle cx="526.51" cy="219.37" r="1.45" fill="#f0902c" stroke="none" stroke-width="0" />
<circle cx="527.04" cy="220.4" r="1.45" fill="#f0902c" stroke="none" stroke-width="0" />
<circle cx="527.56" cy="216.97" r="1.45" fill="#f0902c" stroke="none" stroke-width="0" />
<circle cx="528.51" cy="219.13" r="1.45" fill="#f0902c" stroke="none" stroke-width="0" />
<circle cx="529.11" cy="218.62" r="1.45" fill="#f0902c" stroke="none" stroke-width="0" />
<circle cx="529.86" cy="223" r="1.45" fill="#f0902c" stroke="none" stroke-width="0" />
<circle cx="530.84" cy="222.69" r="1.45" fill="#f0902c" stroke="none" stroke-width="0" />
<circle cx="531.51" cy="228.56" r="1.45" fill="#f0902c" stroke="none" stroke-width="0" />
<circle cx="532.23" cy="226.26" r="1.45" fill="#f0902c" stroke="none" stroke-width="0" />
<circle cx="533.06" cy="227.04" r="1.45" fill="#f0902c" stroke="none" stroke-width="0" />
<circle cx="533.98" cy="225.21" r="1.45" fill="#f0902c" stroke="none" stroke-width="0" />
<circle cx="534.53" cy="224.2" r="1.45" fill="#f0902c" stroke="none" stroke-width="0" />
<circle cx="535.44" cy="226.81" r="1.45" fill="#f0902c" stroke="none" stroke-width="0" />
<circle cx="536.03" cy="223.38" r="1.45" fill="#f0902c" stroke="none" stroke-width="0" />
<circle cx="536.58" cy="227.59" r="1.45" fill="#f0902c" stroke="none" stroke-width="0" />
<circle cx="537.18" cy="224.21" r="1.45" fill="#f0902c" stroke="none" stroke-width="0" />
<circle cx="538.2" cy="226.7" r="1.45" fill="#f0902c" stroke="none" stroke-width="0" />
<circle cx="539.16" cy="224.31" r="1.45" fill="#f0902c" stroke="none" stroke-width="0" />
<circle cx="540.03" cy="226.85" r="1.45" fill="#f0902c" stroke="none" stroke-width="0" />
<circle cx="540.73" cy="227.82" r="1.45" fill="#f0902c" stroke="none" stroke-width="0" />
<circle cx="541.61" cy="227.69" r="1.45" fill="#f0902c" stroke="none" stroke-width="0" />
<circle cx="542.17" cy="228.42" r="1.45" fill="#f0902c" stroke="none" stroke-width="0" />
<circle cx="542.97" cy="230.58" r="1.45" fill="#f0902c" stroke="none" stroke-width="0" />
<circle cx="543.48" cy="226.33" r="1.45" fill="#f0902c" stroke="none" stroke-width="0" />
<circle cx="544.2" cy="226.63" r="1.45" fill="#f0902c" stroke="none" stroke-width="0" />
<circle cx="545.18" cy="220.03" r="1.45" fill="#f0902c" stroke="none" stroke-width="0" />
<circle cx="545.82" cy="217.04" r="1.45" fill="#f0902c" stroke="none" stroke-width="0" />
<circle cx="546.85" cy="221.68" r="1.45" fill="#f0902c" stroke="none" stroke-width="0" />
<circle cx="547.39" cy="221.98" r="1.45" fill="#f0902c" stroke="none" stroke-width="0" />
<circle cx="548.4" cy="215.68" r="1.45" fill="#f0902c" stroke="none" stroke-width="0" />
<circle cx="549.36" cy="218.1" r="1.45" fill="#f0902c" stroke="none" stroke-width="0" />
<circle cx="549.89" cy="220.6" r="1.45" fill="#f0902c" stroke="none" stroke-width="0" />
<circle cx="550.63" cy="218.57" r="1.45" fill="#f0902c" stroke="none" stroke-width="0" />
<circle cx="551.69" cy="219.82" r="1.45" fill="#f0902c" stroke="none" stroke-width="0" />
<circle cx="552.72" cy="218.89" r="1.45" fill="#f0902c" stroke="none" stroke-width="0" />
<circle cx="553.3" cy="216.3" r="1.45" fill="#f0902c" stroke="none" stroke-width="0" />
<circle cx="554.05" cy="219.59" r="1.45" fill="#f0902c" stroke="none" stroke-width="0" />
<circle cx="554.92" cy="218.33" r="1.45" fill="#f0902c" stroke="none" stroke-width="0" />
<circle cx="555.61" cy="216.19" r="1.45" fill="#f0902c" stroke="none" stroke-width="0" />
<circle cx="556.6" cy="218.51" r="1.45" fill="#f0902c" stroke="none" stroke-width="0" />
<circle cx="557.13" cy="217.81" r="1.45" fill="#f0902c" stroke="none" stroke-width="0" />
<circle cx="557.95" cy="213.56" r="1.45" fill="#f0902c" stroke="none" stroke-width="0" />
<circle cx="558.87" cy="220.36" r="1.45" fill="#f0902c" stroke="none" stroke-width="0" />
<circle cx="559.54" cy="216.27" r="1.45" fill="#f0902c" stroke="none" stroke-width="0" />
<circle cx="560.28" cy="210.78" r="1.45" fill="#f0902c" stroke="none" stroke-width="0" />
<circle cx="560.92" cy="214.9" r="1.45" fill="#f0902c" stroke="none" stroke-width="0" />
<circle cx="561.73" cy="216.49" r="1.45" fill="#f0902c" stroke="none" stroke-width="0" />
<circle cx="562.62" cy="214.58" r="1.45" fill="#f0902c" stroke="none" stroke-width="0" />
<circle cx="563.22" cy="212.3" r="1.45" fill="#f0902c" stroke="none" stroke-width="0" />
<circle cx="564.06" cy="213.18" r="1.45" fill="#f0902c" stroke="none" stroke-width="0" />
<circle cx="564.58" cy="215.35" r="1.45" fill="#f0902c" stroke="none" stroke-width="0" />
<circle cx="565.19" cy="218.25" r="1.45" fill="#f0902c" stroke="none" stroke-width="0" />
<circle cx="565.87" cy="215.17" r="1.45" fill="#f0902c" stroke="none" stroke-width="0" />
<circle cx="566.71" cy="213.07" r="1.45" fill="#f0902c" stroke="none" stroke-width="0" />
<circle cx="567.47" cy="216.07" r="1.45" fill="#f0902c" stroke="none" stroke-width="0" />
<circle cx="568.27" cy="212.69" r="1.45" fill="#f0902c" stroke="none" stroke-width="0" />
<circle cx="569.34" cy="213.09" r="1.45" fill="#f0902c" stroke="none" stroke-width="0" />
<circle cx="570.19" cy="211.77" r="1.45" fill="#f0902c" stroke="none" stroke-width="0" />
<circle cx="570.89" cy="214.81" r="1.45" fill="#f0902c" stroke="none" stroke-width="0" />
<circle cx="571.45" cy="214.8" r="1.45" fill="#f0902c" stroke="none" stroke-width="0" />
<circle cx="572.25" cy="211.04" r="1.45" fill="#f0902c" stroke="none" stroke-width="0" />
<circle cx="572.88" cy="213.23" r="1.45" fill="#f0902c" stroke="none" stroke-width="0" />
<circle cx="573.89" cy="208.45" r="1.45" fill="#f0902c" stroke="none" stroke-width="0" />
<circle cx="574.87" cy="209.83" r="1.45" fill="#f0902c" stroke="none" stroke-width="0" />
<circle cx="575.45" cy="208.8" r="1.45" fill="#f0902c" stroke="none" stroke-width="0" />
<circle cx="576.45" cy="206.7" r="1.45" fill="#f0902c" stroke="none" stroke-width="0" />
<circle cx="577.11" cy="206.09" r="1.45" fill="#f0902c" stroke="none" stroke-width="0" />
<circle cx="577.91" cy="204.87" r="1.45" fill="#f0902c" stroke="none" stroke-width="0" />
<circle cx="578.93" cy="205.41" r="1.45" fill="#f0902c" stroke="none" stroke-width="0" />
<circle cx="579.75" cy="206.07" r="1.45" fill="#f0902c" stroke="none" stroke-width="0" />
<circle cx="580.66" cy="203.63" r="1.45" fill="#f0902c" stroke="none" stroke-width="0" />
<circle cx="581.2" cy="206.96" r="1.45" fill="#f0902c" stroke="none" stroke-width="0" />
<circle cx="581.85" cy="205.53" r="1.45" fill="#f0902c" stroke="none" stroke-width="0" />
<circle cx="582.47" cy="203" r="1.45" fill="#f0902c" stroke="none" stroke-width="0" />
<circle cx="583.44" cy="205.03" r="1.45" fill="#f0902c" stroke="none" stroke-width="0" />
<circle cx="583.98" cy="204.23" r="1.45" fill="#f0902c" stroke="none" stroke-width="0" />
<circle cx="584.59" cy="205.52" r="1.45" fill="#f0902c" stroke="none" stroke-width="0" />
<circle cx="585.26" cy="203.97" r="1.45" fill="#f0902c" stroke="none" stroke-width="0" />
<circle cx="586.31" cy="202.72" r="1.45" fill="#f0902c" stroke="none" stroke-width="0" />
<circle cx="586.99" cy="205.31" r="1.45" fill="#f0902c" stroke="none" stroke-width="0" />
<circle cx="587.92" cy="203.42" r="1.45" fill="#f0902c" stroke="none" stroke-width="0" />
<circle cx="588.51" cy="202.9" r="1.45" fill="#f0902c" stroke="none" stroke-width="0" />
<circle cx="589.19" cy="201.03" r="1.45" fill="#f0902c" stroke="none" stroke-width="0" />
<circle cx="590.26" cy="202.99" r="1.45" fill="#f0902c" stroke="none" stroke-width="0" />
<circle cx="590.77" cy="200.64" r="1.45" fill="#f0902c" stroke="none" stroke-width="0" />
<circle cx="591.77" cy="202.72" r="1.45" fill="#f0902c" stroke="none" stroke-width="0" />
<circle cx="592.5" cy="198.1" r="1.45" fill="#f0902c" stroke="none" stroke-width="0" />
<circle cx="593.23" cy="200.4" r="1.45" fill="#f0902c" stroke="none" stroke-width="0" />
<circle cx="594.05" cy="198.53" r="1.45" fill="#f0902c" stroke="none" stroke-width="0" />
<circle cx="594.65" cy="197.65" r="1.45" fill="#f0902c" stroke="none" stroke-width="0" />
<circle cx="595.29" cy="195.05" r="1.45" fill="#f0902c" stroke="none" stroke-width="0" />
<circle cx="595.83" cy="194.88" r="1.45" fill="#f0902c" stroke="none" stroke-width="0" />
<circle cx="596.33" cy="198.93" r="1.45" fill="#f0902c" stroke="none" stroke-width="0" />
<circle cx="597.25" cy="198.19" r="1.45" fill="#f0902c" stroke="none" stroke-width="0" />
<circle cx="598.33" cy="194.45" r="1.45" fill="#f0902c" stroke="none" stroke-width="0" />
<circle cx="599.36" cy="197.14" r="1.45" fill="#f0902c" stroke="none" stroke-width="0" />
<circle cx="600.32" cy="196.33" r="1.45" fill="#f0902c" stroke="none" stroke-width="0" />
<circle cx="601.24" cy="193.42" r="1.45" fill="#f0902c" stroke="none" stroke-width="0" />
<circle cx="602.23" cy="193.6" r="1.45" fill="#f0902c" stroke="none" stroke-width="0" />
<circle cx="603.29" cy="195.03" r="1.45" fill="#f0902c" stroke="none" stroke-width="0" />
<circle cx="603.92" cy="192.93" r="1.45" fill="#f0902c" stroke="none" stroke-width="0" />
<circle cx="460.3" cy="280.1" r="1.45" fill="#7a2fe6" stroke="none" stroke-width="0" />
<circle cx="468.5" cy="263" r="1.45" fill="#7a2fe6" stroke="none" stroke-width="0" />
<circle cx="474.3" cy="245.9" r="1.45" fill="#7a2fe6" stroke="none" stroke-width="0" />
<circle cx="478.2" cy="243.4" r="1.45" fill="#7a2fe6" stroke="none" stroke-width="0" />
<circle cx="482.8" cy="238.8" r="1.45" fill="#7a2fe6" stroke="none" stroke-width="0" />
<circle cx="485.8" cy="235.7" r="1.45" fill="#7a2fe6" stroke="none" stroke-width="0" />
<circle cx="489.6" cy="232.4" r="1.45" fill="#7a2fe6" stroke="none" stroke-width="0" />
<circle cx="492.2" cy="228.6" r="1.45" fill="#7a2fe6" stroke="none" stroke-width="0" />
<circle cx="495" cy="226" r="1.45" fill="#7a2fe6" stroke="none" stroke-width="0" />
<circle cx="498" cy="222" r="1.45" fill="#7a2fe6" stroke="none" stroke-width="0" />
<circle cx="501" cy="219" r="1.45" fill="#7a2fe6" stroke="none" stroke-width="0" />
<circle cx="504" cy="216" r="1.45" fill="#7a2fe6" stroke="none" stroke-width="0" />
<circle cx="507.5" cy="205.6" r="1.45" fill="#7a2fe6" stroke="none" stroke-width="0" />
<circle cx="510" cy="205.1" r="1.45" fill="#7a2fe6" stroke="none" stroke-width="0" />
<circle cx="526.6" cy="201.8" r="1.45" fill="#7a2fe6" stroke="none" stroke-width="0" />
<circle cx="594" cy="180.1" r="1.45" fill="#7a2fe6" stroke="none" stroke-width="0" />
<circle cx="508" cy="210.7" r="1.45" fill="#7a2fe6" stroke="none" stroke-width="0" />
<circle cx="508.74" cy="212.25" r="1.45" fill="#7a2fe6" stroke="none" stroke-width="0" />
<circle cx="509.54" cy="211.52" r="1.45" fill="#7a2fe6" stroke="none" stroke-width="0" />
<circle cx="510.45" cy="213.41" r="1.45" fill="#7a2fe6" stroke="none" stroke-width="0" />
<circle cx="511.6" cy="210.46" r="1.45" fill="#7a2fe6" stroke="none" stroke-width="0" />
<circle cx="512.59" cy="213.39" r="1.45" fill="#7a2fe6" stroke="none" stroke-width="0" />
<circle cx="513.52" cy="213.3" r="1.45" fill="#7a2fe6" stroke="none" stroke-width="0" />
<circle cx="514.85" cy="213.21" r="1.45" fill="#7a2fe6" stroke="none" stroke-width="0" />
<circle cx="515.75" cy="211.8" r="1.45" fill="#7a2fe6" stroke="none" stroke-width="0" />
<circle cx="516.47" cy="215.52" r="1.45" fill="#7a2fe6" stroke="none" stroke-width="0" />
<circle cx="517.6" cy="214.53" r="1.45" fill="#7a2fe6" stroke="none" stroke-width="0" />
<circle cx="518.95" cy="212.01" r="1.45" fill="#7a2fe6" stroke="none" stroke-width="0" />
<circle cx="519.98" cy="213.47" r="1.45" fill="#7a2fe6" stroke="none" stroke-width="0" />
<circle cx="520.9" cy="211" r="1.45" fill="#7a2fe6" stroke="none" stroke-width="0" />
<circle cx="521.71" cy="214.07" r="1.45" fill="#7a2fe6" stroke="none" stroke-width="0" />
<circle cx="523.11" cy="210.66" r="1.45" fill="#7a2fe6" stroke="none" stroke-width="0" />
<circle cx="524.13" cy="206.66" r="1.45" fill="#7a2fe6" stroke="none" stroke-width="0" />
<circle cx="525.22" cy="211.13" r="1.45" fill="#7a2fe6" stroke="none" stroke-width="0" />
<circle cx="526.6" cy="209.18" r="1.45" fill="#7a2fe6" stroke="none" stroke-width="0" />
<circle cx="527.94" cy="210.7" r="1.45" fill="#7a2fe6" stroke="none" stroke-width="0" />
<circle cx="528.66" cy="210.22" r="1.45" fill="#7a2fe6" stroke="none" stroke-width="0" />
<circle cx="530.05" cy="207" r="1.45" fill="#7a2fe6" stroke="none" stroke-width="0" />
<circle cx="531.41" cy="208.82" r="1.45" fill="#7a2fe6" stroke="none" stroke-width="0" />
<circle cx="532.02" cy="208.56" r="1.45" fill="#7a2fe6" stroke="none" stroke-width="0" />
<circle cx="533" cy="209.11" r="1.45" fill="#7a2fe6" stroke="none" stroke-width="0" />
<circle cx="533.94" cy="207.95" r="1.45" fill="#7a2fe6" stroke="none" stroke-width="0" />
<circle cx="534.61" cy="208.43" r="1.45" fill="#7a2fe6" stroke="none" stroke-width="0" />
<circle cx="535.48" cy="207.02" r="1.45" fill="#7a2fe6" stroke="none" stroke-width="0" />
<circle cx="536.49" cy="207.62" r="1.45" fill="#7a2fe6" stroke="none" stroke-width="0" />
<circle cx="537.14" cy="209.55" r="1.45" fill="#7a2fe6" stroke="none" stroke-width="0" />
<circle cx="537.91" cy="206.31" r="1.45" fill="#7a2fe6" stroke="none" stroke-width="0" />
<circle cx="539.12" cy="208.01" r="1.45" fill="#7a2fe6" stroke="none" stroke-width="0" />
<circle cx="540" cy="204.64" r="1.45" fill="#7a2fe6" stroke="none" stroke-width="0" />
<circle cx="540.71" cy="202.06" r="1.45" fill="#7a2fe6" stroke="none" stroke-width="0" />
<circle cx="542" cy="203.23" r="1.45" fill="#7a2fe6" stroke="none" stroke-width="0" />
<circle cx="543.08" cy="203.7" r="1.45" fill="#7a2fe6" stroke="none" stroke-width="0" />
<circle cx="544.01" cy="206.1" r="1.45" fill="#7a2fe6" stroke="none" stroke-width="0" />
<circle cx="544.75" cy="205.72" r="1.45" fill="#7a2fe6" stroke="none" stroke-width="0" />
<circle cx="545.49" cy="205.68" r="1.45" fill="#7a2fe6" stroke="none" stroke-width="0" />
<circle cx="546.54" cy="205.55" r="1.45" fill="#7a2fe6" stroke="none" stroke-width="0" />
<circle cx="547.76" cy="205.21" r="1.45" fill="#7a2fe6" stroke="none" stroke-width="0" />
<circle cx="548.45" cy="200.61" r="1.45" fill="#7a2fe6" stroke="none" stroke-width="0" />
<circle cx="549.71" cy="203.79" r="1.45" fill="#7a2fe6" stroke="none" stroke-width="0" />
<circle cx="550.54" cy="203.88" r="1.45" fill="#7a2fe6" stroke="none" stroke-width="0" />
<circle cx="551.61" cy="204.08" r="1.45" fill="#7a2fe6" stroke="none" stroke-width="0" />
<circle cx="552.53" cy="202.94" r="1.45" fill="#7a2fe6" stroke="none" stroke-width="0" />
<circle cx="553.79" cy="200.64" r="1.45" fill="#7a2fe6" stroke="none" stroke-width="0" />
<circle cx="554.68" cy="202.94" r="1.45" fill="#7a2fe6" stroke="none" stroke-width="0" />
<circle cx="555.36" cy="204.58" r="1.45" fill="#7a2fe6" stroke="none" stroke-width="0" />
<circle cx="556.53" cy="198.42" r="1.45" fill="#7a2fe6" stroke="none" stroke-width="0" />
<circle cx="557.45" cy="199.45" r="1.45" fill="#7a2fe6" stroke="none" stroke-width="0" />
<circle cx="558.58" cy="201.07" r="1.45" fill="#7a2fe6" stroke="none" stroke-width="0" />
<circle cx="559.7" cy="198.79" r="1.45" fill="#7a2fe6" stroke="none" stroke-width="0" />
<circle cx="560.87" cy="203.16" r="1.45" fill="#7a2fe6" stroke="none" stroke-width="0" />
<circle cx="561.65" cy="200.48" r="1.45" fill="#7a2fe6" stroke="none" stroke-width="0" />
<circle cx="562.45" cy="196.71" r="1.45" fill="#7a2fe6" stroke="none" stroke-width="0" />
<circle cx="563.29" cy="198.95" r="1.45" fill="#7a2fe6" stroke="none" stroke-width="0" />
<circle cx="564.24" cy="197.89" r="1.45" fill="#7a2fe6" stroke="none" stroke-width="0" />
<circle cx="565.61" cy="198.08" r="1.45" fill="#7a2fe6" stroke="none" stroke-width="0" />
<circle cx="566.93" cy="199.84" r="1.45" fill="#7a2fe6" stroke="none" stroke-width="0" />
<circle cx="568.23" cy="197.81" r="1.45" fill="#7a2fe6" stroke="none" stroke-width="0" />
<circle cx="569.58" cy="194.67" r="1.45" fill="#7a2fe6" stroke="none" stroke-width="0" />
<circle cx="570.38" cy="197.91" r="1.45" fill="#7a2fe6" stroke="none" stroke-width="0" />
<circle cx="571.51" cy="194.92" r="1.45" fill="#7a2fe6" stroke="none" stroke-width="0" />
<circle cx="572.6" cy="195.26" r="1.45" fill="#7a2fe6" stroke="none" stroke-width="0" />
<circle cx="573.68" cy="198.1" r="1.45" fill="#7a2fe6" stroke="none" stroke-width="0" />
<circle cx="575.07" cy="194.01" r="1.45" fill="#7a2fe6" stroke="none" stroke-width="0" />
<circle cx="575.98" cy="192.96" r="1.45" fill="#7a2fe6" stroke="none" stroke-width="0" />
<circle cx="577.29" cy="192.65" r="1.45" fill="#7a2fe6" stroke="none" stroke-width="0" />
<circle cx="578.44" cy="195.94" r="1.45" fill="#7a2fe6" stroke="none" stroke-width="0" />
<circle cx="579.81" cy="194.16" r="1.45" fill="#7a2fe6" stroke="none" stroke-width="0" />
<circle cx="580.55" cy="195.45" r="1.45" fill="#7a2fe6" stroke="none" stroke-width="0" />
<circle cx="581.66" cy="190.92" r="1.45" fill="#7a2fe6" stroke="none" stroke-width="0" />
<circle cx="582.95" cy="189.6" r="1.45" fill="#7a2fe6" stroke="none" stroke-width="0" />
<circle cx="583.74" cy="192.85" r="1.45" fill="#7a2fe6" stroke="none" stroke-width="0" />
<circle cx="584.66" cy="190.17" r="1.45" fill="#7a2fe6" stroke="none" stroke-width="0" />
<circle cx="585.35" cy="191.1" r="1.45" fill="#7a2fe6" stroke="none" stroke-width="0" />
<circle cx="586.2" cy="190.86" r="1.45" fill="#7a2fe6" stroke="none" stroke-width="0" />
<circle cx="587.34" cy="190.45" r="1.45" fill="#7a2fe6" stroke="none" stroke-width="0" />
<circle cx="588.56" cy="188.92" r="1.45" fill="#7a2fe6" stroke="none" stroke-width="0" />
<circle cx="589.52" cy="190.49" r="1.45" fill="#7a2fe6" stroke="none" stroke-width="0" />
<circle cx="590.71" cy="192.09" r="1.45" fill="#7a2fe6" stroke="none" stroke-width="0" />
<circle cx="591.68" cy="186.41" r="1.45" fill="#7a2fe6" stroke="none" stroke-width="0" />
<circle cx="592.79" cy="187.97" r="1.45" fill="#7a2fe6" stroke="none" stroke-width="0" />
<circle cx="594" cy="188.15" r="1.45" fill="#7a2fe6" stroke="none" stroke-width="0" />
<circle cx="594.62" cy="186.59" r="1.45" fill="#7a2fe6" stroke="none" stroke-width="0" />
<circle cx="595.3" cy="186.69" r="1.45" fill="#7a2fe6" stroke="none" stroke-width="0" />
<circle cx="596.67" cy="189.25" r="1.45" fill="#7a2fe6" stroke="none" stroke-width="0" />
<circle cx="597.6" cy="185.12" r="1.45" fill="#7a2fe6" stroke="none" stroke-width="0" />
<circle cx="598.96" cy="187.87" r="1.45" fill="#7a2fe6" stroke="none" stroke-width="0" />
<circle cx="600.03" cy="184.94" r="1.45" fill="#7a2fe6" stroke="none" stroke-width="0" />
<circle cx="601.43" cy="188.18" r="1.45" fill="#7a2fe6" stroke="none" stroke-width="0" />
<circle cx="602.66" cy="183.94" r="1.45" fill="#7a2fe6" stroke="none" stroke-width="0" />
<circle cx="603.63" cy="185.36" r="1.45" fill="#7a2fe6" stroke="none" stroke-width="0" />
<circle cx="460.3" cy="280.1" r="1.3" fill="#b060a0" stroke="none" stroke-width="0" />
<text x="546" y="272.1" font-size="7.5" text-anchor="start" font-weight="normal" fill="#161616" stroke="#161616" stroke-width="0.1" >Probed @ 620 nm</text>
<circle cx="554.5" cy="279.1" r="1.4" fill="#7a2fe6" stroke="none" stroke-width="0" />
<circle cx="554.5" cy="287.2" r="1.4" fill="#f0902c" stroke="none" stroke-width="0" />
<text x="564.7" y="281.8" font-size="7.5" text-anchor="start" font-weight="normal" fill="#161616" stroke="#161616" stroke-width="0.1" >F3N</text>
<text x="564.7" y="289.9" font-size="7.5" text-anchor="start" font-weight="normal" fill="#161616" stroke="#161616" stroke-width="0.1" >AZnO-F3N</text>
<text x="5.5" y="331" font-size="10.5" text-anchor="start" font-weight="bold" fill="#000" >g</text>
<rect x="34.7" y="347.5" width="165" height="59.7" stroke="#3a3a3a" stroke-width="1.0" fill="none" />
<rect x="34.7" y="415.6" width="165" height="60.2" stroke="#3a3a3a" stroke-width="1.0" fill="none" />
<line x1="34.7" y1="339.5" x2="47.7" y2="339.5" stroke="#d93a3a" stroke-width="1.3" />
<text x="50.3" y="341.7" font-size="6.1" text-anchor="start" font-weight="normal" fill="#161616" stroke="#161616" stroke-width="0.1" >TDOS</text>
<line x1="68.5" y1="339.5" x2="82.2" y2="339.5" stroke="#f0902c" stroke-width="1.3" />
<text x="84.1" y="341.7" font-size="6.1" text-anchor="start" font-weight="normal" fill="#161616" stroke="#161616" stroke-width="0.1" >PDOS-Zn</text>
<line x1="112" y1="339.5" x2="125.6" y2="339.5" stroke="#3cb878" stroke-width="1.3" />
<text x="127.5" y="341.7" font-size="6.1" text-anchor="start" font-weight="normal" fill="#161616" stroke="#161616" stroke-width="0.1" >PDOS-O</text>
<line x1="153.3" y1="339.5" x2="166.6" y2="339.5" stroke="#7a2fe6" stroke-width="1.3" />
<text x="168.3" y="341.7" font-size="6.1" text-anchor="start" font-weight="normal" fill="#161616" stroke="#161616" stroke-width="0.1" >PDOS-F3N</text>
<line x1="34.6" y1="407.2" x2="34.6" y2="404.7" stroke="#3a3a3a" stroke-width="0.9" />
<line x1="34.6" y1="475.8" x2="34.6" y2="473.3" stroke="#3a3a3a" stroke-width="0.9" />
<line x1="75.85" y1="407.2" x2="75.85" y2="404.7" stroke="#3a3a3a" stroke-width="0.9" />
<line x1="75.85" y1="475.8" x2="75.85" y2="473.3" stroke="#3a3a3a" stroke-width="0.9" />
<line x1="117.1" y1="407.2" x2="117.1" y2="404.7" stroke="#3a3a3a" stroke-width="0.9" />
<line x1="117.1" y1="475.8" x2="117.1" y2="473.3" stroke="#3a3a3a" stroke-width="0.9" />
<line x1="158.35" y1="407.2" x2="158.35" y2="404.7" stroke="#3a3a3a" stroke-width="0.9" />
<line x1="158.35" y1="475.8" x2="158.35" y2="473.3" stroke="#3a3a3a" stroke-width="0.9" />
<line x1="199.6" y1="407.2" x2="199.6" y2="404.7" stroke="#3a3a3a" stroke-width="0.9" />
<line x1="199.6" y1="475.8" x2="199.6" y2="473.3" stroke="#3a3a3a" stroke-width="0.9" />
<text x="34.6" y="485.2" font-size="8.5" text-anchor="middle" font-weight="normal" fill="#161616" stroke="#161616" stroke-width="0.22" >-5</text>
<text x="117.1" y="485.2" font-size="8.5" text-anchor="middle" font-weight="normal" fill="#161616" stroke="#161616" stroke-width="0.22" >0</text>
<text x="199.6" y="485.2" font-size="8.5" text-anchor="middle" font-weight="normal" fill="#161616" stroke="#161616" stroke-width="0.22" >5</text>
<text x="117" y="496.2" font-size="9.1" text-anchor="middle" font-weight="normal" fill="#161616" stroke="#161616" stroke-width="0.22" >Energy (eV)</text>
<text x="11.3" y="412" font-size="9.1" text-anchor="middle" font-weight="normal" fill="#161616" stroke="#161616" stroke-width="0.22" transform="rotate(-90 11.3 412)" >DOS (a.u.)</text>
<line x1="34.7" y1="354" x2="37.7" y2="354" stroke="#3a3a3a" stroke-width="0.9" />
<text x="31.5" y="357.05" font-size="8.5" text-anchor="end" font-weight="normal" fill="#161616" stroke="#161616" stroke-width="0.22" >40</text>
<line x1="34.7" y1="380.6" x2="37.7" y2="380.6" stroke="#3a3a3a" stroke-width="0.9" />
<text x="31.5" y="383.65" font-size="8.5" text-anchor="end" font-weight="normal" fill="#161616" stroke="#161616" stroke-width="0.22" >20</text>
<line x1="34.7" y1="407.2" x2="37.7" y2="407.2" stroke="#3a3a3a" stroke-width="0.9" />
<text x="31.5" y="410.25" font-size="8.5" text-anchor="end" font-weight="normal" fill="#161616" stroke="#161616" stroke-width="0.22" >0</text>
<line x1="34.7" y1="367.3" x2="36.7" y2="367.3" stroke="#3a3a3a" stroke-width="0.9" />
<line x1="34.7" y1="393.9" x2="36.7" y2="393.9" stroke="#3a3a3a" stroke-width="0.9" />
<text x="31.5" y="418.1" font-size="8.5" text-anchor="end" font-weight="normal" fill="#161616" stroke="#161616" stroke-width="0.22" >20</text>
<line x1="34.7" y1="445.5" x2="36.7" y2="445.5" stroke="#3a3a3a" stroke-width="0.9" />
<text x="195.5" y="356.3" font-size="6.2" text-anchor="end" font-weight="normal" fill="#161616" stroke="#161616" stroke-width="0.1" >2D A-ZnO</text>
<text x="196" y="424.3" font-size="6.2" text-anchor="end" font-weight="normal" fill="#161616" stroke="#161616" stroke-width="0.1" >AZnO-F3N</text>
<path d="M34.7,394.44 L35.16,394.71 L35.8,394.3 L36.66,393.65 L37.8,393.75 L39.32,393.96 L41.16,394.56 L43.12,395.2 L45,395.22 L46.67,395.64 L48.27,396.7 L49.96,396.88 L51.9,397.48 L54.16,397.2 L56.65,397.67 L59.28,397.99 L62,397.81 L64.84,398.52 L67.82,398.71 L70.83,398.33 L73.75,398.57 L76.72,399.18 L79.75,399.72 L82.52,399.61 L84.7,399.8 L86.03,400.27 L86.75,400.33 L87.27,400.85 L88,401.46 L88.96,402.07 L89.97,402.56 L91.11,403.23 L92.5,403.8 L94.17,404.45 L96.07,404.75 L98.14,404.94 L100.3,405.84 L102.65,405.92 L105.2,406.22 L107.72,406.1 L110,406.84 L111.33,406.93 L112.04,406.58 L113.49,406.85 L117,407.16 L123.96,407.07 L133.31,407.07 L142.76,406.49 L150,406.53 L154.12,406.18 L156.44,405.66 L158.04,405.52 L160,405.27 L162.5,404.58 L165,403.52 L167.5,402.75 L170,401.67 L172.5,401.38 L175,401.47 L177.5,400.9 L180,400.27 L182.51,399.83 L185.02,399.09 L187.52,398.2 L190,397.21 L192.67,396.57 L195.47,395.96 L197.96,395.59 L199.7,395.01" stroke="#f0902c" stroke-width="1.3" fill="none" stroke-linejoin="round" stroke-linecap="round" />
<path d="M34.7,387.52 L35.52,386.42 L36.7,384.21 L38.05,382.61 L39.4,381.93 L40.74,381.26 L42.16,380.94 L43.6,380.56 L45,380.57 L46.36,380.31 L47.71,380.05 L49.02,379.49 L50.3,379.35 L51.48,378.95 L52.59,378.76 L53.73,378.46 L55,377.81 L56.51,376.73 L58.18,375.72 L59.83,374.63 L61.25,373.58 L62.36,372.79 L63.27,372.36 L64.1,371.56 L65,370.92 L66,370.67 L67.03,369.87 L68.05,369.28 L69,368.22 L69.8,366.75 L70.49,365.32 L71.24,363.68 L72.2,363.01 L73.41,363.27 L74.78,363.53 L76.32,363.85 L78,364.78 L80.01,364.72 L82.29,364.51 L84.49,364.55 L86.25,364.68 L87.4,365.11 L88.15,365.32 L88.74,366.79 L89.4,368.72 L90.14,371.72 L90.85,376.88 L91.61,381.56 L92.5,384.77 L93.61,386.29 L94.87,386.57 L96.12,386.85 L97.2,387 L98.02,388.33 L98.68,389.32 L99.3,391.18 L100,392.78 L100.78,394.29 L101.59,396.39 L102.45,398.62 L103.4,400.16 L104.48,401.29 L105.66,402.16 L106.86,403.11 L108,404.14 L109.02,404.4 L109.97,405.39 L110.94,405.32 L112,406.09 L113.11,405.95 L114.25,406.61 L115.52,406.58 L117,406.5 L118.74,406.47 L120.69,406.43 L122.79,406.21 L125,405.87 L127.31,405.65 L129.75,405.7 L132.31,405.86 L135,405.59 L137.84,405.3 L140.81,406.04 L143.88,406.15 L147,406.29 L150.25,405.54 L153.62,405.51 L156.94,404.57 L160,404.61 L162.71,404.08 L165.19,403.83 L167.57,404.09 L170,403.32 L172.5,403.35 L175,403.3 L177.5,402.59 L180,402.3 L182.51,402.5 L185.02,401.9 L187.52,401.88 L190,401.27 L192.67,401.52 L195.47,401.51 L197.96,402.02 L199.7,401.71" stroke="#3cb878" stroke-width="1.3" fill="none" stroke-linejoin="round" stroke-linecap="round" />
<path d="M34.7,373.72 L35.22,372.82 L35.96,371.08 L36.84,369.61 L37.8,368.49 L38.89,367.63 L40.12,367.51 L41.37,368.2 L42.5,367.93 L43.44,368.07 L44.27,368.87 L45.1,368.78 L46,369.24 L47.01,369.14 L48.08,369.39 L49.18,369.09 L50.3,369.29 L51.41,369.08 L52.53,368.28 L53.71,367.8 L55,367.12 L56.54,366.04 L58.25,365.82 L59.9,365.06 L61.25,364.36 L62.17,363.97 L62.8,364.56 L63.34,364.26 L64,364.15 L64.85,363.57 L65.77,362.49 L66.68,361.65 L67.5,360.53 L68.21,360.47 L68.85,360.12 L69.44,360.31 L70,359.77 L70.44,358.08 L70.79,356.55 L71.22,355.13 L71.9,354.73 L72.93,354.22 L74.2,354.71 L75.57,355.03 L76.9,355.61 L78.19,355.76 L79.5,355.96 L80.78,356.33 L82,356.56 L83.17,356.98 L84.3,356.99 L85.34,357.4 L86.25,357.75 L86.97,358.32 L87.54,358.64 L88.05,359.1 L88.6,360.85 L89.2,362.74 L89.8,364.95 L90.41,367.28 L91,370.15 L91.54,373.09 L92.06,377.28 L92.61,380.65 L93.3,383.15 L94.19,384.43 L95.22,385.58 L96.26,386.03 L97.2,386.11 L97.96,387.79 L98.63,388.85 L99.28,390.15 L100,391.86 L100.8,394.07 L101.65,396.25 L102.52,397.72 L103.4,399.78 L104.27,400.54 L105.15,401.85 L106.05,402.24 L107,403.27 L107.98,403.99 L108.99,404.25 L110.07,405.11 L111.25,405.07 L112.6,405.29 L114.08,405.98 L115.58,405.8 L117,405.99 L118.3,405.97 L119.55,405.77 L120.77,405.06 L122,404.68 L123.27,405.11 L124.56,404.65 L125.82,405.01 L127,404.78 L128.07,404.02 L129.06,403.55 L130.02,403.1 L131,402.9 L131.95,402.94 L132.86,403.23 L133.84,403.56 L135,403.81 L136.49,403.07 L138.2,402.29 L139.88,401.79 L141.25,401.07 L142.17,401.18 L142.8,402 L143.34,402.13 L144,402.53 L144.85,402.52 L145.77,403.2 L146.68,403.61 L147.5,403.26 L148.14,403.36 L148.66,402.77 L149.22,401.71 L150,401.59 L151.07,401.16 L152.34,401.09 L153.69,400.66 L155,400.64 L156.3,400.22 L157.62,399.17 L158.89,398.75 L160,399.02 L160.88,399.51 L161.61,399.61 L162.28,400.44 L163,401.06 L163.74,401.34 L164.45,401.85 L165.26,402.07 L166.25,401.91 L167.49,401.22 L168.91,399.69 L170.43,398.26 L172,397.19 L173.68,395.43 L175.47,394.54 L177.21,393.56 L178.75,392.57 L179.97,392.35 L180.98,393 L181.94,393 L183,393.28 L184.22,393.76 L185.52,394.33 L186.8,394.13 L188,394.08 L188.98,393.19 L189.83,392.15 L190.76,390.45 L192,389.75 L193.85,388.88 L196.1,388.94 L198.23,389.26 L199.7,389.47" stroke="#d93a3a" stroke-width="1.3" fill="none" stroke-linejoin="round" stroke-linecap="round" />
<rect x="117.2" y="397" width="30.4" height="10.2" fill="none" stroke="#222" stroke-width="0.8" stroke-dasharray="2,1.5"/>
<path d="M34.7,473.02 L35.77,472.09 L37.29,471.07 L39.09,469.72 L41,468.95 L43.01,469.14 L45.19,469.88 L47.53,470.32 L50,470.69 L52.6,470.51 L55.33,470.89 L58.21,470.84 L61.25,470.87 L64.5,470.9 L67.93,471.02 L71.46,471.55 L75,471.53 L78.71,471.55 L82.57,471.57 L86.25,471.22 L89.4,471.47 L91.81,472 L93.71,472.48 L95.4,473.02 L97.2,473.47 L99.05,473.33 L100.84,474.13 L102.75,474.58 L105,474.8 L107.21,474.84 L109.42,475.25 L112.42,475.13 L117,475.8 L124.08,475.8 L133,475.56 L142.17,475.29 L150,475.49 L156.03,474.82 L161.12,474.44 L165.66,473.79 L170,473.01 L174.11,472.54 L177.83,472.34 L181.39,471.88 L185,471.26 L189.04,470.75 L193.29,470.38 L197.07,469.15 L199.7,468.68" stroke="#f0902c" stroke-width="1.3" fill="none" stroke-linejoin="round" stroke-linecap="round" />
<path d="M34.7,469.34 L35.65,468.91 L37,468.2 L38.53,467.5 L40,466.67 L41.34,466.27 L42.67,465.18 L44.07,465.05 L45.6,464.91 L47.3,464.19 L49.13,463.82 L51.05,462.74 L53,462.48 L54.99,461.88 L57.04,461.7 L59.13,461.29 L61.25,460.36 L63.45,459.8 L65.71,459.03 L67.93,458.62 L70,457.69 L71.83,456.5 L73.51,456.2 L75.16,454.98 L76.9,454.48 L78.86,453.12 L80.94,451.89 L82.95,451.46 L84.7,450.3 L86.1,450.04 L87.25,450.62 L88.3,450.77 L89.4,450.65 L90.61,451.6 L91.84,451.99 L93.01,452.69 L94,452.59 L94.73,452.56 L95.26,451.31 L95.77,450.67 L96.4,450.78 L97.23,451.96 L98.16,454.57 L99.11,457.29 L100,459.75 L100.78,461.64 L101.5,463.57 L102.22,465.44 L103,466.65 L103.82,468.83 L104.65,470.29 L105.56,471.82 L106.6,473.42 L107.06,474.05 L107.15,474.51 L108.32,475.01 L112,475.44 L119.63,475.16 L130.09,475.81 L141,475.07 L150,475.47 L156.38,475.4 L161.44,474.63 L165.77,474.93 L170,474.41 L174.11,474.34 L177.83,473.71 L181.39,473.49 L185,473.28 L189.04,473.4 L193.29,472.38 L197.07,472.3 L199.7,472.1" stroke="#3cb878" stroke-width="1.3" fill="none" stroke-linejoin="round" stroke-linecap="round" />
<path d="M34.7,467.82 L35.11,468.33 L35.7,468.93 L36.36,469.65 L37,470.3 L37.58,471.39 L38.15,472.21 L38.75,473.05 L39.4,473.15 L40.12,472.87 L40.88,471.74 L41.68,470.9 L42.5,470.09 L43.35,469.55 L44.23,469.35 L45.12,469.24 L46,468.88 L46.88,468.78 L47.75,468.62 L48.62,468.27 L49.5,468.62 L50.37,469.09 L51.24,469.95 L52.12,470.64 L53,471.34 L53.87,472.32 L54.73,473.02 L55.62,473.49 L56.6,473.84 L57.71,474.24 L58.92,474.67 L60.13,474.65 L61.25,474.88 L62.22,474.4 L63.1,473.68 L64,473.32 L65,472.94 L66.19,473.39 L67.48,473.9 L68.79,474.27 L70,474.56 L71.07,474.42 L72.06,474.06 L73.02,473.64 L74,472.81 L75,472.48 L76,472.04 L77,471.52 L78,471.54 L79,471.77 L80,472.9 L81,473.57 L82,473.85 L83,473.89 L84,473.21 L85,472.6 L86,472.49 L86.98,472.65 L87.94,473.27 L88.93,474.18 L90,474.58 L91.18,474.49 L92.44,474.85 L93.73,474.56 L95,474.73 L96.13,475.08 L97.19,475.1 L98.4,475.11 L100,475.25 L102.15,475.35 L104.69,475.33 L107.38,475.72 L110,475.32 L112.62,475.32 L115.31,475.22 L117.85,474.86 L120,474.99 L121.6,474.81 L122.81,475.35 L123.87,475.56 L125,475.57 L126.13,475.5 L127.19,475.02 L128.4,474.88 L130,474.72 L132.15,474.72 L134.69,474.97 L137.38,475.34 L140,475.36 L142.5,475.16 L145,475.22 L147.5,474.81 L150,474.8 L152.5,474.99 L155,474.93 L157.5,475.05 L160,475.15 L162.5,475.19 L165,474.83 L167.5,474.53 L170,474.48 L172.5,474.78 L175,474.76 L177.5,475.07 L180,475.35 L182.51,475.12 L185.02,474.72 L187.52,474.51 L190,474.29 L192.67,474.03 L195.47,474.04 L197.96,473.96 L199.7,474.12" stroke="#7a2fe6" stroke-width="1.3" fill="none" stroke-linejoin="round" stroke-linecap="round" />
<path d="M34.7,462.08 L35.25,460.97 L36.05,459.86 L36.95,458.05 L37.8,457.53 L38.56,457.51 L39.31,457.98 L40.1,458.97 L41,458.68 L42.05,458.04 L43.21,456.31 L44.41,454.68 L45.6,453.55 L46.79,452.72 L48.01,451.19 L49.19,450.44 L50.3,450.29 L51.29,450.57 L52.19,450.76 L53.07,451.28 L54,452.33 L55,452.44 L56.04,453.93 L57.08,454.34 L58.1,454.65 L59.05,454.42 L59.96,453.91 L60.92,453.58 L62,452.78 L63.29,453.33 L64.71,454.02 L66.16,454.36 L67.5,454.43 L68.69,453.21 L69.79,451.78 L70.87,450.26 L72,449.13 L73.24,447.55 L74.54,446.01 L75.79,444.98 L76.9,444.22 L77.78,444.31 L78.51,445.5 L79.2,446.33 L80,446.42 L80.9,446.33 L81.86,445.56 L82.88,444.96 L84,444.16 L85.31,443.25 L86.76,443.11 L88.18,442.1 L89.4,442.34 L90.32,443.28 L91.04,444.06 L91.72,445.59 L92.5,446.28 L93.42,447.06 L94.4,447.12 L95.41,447.2 L96.4,448.46 L97.38,450.42 L98.36,453.91 L99.34,457.2 L100.3,459.96 L101.23,461.78 L102.14,463.52 L103.06,464.9 L104,465.98 L105,467.78 L106.03,469.11 L107.05,471.2 L108,472.5 L108.81,473.71 L109.52,474.29 L110.28,474.44 L111.25,474.92 L112.34,475.41 L113.52,475.09 L114.99,475.45 L117,475.27 L119.63,475.23 L122.76,475.14 L126.26,475.56 L130,475.04 L134.32,475.08 L139.15,475.15 L143.81,475.42 L147.6,474.71 L150.12,474.68 L151.82,474.37 L153.26,474.19 L155,473.72 L157.32,473.28 L159.88,472.33 L162.32,471.97 L164.3,471.7 L165.59,472.27 L166.43,472.83 L167.12,472.71 L168,472.77 L169.08,472.23 L170.21,471.25 L171.46,470.38 L172.9,469.66 L174.64,468.94 L176.62,468.41 L178.62,468.52 L180.4,468.51 L181.9,469.09 L183.25,470.14 L184.5,470.64 L185.7,470.71 L186.85,470.24 L187.91,469.27 L188.95,467.68 L190,467.28 L191.05,466.41 L192.08,465.75 L193.15,465.05 L194.3,464.22 L195.7,463.82 L197.27,463.3 L198.7,463.45 L199.7,462.89" stroke="#d93a3a" stroke-width="1.3" fill="none" stroke-linejoin="round" stroke-linecap="round" />
<rect x="117.2" y="465.3" width="30.4" height="10.5" fill="none" stroke="#222" stroke-width="0.8" stroke-dasharray="2,1.5"/>
<text x="420.5" y="330.8" font-size="10.5" text-anchor="start" font-weight="bold" fill="#000" >i</text>
<defs><linearGradient id="gi" x1="484" y1="0" x2="588" y2="0" gradientUnits="userSpaceOnUse"><stop offset="0" stop-color="#22d8f0"/><stop offset="0.37" stop-color="#50f0d8"/><stop offset="0.5" stop-color="#a0f0a0"/><stop offset="1" stop-color="#ffff20"/></linearGradient></defs>
<path d="M523.2,346.9 L522.1,346.9 L522.15,347.29 L522.23,347.82 L522.32,348.44 L522.41,349.14 L522.5,349.87 L522.57,350.61 L522.61,351.33 L522.6,352 L522.53,352.63 L522.41,353.26 L522.25,353.88 L522.08,354.51 L521.9,355.13 L521.75,355.75 L521.64,356.38 L521.6,357 L521.63,357.62 L521.73,358.23 L521.87,358.83 L522.03,359.44 L522.2,360.05 L522.34,360.68 L522.45,361.33 L522.5,362 L522.48,362.7 L522.41,363.43 L522.3,364.18 L522.17,364.94 L522.04,365.71 L521.93,366.48 L521.84,367.24 L521.8,368 L521.81,368.74 L521.87,369.47 L521.96,370.19 L522.06,370.92 L522.15,371.65 L522.24,372.41 L522.29,373.19 L522.3,374 L522.27,374.87 L522.22,375.79 L522.15,376.76 L522.06,377.73 L521.95,378.7 L521.81,379.63 L521.67,380.5 L521.5,381.3 L521.3,382.01 L521.06,382.65 L520.79,383.24 L520.51,383.8 L520.23,384.34 L519.96,384.87 L519.71,385.42 L519.5,386 L519.34,386.59 L519.22,387.16 L519.13,387.73 L519.04,388.31 L518.96,388.91 L518.85,389.53 L518.7,390.19 L518.5,390.9 L518.23,391.68 L517.91,392.52 L517.55,393.4 L517.18,394.31 L516.79,395.23 L516.42,396.13 L516.09,396.99 L515.8,397.8 L515.65,398.56 L515.65,399.29 L515.72,399.99 L515.79,400.67 L515.78,401.34 L515.59,401.99 L515.16,402.65 L514.4,403.3 L513.12,403.96 L511.3,404.61 L509.16,405.26 L506.89,405.91 L504.7,406.53 L502.79,407.15 L501.35,407.74 L500.6,408.3 L500.81,408.82 L501.9,409.29 L503.55,409.73 L505.44,410.15 L507.24,410.58 L508.63,411.04 L509.3,411.54 L508.9,412.1 L506.95,412.75 L503.54,413.48 L499.24,414.26 L494.61,415.07 L490.21,415.86 L486.62,416.62 L484.39,417.31 L484.1,417.9 L486.07,418.39 L489.91,418.81 L495.09,419.17 L501.08,419.49 L507.37,419.77 L513.41,420.05 L518.7,420.32 L522.7,420.6 L525.67,420.87 L528.23,421.12 L530.38,421.34 L532.12,421.56 L533.45,421.79 L534.37,422.03 L534.89,422.29 L535,422.6 L533.99,422.93 L531.54,423.26 L528.26,423.61 L524.79,423.98 L521.74,424.39 L519.73,424.83 L519.38,425.34 L521.3,425.9 L526.62,426.55 L535.23,427.28 L545.89,428.08 L557.4,428.91 L568.52,429.76 L578.02,430.61 L584.69,431.43 L587.3,432.2 L585.07,432.94 L578.84,433.66 L569.79,434.38 L559.12,435.09 L548.01,435.78 L537.67,436.44 L529.26,437.08 L524,437.7 L522.07,438.27 L522.41,438.8 L524.36,439.3 L527.24,439.78 L530.37,440.26 L533.07,440.74 L534.67,441.25 L534.5,441.8 L532.22,442.38 L528.32,442.97 L523.39,443.59 L518.01,444.21 L512.74,444.85 L508.16,445.49 L504.86,446.14 L503.4,446.8 L504.11,447.46 L506.59,448.13 L510.31,448.8 L514.74,449.48 L519.35,450.17 L523.61,450.87 L527.01,451.58 L529,452.3 L529.55,453.06 L529.14,453.86 L528.03,454.69 L526.49,455.52 L524.79,456.34 L523.18,457.1 L521.93,457.8 L521.3,458.4 L521.31,458.88 L521.7,459.25 L522.36,459.54 L523.16,459.79 L523.99,460.03 L524.72,460.31 L525.23,460.65 L525.4,461.1 L525.19,461.66 L524.68,462.32 L523.97,463.03 L523.16,463.78 L522.34,464.53 L521.59,465.27 L521.01,465.97 L520.7,466.6 L520.62,467.16 L520.67,467.68 L520.84,468.16 L521.12,468.62 L521.49,469.07 L521.93,469.53 L522.44,470 L523,470.5 L523.7,471.06 L524.58,471.67 L525.59,472.31 L526.64,472.94 L527.68,473.55 L528.63,474.1 L529.43,474.56 L530,474.9 L523.2,474.9 Z" fill="url(#gi)" stroke="none"/>
<path d="M522.1,346.9 L522.15,347.29 L522.23,347.82 L522.32,348.44 L522.41,349.14 L522.5,349.87 L522.57,350.61 L522.61,351.33 L522.6,352 L522.53,352.63 L522.41,353.26 L522.25,353.88 L522.08,354.51 L521.9,355.13 L521.75,355.75 L521.64,356.38 L521.6,357 L521.63,357.62 L521.73,358.23 L521.87,358.83 L522.03,359.44 L522.2,360.05 L522.34,360.68 L522.45,361.33 L522.5,362 L522.48,362.7 L522.41,363.43 L522.3,364.18 L522.17,364.94 L522.04,365.71 L521.93,366.48 L521.84,367.24 L521.8,368 L521.81,368.74 L521.87,369.47 L521.96,370.19 L522.06,370.92 L522.15,371.65 L522.24,372.41 L522.29,373.19 L522.3,374 L522.27,374.87 L522.22,375.79 L522.15,376.76 L522.06,377.73 L521.95,378.7 L521.81,379.63 L521.67,380.5 L521.5,381.3 L521.3,382.01 L521.06,382.65 L520.79,383.24 L520.51,383.8 L520.23,384.34 L519.96,384.87 L519.71,385.42 L519.5,386 L519.34,386.59 L519.22,387.16 L519.13,387.73 L519.04,388.31 L518.96,388.91 L518.85,389.53 L518.7,390.19 L518.5,390.9 L518.23,391.68 L517.91,392.52 L517.55,393.4 L517.18,394.31 L516.79,395.23 L516.42,396.13 L516.09,396.99 L515.8,397.8 L515.65,398.56 L515.65,399.29 L515.72,399.99 L515.79,400.67 L515.78,401.34 L515.59,401.99 L515.16,402.65 L514.4,403.3 L513.12,403.96 L511.3,404.61 L509.16,405.26 L506.89,405.91 L504.7,406.53 L502.79,407.15 L501.35,407.74 L500.6,408.3 L500.81,408.82 L501.9,409.29 L503.55,409.73 L505.44,410.15 L507.24,410.58 L508.63,411.04 L509.3,411.54 L508.9,412.1 L506.95,412.75 L503.54,413.48 L499.24,414.26 L494.61,415.07 L490.21,415.86 L486.62,416.62 L484.39,417.31 L484.1,417.9 L486.07,418.39 L489.91,418.81 L495.09,419.17 L501.08,419.49 L507.37,419.77 L513.41,420.05 L518.7,420.32 L522.7,420.6 L525.67,420.87 L528.23,421.12 L530.38,421.34 L532.12,421.56 L533.45,421.79 L534.37,422.03 L534.89,422.29 L535,422.6 L533.99,422.93 L531.54,423.26 L528.26,423.61 L524.79,423.98 L521.74,424.39 L519.73,424.83 L519.38,425.34 L521.3,425.9 L526.62,426.55 L535.23,427.28 L545.89,428.08 L557.4,428.91 L568.52,429.76 L578.02,430.61 L584.69,431.43 L587.3,432.2 L585.07,432.94 L578.84,433.66 L569.79,434.38 L559.12,435.09 L548.01,435.78 L537.67,436.44 L529.26,437.08 L524,437.7 L522.07,438.27 L522.41,438.8 L524.36,439.3 L527.24,439.78 L530.37,440.26 L533.07,440.74 L534.67,441.25 L534.5,441.8 L532.22,442.38 L528.32,442.97 L523.39,443.59 L518.01,444.21 L512.74,444.85 L508.16,445.49 L504.86,446.14 L503.4,446.8 L504.11,447.46 L506.59,448.13 L510.31,448.8 L514.74,449.48 L519.35,450.17 L523.61,450.87 L527.01,451.58 L529,452.3 L529.55,453.06 L529.14,453.86 L528.03,454.69 L526.49,455.52 L524.79,456.34 L523.18,457.1 L521.93,457.8 L521.3,458.4 L521.31,458.88 L521.7,459.25 L522.36,459.54 L523.16,459.79 L523.99,460.03 L524.72,460.31 L525.23,460.65 L525.4,461.1 L525.19,461.66 L524.68,462.32 L523.97,463.03 L523.16,463.78 L522.34,464.53 L521.59,465.27 L521.01,465.97 L520.7,466.6 L520.62,467.16 L520.67,467.68 L520.84,468.16 L521.12,468.62 L521.49,469.07 L521.93,469.53 L522.44,470 L523,470.5 L523.7,471.06 L524.58,471.67 L525.59,472.31 L526.64,472.94 L527.68,473.55 L528.63,474.1 L529.43,474.56 L530,474.9" stroke="#2a68a0" stroke-width="1.25" fill="none" stroke-linejoin="round" stroke-linecap="round" />
<rect x="456.5" y="346.5" width="134" height="128.8" stroke="#3a3a3a" stroke-width="1.0" fill="none" />
<line x1="459.4" y1="475.3" x2="459.4" y2="472.3" stroke="#3a3a3a" stroke-width="0.9" />
<text x="459.4" y="484" font-size="8.2" text-anchor="middle" font-weight="normal" fill="#161616" stroke="#161616" stroke-width="0.22" >-0.06</text>
<line x1="523.6" y1="475.3" x2="523.6" y2="472.3" stroke="#3a3a3a" stroke-width="0.9" />
<text x="523.6" y="484" font-size="8.2" text-anchor="middle" font-weight="normal" fill="#161616" stroke="#161616" stroke-width="0.22" >0.00</text>
<line x1="587.8" y1="475.3" x2="587.8" y2="472.3" stroke="#3a3a3a" stroke-width="0.9" />
<text x="587.8" y="484" font-size="8.2" text-anchor="middle" font-weight="normal" fill="#161616" stroke="#161616" stroke-width="0.22" >0.06</text>
<line x1="587.5" y1="475.3" x2="592.3" y2="475.3" stroke="#3a3a3a" stroke-width="0.9" />
<line x1="588.5" y1="437.2" x2="590.5" y2="437.2" stroke="#3a3a3a" stroke-width="0.9" />
<line x1="587.5" y1="399.1" x2="592.3" y2="399.1" stroke="#3a3a3a" stroke-width="0.9" />
<line x1="588.5" y1="361" x2="590.5" y2="361" stroke="#3a3a3a" stroke-width="0.9" />
<text x="592.5" y="477.7" font-size="7.4" text-anchor="start" font-weight="normal" fill="#161616" stroke="#161616" stroke-width="0.1" >0</text>
<text x="592.5" y="401.6" font-size="7.4" text-anchor="start" font-weight="normal" fill="#161616" stroke="#161616" stroke-width="0.1" >10</text>
<text x="523.5" y="496" font-size="9.2" text-anchor="middle" font-weight="normal" fill="#161616" stroke="#161616" stroke-width="0.22" >Δρ(e/Å<tspan font-size="5.5" dy="-3.2">3</tspan><tspan dy="3.2">)</tspan></text>
<text x="608.3" y="410.8" font-size="9.2" text-anchor="middle" font-weight="normal" fill="#161616" stroke="#161616" stroke-width="0.22" transform="rotate(-90 608.3 410.8)" >Distance (Å)</text>
<text x="210" y="331" font-size="10.5" text-anchor="start" font-weight="bold" fill="#000" >h</text>
<defs><radialGradient id="zn" cx="0.4" cy="0.36" r="0.68"><stop offset="0" stop-color="#f4f4f2"/><stop offset="0.2" stop-color="#b8b8b4"/><stop offset="0.6" stop-color="#85857f"/><stop offset="1" stop-color="#55554f"/></radialGradient><radialGradient id="ox" cx="0.38" cy="0.35" r="0.65"><stop offset="0" stop-color="#ff9090"/><stop offset="0.4" stop-color="#e81a1a"/><stop offset="1" stop-color="#b00000"/></radialGradient><radialGradient id="cy" cx="0.4" cy="0.4" r="0.75"><stop offset="0" stop-color="#70eef2"/><stop offset="0.7" stop-color="#3cd4dc"/><stop offset="1" stop-color="#1ea4b0"/></radialGradient><radialGradient id="ye" cx="0.4" cy="0.4" r="0.75"><stop offset="0" stop-color="#f6f680"/><stop offset="0.7" stop-color="#e2e024"/><stop offset="1" stop-color="#b4b010"/></radialGradient></defs>
<line x1="235.5" y1="449.6" x2="232.75" y2="452.3" stroke="#a0a09a" stroke-width="1.35" />
<line x1="232.75" y1="452.3" x2="230" y2="455" stroke="#d81e1e" stroke-width="1.35" />
<line x1="235.5" y1="449.6" x2="230.8" y2="449.35" stroke="#a0a09a" stroke-width="1.35" />
<line x1="230.8" y1="449.35" x2="226.1" y2="449.1" stroke="#d81e1e" stroke-width="1.35" />
<line x1="235.5" y1="449.6" x2="239.3" y2="445.5" stroke="#a0a09a" stroke-width="1.35" />
<line x1="239.3" y1="445.5" x2="243.1" y2="441.4" stroke="#d81e1e" stroke-width="1.35" />
<line x1="236.7" y1="462" x2="235.25" y2="463.45" stroke="#a0a09a" stroke-width="1.35" />
<line x1="235.25" y1="463.45" x2="233.8" y2="464.9" stroke="#d81e1e" stroke-width="1.35" />
<line x1="236.7" y1="462" x2="238.15" y2="466.1" stroke="#a0a09a" stroke-width="1.35" />
<line x1="238.15" y1="466.1" x2="239.6" y2="470.2" stroke="#d81e1e" stroke-width="1.35" />
<line x1="236.7" y1="462" x2="233.35" y2="458.5" stroke="#a0a09a" stroke-width="1.35" />
<line x1="233.35" y1="458.5" x2="230" y2="455" stroke="#d81e1e" stroke-width="1.35" />
<line x1="233.2" y1="469" x2="233.5" y2="466.95" stroke="#a0a09a" stroke-width="1.35" />
<line x1="233.5" y1="466.95" x2="233.8" y2="464.9" stroke="#d81e1e" stroke-width="1.35" />
<line x1="233.2" y1="469" x2="236.4" y2="469.6" stroke="#a0a09a" stroke-width="1.35" />
<line x1="236.4" y1="469.6" x2="239.6" y2="470.2" stroke="#d81e1e" stroke-width="1.35" />
<line x1="233.2" y1="469" x2="236.6" y2="472.5" stroke="#a0a09a" stroke-width="1.35" />
<line x1="236.6" y1="472.5" x2="240" y2="476" stroke="#d81e1e" stroke-width="1.35" />
<line x1="233.2" y1="469" x2="227.9" y2="471.65" stroke="#a0a09a" stroke-width="1.35" />
<line x1="227.9" y1="471.65" x2="222.6" y2="474.3" stroke="#d81e1e" stroke-width="1.35" />
<line x1="246.6" y1="470.2" x2="247.8" y2="469.6" stroke="#a0a09a" stroke-width="1.35" />
<line x1="247.8" y1="469.6" x2="249" y2="469" stroke="#d81e1e" stroke-width="1.35" />
<line x1="246.6" y1="470.2" x2="243.1" y2="470.2" stroke="#a0a09a" stroke-width="1.35" />
<line x1="243.1" y1="470.2" x2="239.6" y2="470.2" stroke="#d81e1e" stroke-width="1.35" />
<line x1="246.6" y1="470.2" x2="243.3" y2="473.1" stroke="#a0a09a" stroke-width="1.35" />
<line x1="243.3" y1="473.1" x2="240" y2="476" stroke="#d81e1e" stroke-width="1.35" />
<line x1="246.6" y1="470.2" x2="249.3" y2="466.6" stroke="#a0a09a" stroke-width="1.35" />
<line x1="249.3" y1="466.6" x2="252" y2="463" stroke="#d81e1e" stroke-width="1.35" />
<line x1="256.6" y1="446.1" x2="259.25" y2="446.1" stroke="#a0a09a" stroke-width="1.35" />
<line x1="259.25" y1="446.1" x2="261.9" y2="446.1" stroke="#d81e1e" stroke-width="1.35" />
<line x1="259.5" y1="452.6" x2="260.7" y2="449.35" stroke="#a0a09a" stroke-width="1.35" />
<line x1="260.7" y1="449.35" x2="261.9" y2="446.1" stroke="#d81e1e" stroke-width="1.35" />
<line x1="259.5" y1="452.6" x2="263.75" y2="453.8" stroke="#a0a09a" stroke-width="1.35" />
<line x1="263.75" y1="453.8" x2="268" y2="455" stroke="#d81e1e" stroke-width="1.35" />
<line x1="259.5" y1="452.6" x2="262.45" y2="457.3" stroke="#a0a09a" stroke-width="1.35" />
<line x1="262.45" y1="457.3" x2="265.4" y2="462" stroke="#d81e1e" stroke-width="1.35" />
<line x1="259.5" y1="452.6" x2="255.75" y2="457.8" stroke="#a0a09a" stroke-width="1.35" />
<line x1="255.75" y1="457.8" x2="252" y2="463" stroke="#d81e1e" stroke-width="1.35" />
<line x1="258.4" y1="460.2" x2="255.2" y2="461.6" stroke="#a0a09a" stroke-width="1.35" />
<line x1="255.2" y1="461.6" x2="252" y2="463" stroke="#d81e1e" stroke-width="1.35" />
<line x1="258.4" y1="460.2" x2="261.9" y2="461.1" stroke="#a0a09a" stroke-width="1.35" />
<line x1="261.9" y1="461.1" x2="265.4" y2="462" stroke="#d81e1e" stroke-width="1.35" />
<line x1="258.4" y1="460.2" x2="263.2" y2="457.6" stroke="#a0a09a" stroke-width="1.35" />
<line x1="263.2" y1="457.6" x2="268" y2="455" stroke="#d81e1e" stroke-width="1.35" />
<line x1="258.4" y1="460.2" x2="259.55" y2="466.05" stroke="#a0a09a" stroke-width="1.35" />
<line x1="259.55" y1="466.05" x2="260.7" y2="471.9" stroke="#d81e1e" stroke-width="1.35" />
<line x1="250.2" y1="469" x2="249.6" y2="469" stroke="#a0a09a" stroke-width="1.35" />
<line x1="249.6" y1="469" x2="249" y2="469" stroke="#d81e1e" stroke-width="1.35" />
<line x1="250.2" y1="469" x2="251.1" y2="466" stroke="#a0a09a" stroke-width="1.35" />
<line x1="251.1" y1="466" x2="252" y2="463" stroke="#d81e1e" stroke-width="1.35" />
<line x1="250.2" y1="469" x2="244.9" y2="469.6" stroke="#a0a09a" stroke-width="1.35" />
<line x1="244.9" y1="469.6" x2="239.6" y2="470.2" stroke="#d81e1e" stroke-width="1.35" />
<line x1="250.2" y1="469" x2="255.45" y2="470.45" stroke="#a0a09a" stroke-width="1.35" />
<line x1="255.45" y1="470.45" x2="260.7" y2="471.9" stroke="#d81e1e" stroke-width="1.35" />
<line x1="276" y1="462" x2="275.1" y2="464.3" stroke="#a0a09a" stroke-width="1.35" />
<line x1="275.1" y1="464.3" x2="274.2" y2="466.6" stroke="#d81e1e" stroke-width="1.35" />
<line x1="276" y1="462" x2="279.5" y2="460" stroke="#a0a09a" stroke-width="1.35" />
<line x1="279.5" y1="460" x2="283" y2="458" stroke="#d81e1e" stroke-width="1.35" />
<line x1="276" y1="462" x2="270.7" y2="462" stroke="#a0a09a" stroke-width="1.35" />
<line x1="270.7" y1="462" x2="265.4" y2="462" stroke="#d81e1e" stroke-width="1.35" />
<line x1="276" y1="462" x2="272" y2="458.5" stroke="#a0a09a" stroke-width="1.35" />
<line x1="272" y1="458.5" x2="268" y2="455" stroke="#d81e1e" stroke-width="1.35" />
<line x1="281.8" y1="467.8" x2="285.15" y2="468.95" stroke="#a0a09a" stroke-width="1.35" />
<line x1="285.15" y1="468.95" x2="288.5" y2="470.1" stroke="#d81e1e" stroke-width="1.35" />
<line x1="281.8" y1="467.8" x2="285" y2="469.55" stroke="#a0a09a" stroke-width="1.35" />
<line x1="285" y1="469.55" x2="288.2" y2="471.3" stroke="#d81e1e" stroke-width="1.35" />
<line x1="281.8" y1="467.8" x2="278" y2="467.2" stroke="#a0a09a" stroke-width="1.35" />
<line x1="278" y1="467.2" x2="274.2" y2="466.6" stroke="#d81e1e" stroke-width="1.35" />
<line x1="281.8" y1="467.8" x2="282.4" y2="462.9" stroke="#a0a09a" stroke-width="1.35" />
<line x1="282.4" y1="462.9" x2="283" y2="458" stroke="#d81e1e" stroke-width="1.35" />
<line x1="280" y1="442" x2="283.25" y2="444.35" stroke="#a0a09a" stroke-width="1.35" />
<line x1="283.25" y1="444.35" x2="286.5" y2="446.7" stroke="#d81e1e" stroke-width="1.35" />
<line x1="280" y1="442" x2="283.7" y2="444.85" stroke="#a0a09a" stroke-width="1.35" />
<line x1="283.7" y1="444.85" x2="287.4" y2="447.7" stroke="#d81e1e" stroke-width="1.35" />
<line x1="274.8" y1="456.1" x2="271.4" y2="455.55" stroke="#a0a09a" stroke-width="1.35" />
<line x1="271.4" y1="455.55" x2="268" y2="455" stroke="#d81e1e" stroke-width="1.35" />
<line x1="274.8" y1="456.1" x2="278.9" y2="457.05" stroke="#a0a09a" stroke-width="1.35" />
<line x1="278.9" y1="457.05" x2="283" y2="458" stroke="#d81e1e" stroke-width="1.35" />
<line x1="274.8" y1="456.1" x2="274.5" y2="461.35" stroke="#a0a09a" stroke-width="1.35" />
<line x1="274.5" y1="461.35" x2="274.2" y2="466.6" stroke="#d81e1e" stroke-width="1.35" />
<line x1="274.8" y1="456.1" x2="270.1" y2="459.05" stroke="#a0a09a" stroke-width="1.35" />
<line x1="270.1" y1="459.05" x2="265.4" y2="462" stroke="#d81e1e" stroke-width="1.35" />
<line x1="307.4" y1="443" x2="306.8" y2="446.25" stroke="#a0a09a" stroke-width="1.35" />
<line x1="306.8" y1="446.25" x2="306.2" y2="449.5" stroke="#d81e1e" stroke-width="1.35" />
<line x1="307.4" y1="443" x2="310.05" y2="446.5" stroke="#a0a09a" stroke-width="1.35" />
<line x1="310.05" y1="446.5" x2="312.7" y2="450" stroke="#d81e1e" stroke-width="1.35" />
<line x1="296.8" y1="448.9" x2="301.5" y2="449.2" stroke="#a0a09a" stroke-width="1.35" />
<line x1="301.5" y1="449.2" x2="306.2" y2="449.5" stroke="#d81e1e" stroke-width="1.35" />
<line x1="296.8" y1="448.9" x2="292.1" y2="448.3" stroke="#a0a09a" stroke-width="1.35" />
<line x1="292.1" y1="448.3" x2="287.4" y2="447.7" stroke="#d81e1e" stroke-width="1.35" />
<line x1="296.8" y1="448.9" x2="291.65" y2="447.8" stroke="#a0a09a" stroke-width="1.35" />
<line x1="291.65" y1="447.8" x2="286.5" y2="446.7" stroke="#d81e1e" stroke-width="1.35" />
<line x1="296.8" y1="448.9" x2="301.5" y2="453" stroke="#a0a09a" stroke-width="1.35" />
<line x1="301.5" y1="453" x2="306.2" y2="457.1" stroke="#d81e1e" stroke-width="1.35" />
<line x1="291.5" y1="454.2" x2="289.45" y2="450.95" stroke="#a0a09a" stroke-width="1.35" />
<line x1="289.45" y1="450.95" x2="287.4" y2="447.7" stroke="#d81e1e" stroke-width="1.35" />
<line x1="291.5" y1="454.2" x2="289" y2="450.45" stroke="#a0a09a" stroke-width="1.35" />
<line x1="289" y1="450.45" x2="286.5" y2="446.7" stroke="#d81e1e" stroke-width="1.35" />
<line x1="291.5" y1="454.2" x2="287.25" y2="456.1" stroke="#a0a09a" stroke-width="1.35" />
<line x1="287.25" y1="456.1" x2="283" y2="458" stroke="#d81e1e" stroke-width="1.35" />
<line x1="298" y1="455.4" x2="302.1" y2="456.25" stroke="#a0a09a" stroke-width="1.35" />
<line x1="302.1" y1="456.25" x2="306.2" y2="457.1" stroke="#d81e1e" stroke-width="1.35" />
<line x1="298" y1="455.4" x2="302.1" y2="452.45" stroke="#a0a09a" stroke-width="1.35" />
<line x1="302.1" y1="452.45" x2="306.2" y2="449.5" stroke="#d81e1e" stroke-width="1.35" />
<line x1="298" y1="455.4" x2="296.5" y2="461.25" stroke="#a0a09a" stroke-width="1.35" />
<line x1="296.5" y1="461.25" x2="295" y2="467.1" stroke="#d81e1e" stroke-width="1.35" />
<line x1="299.2" y1="461.8" x2="297.1" y2="464.45" stroke="#a0a09a" stroke-width="1.35" />
<line x1="297.1" y1="464.45" x2="295" y2="467.1" stroke="#d81e1e" stroke-width="1.35" />
<line x1="299.2" y1="461.8" x2="302.7" y2="459.45" stroke="#a0a09a" stroke-width="1.35" />
<line x1="302.7" y1="459.45" x2="306.2" y2="457.1" stroke="#d81e1e" stroke-width="1.35" />
<line x1="302.7" y1="469.5" x2="298.85" y2="468.3" stroke="#a0a09a" stroke-width="1.35" />
<line x1="298.85" y1="468.3" x2="295" y2="467.1" stroke="#d81e1e" stroke-width="1.35" />
<line x1="302.7" y1="469.5" x2="305.35" y2="475.1" stroke="#a0a09a" stroke-width="1.35" />
<line x1="305.35" y1="475.1" x2="308" y2="480.7" stroke="#d81e1e" stroke-width="1.35" />
<line x1="302.7" y1="469.5" x2="304.45" y2="463.3" stroke="#a0a09a" stroke-width="1.35" />
<line x1="304.45" y1="463.3" x2="306.2" y2="457.1" stroke="#d81e1e" stroke-width="1.35" />
<line x1="298.6" y1="475.4" x2="296.8" y2="471.25" stroke="#a0a09a" stroke-width="1.35" />
<line x1="296.8" y1="471.25" x2="295" y2="467.1" stroke="#d81e1e" stroke-width="1.35" />
<line x1="298.6" y1="475.4" x2="303.3" y2="478.05" stroke="#a0a09a" stroke-width="1.35" />
<line x1="303.3" y1="478.05" x2="308" y2="480.7" stroke="#d81e1e" stroke-width="1.35" />
<line x1="298.6" y1="475.4" x2="293.4" y2="473.35" stroke="#a0a09a" stroke-width="1.35" />
<line x1="293.4" y1="473.35" x2="288.2" y2="471.3" stroke="#d81e1e" stroke-width="1.35" />
<line x1="298.6" y1="475.4" x2="293.55" y2="472.75" stroke="#a0a09a" stroke-width="1.35" />
<line x1="293.55" y1="472.75" x2="288.5" y2="470.1" stroke="#d81e1e" stroke-width="1.35" />
<line x1="309.8" y1="467.1" x2="312.9" y2="468.55" stroke="#a0a09a" stroke-width="1.35" />
<line x1="312.9" y1="468.55" x2="316" y2="470" stroke="#d81e1e" stroke-width="1.35" />
<line x1="309.8" y1="467.1" x2="314.5" y2="466.25" stroke="#a0a09a" stroke-width="1.35" />
<line x1="314.5" y1="466.25" x2="319.2" y2="465.4" stroke="#d81e1e" stroke-width="1.35" />
<line x1="309.8" y1="467.1" x2="308" y2="462.1" stroke="#a0a09a" stroke-width="1.35" />
<line x1="308" y1="462.1" x2="306.2" y2="457.1" stroke="#d81e1e" stroke-width="1.35" />
<line x1="313.3" y1="458.3" x2="309.75" y2="457.7" stroke="#a0a09a" stroke-width="1.35" />
<line x1="309.75" y1="457.7" x2="306.2" y2="457.1" stroke="#d81e1e" stroke-width="1.35" />
<line x1="313.3" y1="458.3" x2="313" y2="454.15" stroke="#a0a09a" stroke-width="1.35" />
<line x1="313" y1="454.15" x2="312.7" y2="450" stroke="#d81e1e" stroke-width="1.35" />
<line x1="313.3" y1="458.3" x2="316.25" y2="461.85" stroke="#a0a09a" stroke-width="1.35" />
<line x1="316.25" y1="461.85" x2="319.2" y2="465.4" stroke="#d81e1e" stroke-width="1.35" />
<line x1="313.3" y1="458.3" x2="318.6" y2="458" stroke="#a0a09a" stroke-width="1.35" />
<line x1="318.6" y1="458" x2="323.9" y2="457.7" stroke="#d81e1e" stroke-width="1.35" />
<line x1="321.6" y1="447.1" x2="324.8" y2="448.3" stroke="#a0a09a" stroke-width="1.35" />
<line x1="324.8" y1="448.3" x2="328" y2="449.5" stroke="#d81e1e" stroke-width="1.35" />
<line x1="321.6" y1="447.1" x2="324.25" y2="444.75" stroke="#a0a09a" stroke-width="1.35" />
<line x1="324.25" y1="444.75" x2="326.9" y2="442.4" stroke="#d81e1e" stroke-width="1.35" />
<line x1="321.6" y1="447.1" x2="317.15" y2="448.55" stroke="#a0a09a" stroke-width="1.35" />
<line x1="317.15" y1="448.55" x2="312.7" y2="450" stroke="#d81e1e" stroke-width="1.35" />
<line x1="321.6" y1="447.1" x2="322.75" y2="452.4" stroke="#a0a09a" stroke-width="1.35" />
<line x1="322.75" y1="452.4" x2="323.9" y2="457.7" stroke="#d81e1e" stroke-width="1.35" />
<line x1="320.4" y1="453" x2="322.15" y2="455.35" stroke="#a0a09a" stroke-width="1.35" />
<line x1="322.15" y1="455.35" x2="323.9" y2="457.7" stroke="#d81e1e" stroke-width="1.35" />
<line x1="320.4" y1="453" x2="316.55" y2="451.5" stroke="#a0a09a" stroke-width="1.35" />
<line x1="316.55" y1="451.5" x2="312.7" y2="450" stroke="#d81e1e" stroke-width="1.35" />
<line x1="320.4" y1="453" x2="324.2" y2="451.25" stroke="#a0a09a" stroke-width="1.35" />
<line x1="324.2" y1="451.25" x2="328" y2="449.5" stroke="#d81e1e" stroke-width="1.35" />
<line x1="320.4" y1="453" x2="323.65" y2="447.7" stroke="#a0a09a" stroke-width="1.35" />
<line x1="323.65" y1="447.7" x2="326.9" y2="442.4" stroke="#d81e1e" stroke-width="1.35" />
<line x1="339.2" y1="447.1" x2="336.6" y2="450.05" stroke="#a0a09a" stroke-width="1.35" />
<line x1="336.6" y1="450.05" x2="334" y2="453" stroke="#d81e1e" stroke-width="1.35" />
<line x1="339.2" y1="447.1" x2="343.1" y2="444.55" stroke="#a0a09a" stroke-width="1.35" />
<line x1="343.1" y1="444.55" x2="347" y2="442" stroke="#d81e1e" stroke-width="1.35" />
<line x1="339.2" y1="447.1" x2="333.6" y2="448.3" stroke="#a0a09a" stroke-width="1.35" />
<line x1="333.6" y1="448.3" x2="328" y2="449.5" stroke="#d81e1e" stroke-width="1.35" />
<line x1="349.9" y1="454.2" x2="347.8" y2="458" stroke="#a0a09a" stroke-width="1.35" />
<line x1="347.8" y1="458" x2="345.7" y2="461.8" stroke="#d81e1e" stroke-width="1.35" />
<line x1="349.9" y1="454.2" x2="351.35" y2="449.2" stroke="#a0a09a" stroke-width="1.35" />
<line x1="351.35" y1="449.2" x2="352.8" y2="444.2" stroke="#d81e1e" stroke-width="1.35" />
<line x1="349.9" y1="454.2" x2="355.4" y2="454.05" stroke="#a0a09a" stroke-width="1.35" />
<line x1="355.4" y1="454.05" x2="360.9" y2="453.9" stroke="#d81e1e" stroke-width="1.35" />
<line x1="349.9" y1="454.2" x2="348.45" y2="448.1" stroke="#a0a09a" stroke-width="1.35" />
<line x1="348.45" y1="448.1" x2="347" y2="442" stroke="#d81e1e" stroke-width="1.35" />
<line x1="334.5" y1="467.7" x2="336.85" y2="465.35" stroke="#a0a09a" stroke-width="1.35" />
<line x1="336.85" y1="465.35" x2="339.2" y2="463" stroke="#d81e1e" stroke-width="1.35" />
<line x1="334.5" y1="467.7" x2="330.1" y2="466.85" stroke="#a0a09a" stroke-width="1.35" />
<line x1="330.1" y1="466.85" x2="325.7" y2="466" stroke="#d81e1e" stroke-width="1.35" />
<line x1="334.5" y1="467.7" x2="332.25" y2="472.85" stroke="#a0a09a" stroke-width="1.35" />
<line x1="332.25" y1="472.85" x2="330" y2="478" stroke="#d81e1e" stroke-width="1.35" />
<line x1="334.5" y1="467.7" x2="340.1" y2="464.75" stroke="#a0a09a" stroke-width="1.35" />
<line x1="340.1" y1="464.75" x2="345.7" y2="461.8" stroke="#d81e1e" stroke-width="1.35" />
<line x1="333.3" y1="473" x2="331.65" y2="475.5" stroke="#a0a09a" stroke-width="1.35" />
<line x1="331.65" y1="475.5" x2="330" y2="478" stroke="#d81e1e" stroke-width="1.35" />
<line x1="333.3" y1="473" x2="329.5" y2="469.5" stroke="#a0a09a" stroke-width="1.35" />
<line x1="329.5" y1="469.5" x2="325.7" y2="466" stroke="#d81e1e" stroke-width="1.35" />
<line x1="333.3" y1="473" x2="335.1" y2="478" stroke="#a0a09a" stroke-width="1.35" />
<line x1="335.1" y1="478" x2="336.9" y2="483" stroke="#d81e1e" stroke-width="1.35" />
<line x1="333.3" y1="473" x2="327.7" y2="473.9" stroke="#a0a09a" stroke-width="1.35" />
<line x1="327.7" y1="473.9" x2="322.1" y2="474.8" stroke="#d81e1e" stroke-width="1.35" />
<line x1="342.8" y1="475.4" x2="346.05" y2="472.15" stroke="#a0a09a" stroke-width="1.35" />
<line x1="346.05" y1="472.15" x2="349.3" y2="468.9" stroke="#d81e1e" stroke-width="1.35" />
<line x1="342.8" y1="475.4" x2="339.85" y2="479.2" stroke="#a0a09a" stroke-width="1.35" />
<line x1="339.85" y1="479.2" x2="336.9" y2="483" stroke="#d81e1e" stroke-width="1.35" />
<line x1="342.8" y1="475.4" x2="348.4" y2="473.7" stroke="#a0a09a" stroke-width="1.35" />
<line x1="348.4" y1="473.7" x2="354" y2="472" stroke="#d81e1e" stroke-width="1.35" />
<line x1="342.8" y1="475.4" x2="341" y2="469.2" stroke="#a0a09a" stroke-width="1.35" />
<line x1="341" y1="469.2" x2="339.2" y2="463" stroke="#d81e1e" stroke-width="1.35" />
<line x1="336.9" y1="485.4" x2="336.9" y2="484.2" stroke="#a0a09a" stroke-width="1.35" />
<line x1="336.9" y1="484.2" x2="336.9" y2="483" stroke="#d81e1e" stroke-width="1.35" />
<line x1="336.9" y1="485.4" x2="333.45" y2="481.7" stroke="#a0a09a" stroke-width="1.35" />
<line x1="333.45" y1="481.7" x2="330" y2="478" stroke="#d81e1e" stroke-width="1.35" />
<line x1="356.9" y1="435.9" x2="354.85" y2="440.05" stroke="#a0a09a" stroke-width="1.35" />
<line x1="354.85" y1="440.05" x2="352.8" y2="444.2" stroke="#d81e1e" stroke-width="1.35" />
<line x1="356.9" y1="435.9" x2="361.85" y2="437.85" stroke="#a0a09a" stroke-width="1.35" />
<line x1="361.85" y1="437.85" x2="366.8" y2="439.8" stroke="#d81e1e" stroke-width="1.35" />
<line x1="356.9" y1="435.9" x2="351.95" y2="438.95" stroke="#a0a09a" stroke-width="1.35" />
<line x1="351.95" y1="438.95" x2="347" y2="442" stroke="#d81e1e" stroke-width="1.35" />
<line x1="356.9" y1="435.9" x2="362.75" y2="435.5" stroke="#a0a09a" stroke-width="1.35" />
<line x1="362.75" y1="435.5" x2="368.6" y2="435.1" stroke="#d81e1e" stroke-width="1.35" />
<line x1="354.6" y1="445.3" x2="353.7" y2="444.75" stroke="#a0a09a" stroke-width="1.35" />
<line x1="353.7" y1="444.75" x2="352.8" y2="444.2" stroke="#d81e1e" stroke-width="1.35" />
<line x1="354.6" y1="445.3" x2="350.8" y2="443.65" stroke="#a0a09a" stroke-width="1.35" />
<line x1="350.8" y1="443.65" x2="347" y2="442" stroke="#d81e1e" stroke-width="1.35" />
<line x1="354.6" y1="445.3" x2="357.75" y2="449.6" stroke="#a0a09a" stroke-width="1.35" />
<line x1="357.75" y1="449.6" x2="360.9" y2="453.9" stroke="#d81e1e" stroke-width="1.35" />
<line x1="351.6" y1="463.6" x2="350.45" y2="466.25" stroke="#a0a09a" stroke-width="1.35" />
<line x1="350.45" y1="466.25" x2="349.3" y2="468.9" stroke="#d81e1e" stroke-width="1.35" />
<line x1="351.6" y1="463.6" x2="348.65" y2="462.7" stroke="#a0a09a" stroke-width="1.35" />
<line x1="348.65" y1="462.7" x2="345.7" y2="461.8" stroke="#d81e1e" stroke-width="1.35" />
<line x1="351.6" y1="463.6" x2="352.8" y2="467.8" stroke="#a0a09a" stroke-width="1.35" />
<line x1="352.8" y1="467.8" x2="354" y2="472" stroke="#d81e1e" stroke-width="1.35" />
<line x1="351.6" y1="463.6" x2="345.4" y2="463.3" stroke="#a0a09a" stroke-width="1.35" />
<line x1="345.4" y1="463.3" x2="339.2" y2="463" stroke="#d81e1e" stroke-width="1.35" />
<line x1="357.9" y1="436.2" x2="355.35" y2="440.2" stroke="#a0a09a" stroke-width="1.35" />
<line x1="355.35" y1="440.2" x2="352.8" y2="444.2" stroke="#d81e1e" stroke-width="1.35" />
<line x1="357.9" y1="436.2" x2="362.35" y2="438" stroke="#a0a09a" stroke-width="1.35" />
<line x1="362.35" y1="438" x2="366.8" y2="439.8" stroke="#d81e1e" stroke-width="1.35" />
<line x1="357.9" y1="436.2" x2="363.25" y2="435.65" stroke="#a0a09a" stroke-width="1.35" />
<line x1="363.25" y1="435.65" x2="368.6" y2="435.1" stroke="#d81e1e" stroke-width="1.35" />
<line x1="357.9" y1="436.2" x2="352.45" y2="439.1" stroke="#a0a09a" stroke-width="1.35" />
<line x1="352.45" y1="439.1" x2="347" y2="442" stroke="#d81e1e" stroke-width="1.35" />
<line x1="366.2" y1="444.5" x2="366.5" y2="442.15" stroke="#a0a09a" stroke-width="1.35" />
<line x1="366.5" y1="442.15" x2="366.8" y2="439.8" stroke="#d81e1e" stroke-width="1.35" />
<line x1="366.2" y1="444.5" x2="368.85" y2="446.55" stroke="#a0a09a" stroke-width="1.35" />
<line x1="368.85" y1="446.55" x2="371.5" y2="448.6" stroke="#d81e1e" stroke-width="1.35" />
<line x1="366.2" y1="444.5" x2="367.4" y2="439.8" stroke="#a0a09a" stroke-width="1.35" />
<line x1="367.4" y1="439.8" x2="368.6" y2="435.1" stroke="#d81e1e" stroke-width="1.35" />
<line x1="366.2" y1="444.5" x2="363.55" y2="449.2" stroke="#a0a09a" stroke-width="1.35" />
<line x1="363.55" y1="449.2" x2="360.9" y2="453.9" stroke="#d81e1e" stroke-width="1.35" />
<line x1="376.2" y1="442.1" x2="377.1" y2="440.65" stroke="#a0a09a" stroke-width="1.35" />
<line x1="377.1" y1="440.65" x2="378" y2="439.2" stroke="#d81e1e" stroke-width="1.35" />
<line x1="376.2" y1="442.1" x2="379.15" y2="443.3" stroke="#a0a09a" stroke-width="1.35" />
<line x1="379.15" y1="443.3" x2="382.1" y2="444.5" stroke="#d81e1e" stroke-width="1.35" />
<line x1="376.2" y1="442.1" x2="373.85" y2="445.35" stroke="#a0a09a" stroke-width="1.35" />
<line x1="373.85" y1="445.35" x2="371.5" y2="448.6" stroke="#d81e1e" stroke-width="1.35" />
<line x1="376.2" y1="442.1" x2="371.5" y2="440.95" stroke="#a0a09a" stroke-width="1.35" />
<line x1="371.5" y1="440.95" x2="366.8" y2="439.8" stroke="#d81e1e" stroke-width="1.35" />
<line x1="360.3" y1="455.1" x2="360.6" y2="454.5" stroke="#a0a09a" stroke-width="1.35" />
<line x1="360.6" y1="454.5" x2="360.9" y2="453.9" stroke="#d81e1e" stroke-width="1.35" />
<line x1="360.3" y1="455.1" x2="365.9" y2="451.85" stroke="#a0a09a" stroke-width="1.35" />
<line x1="365.9" y1="451.85" x2="371.5" y2="448.6" stroke="#d81e1e" stroke-width="1.35" />
<line x1="374.4" y1="455.1" x2="373.55" y2="457.45" stroke="#a0a09a" stroke-width="1.35" />
<line x1="373.55" y1="457.45" x2="372.7" y2="459.8" stroke="#d81e1e" stroke-width="1.35" />
<line x1="374.4" y1="455.1" x2="377.2" y2="456.55" stroke="#a0a09a" stroke-width="1.35" />
<line x1="377.2" y1="456.55" x2="380" y2="458" stroke="#d81e1e" stroke-width="1.35" />
<line x1="374.4" y1="455.1" x2="372.95" y2="451.85" stroke="#a0a09a" stroke-width="1.35" />
<line x1="372.95" y1="451.85" x2="371.5" y2="448.6" stroke="#d81e1e" stroke-width="1.35" />
<line x1="374.4" y1="455.1" x2="378.55" y2="454.2" stroke="#a0a09a" stroke-width="1.35" />
<line x1="378.55" y1="454.2" x2="382.7" y2="453.3" stroke="#d81e1e" stroke-width="1.35" />
<line x1="362.7" y1="464" x2="361.8" y2="458.95" stroke="#a0a09a" stroke-width="1.35" />
<line x1="361.8" y1="458.95" x2="360.9" y2="453.9" stroke="#d81e1e" stroke-width="1.35" />
<line x1="362.7" y1="464" x2="367.7" y2="461.9" stroke="#a0a09a" stroke-width="1.35" />
<line x1="367.7" y1="461.9" x2="372.7" y2="459.8" stroke="#d81e1e" stroke-width="1.35" />
<line x1="362.7" y1="464" x2="358.35" y2="468" stroke="#a0a09a" stroke-width="1.35" />
<line x1="358.35" y1="468" x2="354" y2="472" stroke="#d81e1e" stroke-width="1.35" />
<line x1="362.7" y1="464" x2="367.7" y2="468.1" stroke="#a0a09a" stroke-width="1.35" />
<line x1="367.7" y1="468.1" x2="372.7" y2="472.2" stroke="#d81e1e" stroke-width="1.35" />
<line x1="376.8" y1="465.7" x2="374.75" y2="462.75" stroke="#a0a09a" stroke-width="1.35" />
<line x1="374.75" y1="462.75" x2="372.7" y2="459.8" stroke="#d81e1e" stroke-width="1.35" />
<line x1="376.8" y1="465.7" x2="374.75" y2="468.95" stroke="#a0a09a" stroke-width="1.35" />
<line x1="374.75" y1="468.95" x2="372.7" y2="472.2" stroke="#d81e1e" stroke-width="1.35" />
<line x1="376.8" y1="465.7" x2="378.4" y2="461.85" stroke="#a0a09a" stroke-width="1.35" />
<line x1="378.4" y1="461.85" x2="380" y2="458" stroke="#d81e1e" stroke-width="1.35" />
<line x1="363.8" y1="473.4" x2="360.9" y2="475.7" stroke="#a0a09a" stroke-width="1.35" />
<line x1="360.9" y1="475.7" x2="358" y2="478" stroke="#d81e1e" stroke-width="1.35" />
<line x1="363.8" y1="473.4" x2="368.25" y2="472.8" stroke="#a0a09a" stroke-width="1.35" />
<line x1="368.25" y1="472.8" x2="372.7" y2="472.2" stroke="#d81e1e" stroke-width="1.35" />
<line x1="363.8" y1="473.4" x2="358.9" y2="472.7" stroke="#a0a09a" stroke-width="1.35" />
<line x1="358.9" y1="472.7" x2="354" y2="472" stroke="#d81e1e" stroke-width="1.35" />
<line x1="386.2" y1="472.2" x2="389.45" y2="470.15" stroke="#a0a09a" stroke-width="1.35" />
<line x1="389.45" y1="470.15" x2="392.7" y2="468.1" stroke="#d81e1e" stroke-width="1.35" />
<line x1="386.2" y1="472.2" x2="388.85" y2="466.9" stroke="#a0a09a" stroke-width="1.35" />
<line x1="388.85" y1="466.9" x2="391.5" y2="461.6" stroke="#d81e1e" stroke-width="1.35" />
<line x1="389.8" y1="458" x2="390.65" y2="459.8" stroke="#a0a09a" stroke-width="1.35" />
<line x1="390.65" y1="459.8" x2="391.5" y2="461.6" stroke="#d81e1e" stroke-width="1.35" />
<line x1="389.8" y1="458" x2="388.3" y2="454.2" stroke="#a0a09a" stroke-width="1.35" />
<line x1="388.3" y1="454.2" x2="386.8" y2="450.4" stroke="#d81e1e" stroke-width="1.35" />
<line x1="389.8" y1="458" x2="386.25" y2="455.65" stroke="#a0a09a" stroke-width="1.35" />
<line x1="386.25" y1="455.65" x2="382.7" y2="453.3" stroke="#d81e1e" stroke-width="1.35" />
<line x1="389.8" y1="458" x2="384.9" y2="458" stroke="#a0a09a" stroke-width="1.35" />
<line x1="384.9" y1="458" x2="380" y2="458" stroke="#d81e1e" stroke-width="1.35" />
<line x1="401" y1="448.6" x2="403" y2="451.8" stroke="#a0a09a" stroke-width="1.35" />
<line x1="403" y1="451.8" x2="405" y2="455" stroke="#d81e1e" stroke-width="1.35" />
<line x1="401" y1="448.6" x2="398" y2="445.8" stroke="#a0a09a" stroke-width="1.35" />
<line x1="398" y1="445.8" x2="395" y2="443" stroke="#d81e1e" stroke-width="1.35" />
<line x1="401" y1="448.6" x2="406.85" y2="449.2" stroke="#a0a09a" stroke-width="1.35" />
<line x1="406.85" y1="449.2" x2="412.7" y2="449.8" stroke="#d81e1e" stroke-width="1.35" />
<line x1="400.4" y1="462.8" x2="395.95" y2="462.2" stroke="#a0a09a" stroke-width="1.35" />
<line x1="395.95" y1="462.2" x2="391.5" y2="461.6" stroke="#d81e1e" stroke-width="1.35" />
<line x1="400.4" y1="462.8" x2="402.7" y2="458.9" stroke="#a0a09a" stroke-width="1.35" />
<line x1="402.7" y1="458.9" x2="405" y2="455" stroke="#d81e1e" stroke-width="1.35" />
<line x1="400.4" y1="462.8" x2="396.55" y2="465.45" stroke="#a0a09a" stroke-width="1.35" />
<line x1="396.55" y1="465.45" x2="392.7" y2="468.1" stroke="#d81e1e" stroke-width="1.35" />
<line x1="400.4" y1="462.8" x2="405.7" y2="463.95" stroke="#a0a09a" stroke-width="1.35" />
<line x1="405.7" y1="463.95" x2="411" y2="465.1" stroke="#d81e1e" stroke-width="1.35" />
<line x1="405.1" y1="468.1" x2="408.05" y2="466.6" stroke="#a0a09a" stroke-width="1.35" />
<line x1="408.05" y1="466.6" x2="411" y2="465.1" stroke="#d81e1e" stroke-width="1.35" />
<line x1="405.1" y1="468.1" x2="402.45" y2="471.05" stroke="#a0a09a" stroke-width="1.35" />
<line x1="402.45" y1="471.05" x2="399.8" y2="474" stroke="#d81e1e" stroke-width="1.35" />
<line x1="405.1" y1="468.1" x2="409.5" y2="468.95" stroke="#a0a09a" stroke-width="1.35" />
<line x1="409.5" y1="468.95" x2="413.9" y2="469.8" stroke="#d81e1e" stroke-width="1.35" />
<line x1="405.1" y1="468.1" x2="410.4" y2="466.6" stroke="#a0a09a" stroke-width="1.35" />
<line x1="410.4" y1="466.6" x2="415.7" y2="465.1" stroke="#d81e1e" stroke-width="1.35" />
<line x1="387.4" y1="446.9" x2="387.1" y2="448.65" stroke="#a0a09a" stroke-width="1.35" />
<line x1="387.1" y1="448.65" x2="386.8" y2="450.4" stroke="#d81e1e" stroke-width="1.35" />
<line x1="387.4" y1="446.9" x2="384.75" y2="445.7" stroke="#a0a09a" stroke-width="1.35" />
<line x1="384.75" y1="445.7" x2="382.1" y2="444.5" stroke="#d81e1e" stroke-width="1.35" />
<line x1="387.4" y1="446.9" x2="385.05" y2="450.1" stroke="#a0a09a" stroke-width="1.35" />
<line x1="385.05" y1="450.1" x2="382.7" y2="453.3" stroke="#d81e1e" stroke-width="1.35" />
<line x1="387.4" y1="446.9" x2="391.2" y2="444.95" stroke="#a0a09a" stroke-width="1.35" />
<line x1="391.2" y1="444.95" x2="395" y2="443" stroke="#d81e1e" stroke-width="1.35" />
<line x1="318" y1="476" x2="320.05" y2="475.4" stroke="#a0a09a" stroke-width="1.35" />
<line x1="320.05" y1="475.4" x2="322.1" y2="474.8" stroke="#d81e1e" stroke-width="1.35" />
<line x1="318" y1="476" x2="317" y2="473" stroke="#a0a09a" stroke-width="1.35" />
<line x1="317" y1="473" x2="316" y2="470" stroke="#d81e1e" stroke-width="1.35" />
<line x1="318" y1="476" x2="318.6" y2="470.7" stroke="#a0a09a" stroke-width="1.35" />
<line x1="318.6" y1="470.7" x2="319.2" y2="465.4" stroke="#d81e1e" stroke-width="1.35" />
<line x1="318" y1="476" x2="313" y2="478.35" stroke="#a0a09a" stroke-width="1.35" />
<line x1="313" y1="478.35" x2="308" y2="480.7" stroke="#d81e1e" stroke-width="1.35" />
<line x1="326" y1="462" x2="325.85" y2="464" stroke="#a0a09a" stroke-width="1.35" />
<line x1="325.85" y1="464" x2="325.7" y2="466" stroke="#d81e1e" stroke-width="1.35" />
<line x1="326" y1="462" x2="324.95" y2="459.85" stroke="#a0a09a" stroke-width="1.35" />
<line x1="324.95" y1="459.85" x2="323.9" y2="457.7" stroke="#d81e1e" stroke-width="1.35" />
<line x1="326" y1="462" x2="322.6" y2="463.7" stroke="#a0a09a" stroke-width="1.35" />
<line x1="322.6" y1="463.7" x2="319.2" y2="465.4" stroke="#d81e1e" stroke-width="1.35" />
<line x1="326" y1="462" x2="330" y2="457.5" stroke="#a0a09a" stroke-width="1.35" />
<line x1="330" y1="457.5" x2="334" y2="453" stroke="#d81e1e" stroke-width="1.35" />
<line x1="345" y1="458" x2="345.35" y2="459.9" stroke="#a0a09a" stroke-width="1.35" />
<line x1="345.35" y1="459.9" x2="345.7" y2="461.8" stroke="#d81e1e" stroke-width="1.35" />
<line x1="345" y1="458" x2="342.1" y2="460.5" stroke="#a0a09a" stroke-width="1.35" />
<line x1="342.1" y1="460.5" x2="339.2" y2="463" stroke="#d81e1e" stroke-width="1.35" />
<line x1="345" y1="458" x2="347.15" y2="463.45" stroke="#a0a09a" stroke-width="1.35" />
<line x1="347.15" y1="463.45" x2="349.3" y2="468.9" stroke="#d81e1e" stroke-width="1.35" />
<line x1="345" y1="458" x2="339.5" y2="455.5" stroke="#a0a09a" stroke-width="1.35" />
<line x1="339.5" y1="455.5" x2="334" y2="453" stroke="#d81e1e" stroke-width="1.35" />
<line x1="380" y1="476" x2="376.35" y2="474.1" stroke="#a0a09a" stroke-width="1.35" />
<line x1="376.35" y1="474.1" x2="372.7" y2="472.2" stroke="#d81e1e" stroke-width="1.35" />
<line x1="395" y1="468" x2="393.85" y2="468.05" stroke="#a0a09a" stroke-width="1.35" />
<line x1="393.85" y1="468.05" x2="392.7" y2="468.1" stroke="#d81e1e" stroke-width="1.35" />
<line x1="395" y1="468" x2="393.25" y2="464.8" stroke="#a0a09a" stroke-width="1.35" />
<line x1="393.25" y1="464.8" x2="391.5" y2="461.6" stroke="#d81e1e" stroke-width="1.35" />
<line x1="395" y1="468" x2="397.4" y2="471" stroke="#a0a09a" stroke-width="1.35" />
<line x1="397.4" y1="471" x2="399.8" y2="474" stroke="#d81e1e" stroke-width="1.35" />
<line x1="235.5" y1="449.6" x2="229.65" y2="446.7" stroke="#a0a09a" stroke-width="1.35" />
<line x1="229.65" y1="446.7" x2="223.8" y2="443.8" stroke="#d81e1e" stroke-width="1.35" />
<line x1="223.8" y1="443.8" x2="224.95" y2="446.45" stroke="#d81e1e" stroke-width="1.2" />
<line x1="224.95" y1="446.45" x2="226.1" y2="449.1" stroke="#d81e1e" stroke-width="1.2" />
<line x1="235.5" y1="449.6" x2="228.2" y2="450.2" stroke="#a0a09a" stroke-width="1.35" />
<line x1="228.2" y1="450.2" x2="220.9" y2="450.8" stroke="#d81e1e" stroke-width="1.35" />
<line x1="220.9" y1="450.8" x2="223.5" y2="449.95" stroke="#d81e1e" stroke-width="1.2" />
<line x1="223.5" y1="449.95" x2="226.1" y2="449.1" stroke="#d81e1e" stroke-width="1.2" />
<line x1="233.2" y1="469" x2="227.6" y2="466.65" stroke="#a0a09a" stroke-width="1.35" />
<line x1="227.6" y1="466.65" x2="222" y2="464.3" stroke="#d81e1e" stroke-width="1.35" />
<line x1="236.7" y1="462" x2="229.35" y2="463.15" stroke="#a0a09a" stroke-width="1.35" />
<line x1="229.35" y1="463.15" x2="222" y2="464.3" stroke="#d81e1e" stroke-width="1.35" />
<line x1="239.6" y1="470.2" x2="239.8" y2="473.1" stroke="#d81e1e" stroke-width="1.2" />
<line x1="239.8" y1="473.1" x2="240" y2="476" stroke="#d81e1e" stroke-width="1.2" />
<line x1="249" y1="469" x2="250.5" y2="466" stroke="#d81e1e" stroke-width="1.2" />
<line x1="250.5" y1="466" x2="252" y2="463" stroke="#d81e1e" stroke-width="1.2" />
<line x1="265.4" y1="462" x2="266.7" y2="458.5" stroke="#d81e1e" stroke-width="1.2" />
<line x1="266.7" y1="458.5" x2="268" y2="455" stroke="#d81e1e" stroke-width="1.2" />
<line x1="286.5" y1="446.7" x2="286.95" y2="447.2" stroke="#d81e1e" stroke-width="1.2" />
<line x1="286.95" y1="447.2" x2="287.4" y2="447.7" stroke="#d81e1e" stroke-width="1.2" />
<line x1="288.2" y1="471.3" x2="288.35" y2="470.7" stroke="#d81e1e" stroke-width="1.2" />
<line x1="288.35" y1="470.7" x2="288.5" y2="470.1" stroke="#d81e1e" stroke-width="1.2" />
<line x1="256.6" y1="446.1" x2="249.85" y2="443.75" stroke="#a0a09a" stroke-width="1.35" />
<line x1="249.85" y1="443.75" x2="243.1" y2="441.4" stroke="#d81e1e" stroke-width="1.35" />
<line x1="306.2" y1="449.5" x2="309.45" y2="449.75" stroke="#d81e1e" stroke-width="1.2" />
<line x1="309.45" y1="449.75" x2="312.7" y2="450" stroke="#d81e1e" stroke-width="1.2" />
<line x1="326.9" y1="442.4" x2="327.45" y2="445.95" stroke="#d81e1e" stroke-width="1.2" />
<line x1="327.45" y1="445.95" x2="328" y2="449.5" stroke="#d81e1e" stroke-width="1.2" />
<line x1="328" y1="449.5" x2="331" y2="451.25" stroke="#d81e1e" stroke-width="1.2" />
<line x1="331" y1="451.25" x2="334" y2="453" stroke="#d81e1e" stroke-width="1.2" />
<line x1="319.2" y1="465.4" x2="317.6" y2="467.7" stroke="#d81e1e" stroke-width="1.2" />
<line x1="317.6" y1="467.7" x2="316" y2="470" stroke="#d81e1e" stroke-width="1.2" />
<line x1="325.7" y1="466" x2="322.45" y2="465.7" stroke="#d81e1e" stroke-width="1.2" />
<line x1="322.45" y1="465.7" x2="319.2" y2="465.4" stroke="#d81e1e" stroke-width="1.2" />
<line x1="339.2" y1="463" x2="342.45" y2="462.4" stroke="#d81e1e" stroke-width="1.2" />
<line x1="342.45" y1="462.4" x2="345.7" y2="461.8" stroke="#d81e1e" stroke-width="1.2" />
<line x1="349.3" y1="468.9" x2="351.65" y2="470.45" stroke="#d81e1e" stroke-width="1.2" />
<line x1="351.65" y1="470.45" x2="354" y2="472" stroke="#d81e1e" stroke-width="1.2" />
<line x1="352.8" y1="444.2" x2="349.9" y2="443.1" stroke="#d81e1e" stroke-width="1.2" />
<line x1="349.9" y1="443.1" x2="347" y2="442" stroke="#d81e1e" stroke-width="1.2" />
<line x1="295" y1="467.1" x2="291.75" y2="468.6" stroke="#d81e1e" stroke-width="1.2" />
<line x1="291.75" y1="468.6" x2="288.5" y2="470.1" stroke="#d81e1e" stroke-width="1.2" />
<line x1="306.2" y1="457.1" x2="306.2" y2="453.3" stroke="#d81e1e" stroke-width="1.2" />
<line x1="306.2" y1="453.3" x2="306.2" y2="449.5" stroke="#d81e1e" stroke-width="1.2" />
<line x1="376.2" y1="442.1" x2="372.4" y2="438.6" stroke="#a0a09a" stroke-width="1.35" />
<line x1="372.4" y1="438.6" x2="368.6" y2="435.1" stroke="#d81e1e" stroke-width="1.35" />
<line x1="368.6" y1="435.1" x2="367.7" y2="437.45" stroke="#d81e1e" stroke-width="1.2" />
<line x1="367.7" y1="437.45" x2="366.8" y2="439.8" stroke="#d81e1e" stroke-width="1.2" />
<line x1="387.4" y1="446.9" x2="382.7" y2="443.05" stroke="#a0a09a" stroke-width="1.35" />
<line x1="382.7" y1="443.05" x2="378" y2="439.2" stroke="#d81e1e" stroke-width="1.35" />
<line x1="378" y1="439.2" x2="380.05" y2="441.85" stroke="#d81e1e" stroke-width="1.2" />
<line x1="380.05" y1="441.85" x2="382.1" y2="444.5" stroke="#d81e1e" stroke-width="1.2" />
<line x1="386.8" y1="450.4" x2="384.75" y2="451.85" stroke="#d81e1e" stroke-width="1.2" />
<line x1="384.75" y1="451.85" x2="382.7" y2="453.3" stroke="#d81e1e" stroke-width="1.2" />
<line x1="372.7" y1="459.8" x2="376.35" y2="458.9" stroke="#d81e1e" stroke-width="1.2" />
<line x1="376.35" y1="458.9" x2="380" y2="458" stroke="#d81e1e" stroke-width="1.2" />
<line x1="391.5" y1="461.6" x2="392.1" y2="464.85" stroke="#d81e1e" stroke-width="1.2" />
<line x1="392.1" y1="464.85" x2="392.7" y2="468.1" stroke="#d81e1e" stroke-width="1.2" />
<line x1="401" y1="448.6" x2="407.15" y2="446.25" stroke="#a0a09a" stroke-width="1.35" />
<line x1="407.15" y1="446.25" x2="413.3" y2="443.9" stroke="#d81e1e" stroke-width="1.35" />
<line x1="413.3" y1="443.9" x2="414.5" y2="445.4" stroke="#d81e1e" stroke-width="1.2" />
<line x1="414.5" y1="445.4" x2="415.7" y2="446.9" stroke="#d81e1e" stroke-width="1.2" />
<line x1="401" y1="448.6" x2="408.35" y2="447.75" stroke="#a0a09a" stroke-width="1.35" />
<line x1="408.35" y1="447.75" x2="415.7" y2="446.9" stroke="#d81e1e" stroke-width="1.35" />
<line x1="412.7" y1="449.8" x2="414.2" y2="448.35" stroke="#d81e1e" stroke-width="1.2" />
<line x1="414.2" y1="448.35" x2="415.7" y2="446.9" stroke="#d81e1e" stroke-width="1.2" />
<line x1="411" y1="465.1" x2="413.35" y2="465.1" stroke="#d81e1e" stroke-width="1.2" />
<line x1="413.35" y1="465.1" x2="415.7" y2="465.1" stroke="#d81e1e" stroke-width="1.2" />
<line x1="400.4" y1="462.8" x2="408.05" y2="463.95" stroke="#a0a09a" stroke-width="1.35" />
<line x1="408.05" y1="463.95" x2="415.7" y2="465.1" stroke="#d81e1e" stroke-width="1.35" />
<line x1="400.4" y1="462.8" x2="407.15" y2="466.3" stroke="#a0a09a" stroke-width="1.35" />
<line x1="407.15" y1="466.3" x2="413.9" y2="469.8" stroke="#d81e1e" stroke-width="1.35" />
<line x1="413.9" y1="469.8" x2="415.95" y2="470.1" stroke="#d81e1e" stroke-width="1.2" />
<line x1="415.95" y1="470.1" x2="418" y2="470.4" stroke="#d81e1e" stroke-width="1.2" />
<line x1="405.1" y1="468.1" x2="411.55" y2="469.25" stroke="#a0a09a" stroke-width="1.35" />
<line x1="411.55" y1="469.25" x2="418" y2="470.4" stroke="#d81e1e" stroke-width="1.35" />
<line x1="230" y1="455" x2="228.05" y2="452.05" stroke="#d81e1e" stroke-width="1.2" />
<line x1="228.05" y1="452.05" x2="226.1" y2="449.1" stroke="#d81e1e" stroke-width="1.2" />
<line x1="380" y1="458" x2="381.35" y2="455.65" stroke="#d81e1e" stroke-width="1.2" />
<line x1="381.35" y1="455.65" x2="382.7" y2="453.3" stroke="#d81e1e" stroke-width="1.2" />
<line x1="281.8" y1="467.8" x2="275.9" y2="471.9" stroke="#a0a09a" stroke-width="1.35" />
<line x1="275.9" y1="471.9" x2="270" y2="476" stroke="#d81e1e" stroke-width="1.35" />
<line x1="276" y1="462" x2="273" y2="469" stroke="#a0a09a" stroke-width="1.35" />
<line x1="273" y1="469" x2="270" y2="476" stroke="#d81e1e" stroke-width="1.35" />
<line x1="362.7" y1="464" x2="360.35" y2="471" stroke="#a0a09a" stroke-width="1.35" />
<line x1="360.35" y1="471" x2="358" y2="478" stroke="#d81e1e" stroke-width="1.35" />
<line x1="358" y1="478" x2="356" y2="475" stroke="#d81e1e" stroke-width="1.2" />
<line x1="356" y1="475" x2="354" y2="472" stroke="#d81e1e" stroke-width="1.2" />
<circle cx="240" cy="470" r="1" fill="#e8c020" stroke="none" stroke-width="0" />
<circle cx="266" cy="466" r="1" fill="#e8c020" stroke="none" stroke-width="0" />
<circle cx="278" cy="464" r="1" fill="#e8c020" stroke="none" stroke-width="0" />
<circle cx="303" cy="452" r="1" fill="#e8c020" stroke="none" stroke-width="0" />
<circle cx="330" cy="458" r="1" fill="#e8c020" stroke="none" stroke-width="0" />
<circle cx="238" cy="458" r="1" fill="#e8c020" stroke="none" stroke-width="0" />
<circle cx="250" cy="456" r="1" fill="#e8c020" stroke="none" stroke-width="0" />
<circle cx="356" cy="447" r="1" fill="#e8c020" stroke="none" stroke-width="0" />
<circle cx="410" cy="443" r="1" fill="#e8c020" stroke="none" stroke-width="0" />
<circle cx="300" cy="466" r="1" fill="#e8c020" stroke="none" stroke-width="0" />
<circle cx="356.9" cy="435.9" r="4.2" fill="url(#zn)" stroke="none" stroke-width="0" />
<circle cx="357.9" cy="436.2" r="4.2" fill="url(#zn)" stroke="none" stroke-width="0" />
<circle cx="280" cy="442" r="4.2" fill="url(#zn)" stroke="none" stroke-width="0" />
<circle cx="376.2" cy="442.1" r="4.2" fill="url(#zn)" stroke="none" stroke-width="0" />
<circle cx="307.4" cy="443" r="4.2" fill="url(#zn)" stroke="none" stroke-width="0" />
<circle cx="366.2" cy="444.5" r="4.2" fill="url(#zn)" stroke="none" stroke-width="0" />
<circle cx="354.6" cy="445.3" r="4.2" fill="url(#zn)" stroke="none" stroke-width="0" />
<circle cx="256.6" cy="446.1" r="4.2" fill="url(#zn)" stroke="none" stroke-width="0" />
<circle cx="387.4" cy="446.9" r="4.2" fill="url(#zn)" stroke="none" stroke-width="0" />
<circle cx="321.6" cy="447.1" r="4.2" fill="url(#zn)" stroke="none" stroke-width="0" />
<circle cx="339.2" cy="447.1" r="4.2" fill="url(#zn)" stroke="none" stroke-width="0" />
<circle cx="401" cy="448.6" r="4.2" fill="url(#zn)" stroke="none" stroke-width="0" />
<circle cx="296.8" cy="448.9" r="4.2" fill="url(#zn)" stroke="none" stroke-width="0" />
<circle cx="235.5" cy="449.6" r="4.2" fill="url(#zn)" stroke="none" stroke-width="0" />
<circle cx="259.5" cy="452.6" r="4.2" fill="url(#zn)" stroke="none" stroke-width="0" />
<circle cx="320.4" cy="453" r="4.2" fill="url(#zn)" stroke="none" stroke-width="0" />
<circle cx="291.5" cy="454.2" r="4.2" fill="url(#zn)" stroke="none" stroke-width="0" />
<circle cx="349.9" cy="454.2" r="4.2" fill="url(#zn)" stroke="none" stroke-width="0" />
<circle cx="360.3" cy="455.1" r="4.2" fill="url(#zn)" stroke="none" stroke-width="0" />
<circle cx="374.4" cy="455.1" r="4.2" fill="url(#zn)" stroke="none" stroke-width="0" />
<circle cx="298" cy="455.4" r="4.2" fill="url(#zn)" stroke="none" stroke-width="0" />
<circle cx="274.8" cy="456.1" r="4.2" fill="url(#zn)" stroke="none" stroke-width="0" />
<circle cx="389.8" cy="458" r="4.2" fill="url(#zn)" stroke="none" stroke-width="0" />
<circle cx="345" cy="458" r="4.2" fill="url(#zn)" stroke="none" stroke-width="0" />
<circle cx="313.3" cy="458.3" r="4.2" fill="url(#zn)" stroke="none" stroke-width="0" />
<circle cx="258.4" cy="460.2" r="4.2" fill="url(#zn)" stroke="none" stroke-width="0" />
<circle cx="299.2" cy="461.8" r="4.2" fill="url(#zn)" stroke="none" stroke-width="0" />
<circle cx="236.7" cy="462" r="4.2" fill="url(#zn)" stroke="none" stroke-width="0" />
<circle cx="276" cy="462" r="4.2" fill="url(#zn)" stroke="none" stroke-width="0" />
<circle cx="326" cy="462" r="4.2" fill="url(#zn)" stroke="none" stroke-width="0" />
<circle cx="400.4" cy="462.8" r="4.2" fill="url(#zn)" stroke="none" stroke-width="0" />
<circle cx="351.6" cy="463.6" r="4.2" fill="url(#zn)" stroke="none" stroke-width="0" />
<circle cx="362.7" cy="464" r="4.2" fill="url(#zn)" stroke="none" stroke-width="0" />
<circle cx="376.8" cy="465.7" r="4.2" fill="url(#zn)" stroke="none" stroke-width="0" />
<circle cx="309.8" cy="467.1" r="4.2" fill="url(#zn)" stroke="none" stroke-width="0" />
<circle cx="334.5" cy="467.7" r="4.2" fill="url(#zn)" stroke="none" stroke-width="0" />
<circle cx="281.8" cy="467.8" r="4.2" fill="url(#zn)" stroke="none" stroke-width="0" />
<circle cx="395" cy="468" r="4.2" fill="url(#zn)" stroke="none" stroke-width="0" />
<circle cx="405.1" cy="468.1" r="4.2" fill="url(#zn)" stroke="none" stroke-width="0" />
<circle cx="233.2" cy="469" r="4.2" fill="url(#zn)" stroke="none" stroke-width="0" />
<circle cx="250.2" cy="469" r="4.2" fill="url(#zn)" stroke="none" stroke-width="0" />
<circle cx="302.7" cy="469.5" r="4.2" fill="url(#zn)" stroke="none" stroke-width="0" />
<circle cx="246.6" cy="470.2" r="4.2" fill="url(#zn)" stroke="none" stroke-width="0" />
<circle cx="386.2" cy="472.2" r="4.2" fill="url(#zn)" stroke="none" stroke-width="0" />
<circle cx="333.3" cy="473" r="4.2" fill="url(#zn)" stroke="none" stroke-width="0" />
<circle cx="363.8" cy="473.4" r="4.2" fill="url(#zn)" stroke="none" stroke-width="0" />
<circle cx="298.6" cy="475.4" r="4.2" fill="url(#zn)" stroke="none" stroke-width="0" />
<circle cx="342.8" cy="475.4" r="4.2" fill="url(#zn)" stroke="none" stroke-width="0" />
<circle cx="318" cy="476" r="4.2" fill="url(#zn)" stroke="none" stroke-width="0" />
<circle cx="380" cy="476" r="4.2" fill="url(#zn)" stroke="none" stroke-width="0" />
<circle cx="336.9" cy="485.4" r="4.2" fill="url(#zn)" stroke="none" stroke-width="0" />
<circle cx="223.8" cy="443.8" r="2.05" fill="url(#ox)" stroke="none" stroke-width="0" />
<circle cx="220.9" cy="450.8" r="2.05" fill="url(#ox)" stroke="none" stroke-width="0" />
<circle cx="226.1" cy="449.1" r="2.05" fill="url(#ox)" stroke="none" stroke-width="0" />
<circle cx="222" cy="464.3" r="2.05" fill="url(#ox)" stroke="none" stroke-width="0" />
<circle cx="222.6" cy="474.3" r="2.05" fill="url(#ox)" stroke="none" stroke-width="0" />
<circle cx="233.8" cy="464.9" r="2.05" fill="url(#ox)" stroke="none" stroke-width="0" />
<circle cx="239.6" cy="470.2" r="2.05" fill="url(#ox)" stroke="none" stroke-width="0" />
<circle cx="249" cy="469" r="2.05" fill="url(#ox)" stroke="none" stroke-width="0" />
<circle cx="260.7" cy="471.9" r="2.05" fill="url(#ox)" stroke="none" stroke-width="0" />
<circle cx="274.2" cy="466.6" r="2.05" fill="url(#ox)" stroke="none" stroke-width="0" />
<circle cx="265.4" cy="462" r="2.05" fill="url(#ox)" stroke="none" stroke-width="0" />
<circle cx="286.5" cy="446.7" r="2.05" fill="url(#ox)" stroke="none" stroke-width="0" />
<circle cx="288.2" cy="471.3" r="2.05" fill="url(#ox)" stroke="none" stroke-width="0" />
<circle cx="243.1" cy="441.4" r="2.05" fill="url(#ox)" stroke="none" stroke-width="0" />
<circle cx="261.9" cy="446.1" r="2.05" fill="url(#ox)" stroke="none" stroke-width="0" />
<circle cx="287.4" cy="447.7" r="2.05" fill="url(#ox)" stroke="none" stroke-width="0" />
<circle cx="306.2" cy="449.5" r="2.05" fill="url(#ox)" stroke="none" stroke-width="0" />
<circle cx="312.7" cy="450" r="2.05" fill="url(#ox)" stroke="none" stroke-width="0" />
<circle cx="326.9" cy="442.4" r="2.05" fill="url(#ox)" stroke="none" stroke-width="0" />
<circle cx="328" cy="449.5" r="2.05" fill="url(#ox)" stroke="none" stroke-width="0" />
<circle cx="334" cy="453" r="2.05" fill="url(#ox)" stroke="none" stroke-width="0" />
<circle cx="323.9" cy="457.7" r="2.05" fill="url(#ox)" stroke="none" stroke-width="0" />
<circle cx="319.2" cy="465.4" r="2.05" fill="url(#ox)" stroke="none" stroke-width="0" />
<circle cx="325.7" cy="466" r="2.05" fill="url(#ox)" stroke="none" stroke-width="0" />
<circle cx="322.1" cy="474.8" r="2.05" fill="url(#ox)" stroke="none" stroke-width="0" />
<circle cx="308" cy="480.7" r="2.05" fill="url(#ox)" stroke="none" stroke-width="0" />
<circle cx="336.9" cy="483" r="2.05" fill="url(#ox)" stroke="none" stroke-width="0" />
<circle cx="339.2" cy="463" r="2.05" fill="url(#ox)" stroke="none" stroke-width="0" />
<circle cx="345.7" cy="461.8" r="2.05" fill="url(#ox)" stroke="none" stroke-width="0" />
<circle cx="349.3" cy="468.9" r="2.05" fill="url(#ox)" stroke="none" stroke-width="0" />
<circle cx="352.8" cy="444.2" r="2.05" fill="url(#ox)" stroke="none" stroke-width="0" />
<circle cx="295" cy="467.1" r="2.05" fill="url(#ox)" stroke="none" stroke-width="0" />
<circle cx="288.5" cy="470.1" r="2.05" fill="url(#ox)" stroke="none" stroke-width="0" />
<circle cx="306.2" cy="457.1" r="2.05" fill="url(#ox)" stroke="none" stroke-width="0" />
<circle cx="368.6" cy="435.1" r="2.05" fill="url(#ox)" stroke="none" stroke-width="0" />
<circle cx="378" cy="439.2" r="2.05" fill="url(#ox)" stroke="none" stroke-width="0" />
<circle cx="360.9" cy="453.9" r="2.05" fill="url(#ox)" stroke="none" stroke-width="0" />
<circle cx="371.5" cy="448.6" r="2.05" fill="url(#ox)" stroke="none" stroke-width="0" />
<circle cx="386.8" cy="450.4" r="2.05" fill="url(#ox)" stroke="none" stroke-width="0" />
<circle cx="372.7" cy="459.8" r="2.05" fill="url(#ox)" stroke="none" stroke-width="0" />
<circle cx="391.5" cy="461.6" r="2.05" fill="url(#ox)" stroke="none" stroke-width="0" />
<circle cx="392.7" cy="468.1" r="2.05" fill="url(#ox)" stroke="none" stroke-width="0" />
<circle cx="372.7" cy="472.2" r="2.05" fill="url(#ox)" stroke="none" stroke-width="0" />
<circle cx="399.8" cy="474" r="2.05" fill="url(#ox)" stroke="none" stroke-width="0" />
<circle cx="413.3" cy="443.9" r="2.05" fill="url(#ox)" stroke="none" stroke-width="0" />
<circle cx="415.7" cy="446.9" r="2.05" fill="url(#ox)" stroke="none" stroke-width="0" />
<circle cx="412.7" cy="449.8" r="2.05" fill="url(#ox)" stroke="none" stroke-width="0" />
<circle cx="411" cy="465.1" r="2.05" fill="url(#ox)" stroke="none" stroke-width="0" />
<circle cx="415.7" cy="465.1" r="2.05" fill="url(#ox)" stroke="none" stroke-width="0" />
<circle cx="413.9" cy="469.8" r="2.05" fill="url(#ox)" stroke="none" stroke-width="0" />
<circle cx="418" cy="470.4" r="2.05" fill="url(#ox)" stroke="none" stroke-width="0" />
<circle cx="366.8" cy="439.8" r="2.05" fill="url(#ox)" stroke="none" stroke-width="0" />
<circle cx="382.1" cy="444.5" r="2.05" fill="url(#ox)" stroke="none" stroke-width="0" />
<circle cx="382.7" cy="453.3" r="2.05" fill="url(#ox)" stroke="none" stroke-width="0" />
<circle cx="230" cy="455" r="2.05" fill="url(#ox)" stroke="none" stroke-width="0" />
<circle cx="252" cy="463" r="2.05" fill="url(#ox)" stroke="none" stroke-width="0" />
<circle cx="268" cy="455" r="2.05" fill="url(#ox)" stroke="none" stroke-width="0" />
<circle cx="283" cy="458" r="2.05" fill="url(#ox)" stroke="none" stroke-width="0" />
<circle cx="316" cy="470" r="2.05" fill="url(#ox)" stroke="none" stroke-width="0" />
<circle cx="354" cy="472" r="2.05" fill="url(#ox)" stroke="none" stroke-width="0" />
<circle cx="380" cy="458" r="2.05" fill="url(#ox)" stroke="none" stroke-width="0" />
<circle cx="405" cy="455" r="2.05" fill="url(#ox)" stroke="none" stroke-width="0" />
<circle cx="395" cy="443" r="2.05" fill="url(#ox)" stroke="none" stroke-width="0" />
<circle cx="347" cy="442" r="2.05" fill="url(#ox)" stroke="none" stroke-width="0" />
<circle cx="330" cy="478" r="2.05" fill="url(#ox)" stroke="none" stroke-width="0" />
<circle cx="240" cy="476" r="2.05" fill="url(#ox)" stroke="none" stroke-width="0" />
<circle cx="270" cy="476" r="2.05" fill="url(#ox)" stroke="none" stroke-width="0" />
<circle cx="358" cy="478" r="2.05" fill="url(#ox)" stroke="none" stroke-width="0" />
<line x1="359.7" y1="347.1" x2="360" y2="354.6" stroke="#b08878" stroke-width="0.8" />
<line x1="346" y1="353.5" x2="352.2" y2="358.8" stroke="#b08878" stroke-width="0.8" />
<line x1="374.7" y1="357.8" x2="369" y2="361" stroke="#b08878" stroke-width="0.8" />
<line x1="376.5" y1="375.3" x2="369.8" y2="371" stroke="#b08878" stroke-width="0.8" />
<line x1="333.8" y1="364.4" x2="337.1" y2="371.9" stroke="#b08878" stroke-width="0.8" />
<line x1="325.3" y1="377.1" x2="332.3" y2="379" stroke="#b08878" stroke-width="0.8" />
<line x1="348.8" y1="399.7" x2="346" y2="391.6" stroke="#b08878" stroke-width="0.8" />
<line x1="344.1" y1="406.6" x2="335.6" y2="404.7" stroke="#b08878" stroke-width="0.8" />
<line x1="371.3" y1="381" x2="370.9" y2="387.6" stroke="#b08878" stroke-width="0.8" />
<line x1="377.3" y1="387" x2="370.9" y2="387.6" stroke="#b08878" stroke-width="0.8" />
<line x1="352.7" y1="392.4" x2="359" y2="394.7" stroke="#b08878" stroke-width="0.8" />
<line x1="357" y1="401.7" x2="365.8" y2="406.1" stroke="#b08878" stroke-width="0.8" />
<line x1="358.7" y1="405" x2="365.8" y2="406.1" stroke="#b08878" stroke-width="0.8" />
<line x1="383.3" y1="391.3" x2="381.7" y2="396.3" stroke="#b08878" stroke-width="0.8" />
<line x1="387.7" y1="399.5" x2="381.7" y2="396.3" stroke="#b08878" stroke-width="0.8" />
<line x1="392" y1="399" x2="391" y2="406.1" stroke="#b08878" stroke-width="0.8" />
<line x1="398" y1="407.7" x2="391" y2="406.1" stroke="#b08878" stroke-width="0.8" />
<line x1="389.9" y1="412.1" x2="391" y2="406.1" stroke="#b08878" stroke-width="0.8" />
<line x1="277.75" y1="388.5" x2="276.7" y2="396" stroke="#b08878" stroke-width="0.8" />
<line x1="269.4" y1="398.75" x2="276.7" y2="396" stroke="#b08878" stroke-width="0.8" />
<line x1="283.5" y1="398.5" x2="283.75" y2="403.1" stroke="#b08878" stroke-width="0.8" />
<line x1="289.75" y1="397.5" x2="289.6" y2="404.7" stroke="#b08878" stroke-width="0.8" />
<line x1="292.75" y1="401.25" x2="289.6" y2="404.7" stroke="#b08878" stroke-width="0.8" />
<line x1="305" y1="405" x2="299.5" y2="409.2" stroke="#b08878" stroke-width="0.8" />
<line x1="360" y1="354.6" x2="352.2" y2="358.8" stroke="#8a5a3a" stroke-width="1.45" />
<line x1="360" y1="354.6" x2="369" y2="361" stroke="#8a5a3a" stroke-width="1.45" />
<line x1="352.2" y1="358.8" x2="353.5" y2="368.5" stroke="#8a5a3a" stroke-width="1.45" />
<line x1="369" y1="361" x2="369.8" y2="371" stroke="#8a5a3a" stroke-width="1.45" />
<line x1="353.5" y1="368.5" x2="361.9" y2="374.7" stroke="#8a5a3a" stroke-width="1.45" />
<line x1="369.8" y1="371" x2="361.9" y2="374.7" stroke="#8a5a3a" stroke-width="1.45" />
<line x1="353.5" y1="368.5" x2="346.5" y2="374.7" stroke="#8a5a3a" stroke-width="1.45" />
<line x1="346.5" y1="374.7" x2="337.1" y2="371.9" stroke="#8a5a3a" stroke-width="1.45" />
<line x1="337.1" y1="371.9" x2="332.3" y2="379" stroke="#8a5a3a" stroke-width="1.45" />
<line x1="332.3" y1="379" x2="336" y2="389.2" stroke="#8a5a3a" stroke-width="1.45" />
<line x1="336" y1="389.2" x2="346" y2="391.6" stroke="#8a5a3a" stroke-width="1.45" />
<line x1="346" y1="391.6" x2="350.7" y2="384.7" stroke="#8a5a3a" stroke-width="1.45" />
<line x1="350.7" y1="384.7" x2="346.5" y2="374.7" stroke="#8a5a3a" stroke-width="1.45" />
<line x1="350.7" y1="384.7" x2="361" y2="386" stroke="#8a5a3a" stroke-width="1.45" />
<line x1="361.9" y1="374.7" x2="361" y2="386" stroke="#8a5a3a" stroke-width="1.45" />
<line x1="361" y1="386" x2="370.9" y2="387.6" stroke="#8a5a3a" stroke-width="1.45" />
<line x1="370.9" y1="387.6" x2="370.7" y2="397.4" stroke="#8a5a3a" stroke-width="1.45" />
<line x1="370.7" y1="397.4" x2="359" y2="394.7" stroke="#8a5a3a" stroke-width="1.45" />
<line x1="359" y1="394.7" x2="361" y2="386" stroke="#8a5a3a" stroke-width="1.45" />
<line x1="370.7" y1="397.4" x2="365.8" y2="406.1" stroke="#8a5a3a" stroke-width="1.45" />
<line x1="365.8" y1="406.1" x2="374" y2="409.9" stroke="#8a5a3a" stroke-width="1.45" />
<line x1="370.7" y1="397.4" x2="381.7" y2="396.3" stroke="#8a5a3a" stroke-width="1.45" />
<line x1="381.7" y1="396.3" x2="380" y2="402.8" stroke="#8a5a3a" stroke-width="1.45" />
<line x1="380" y1="402.8" x2="374" y2="409.9" stroke="#8a5a3a" stroke-width="1.45" />
<line x1="380" y1="402.8" x2="391" y2="406.1" stroke="#8a5a3a" stroke-width="1.45" />
<line x1="336" y1="389.2" x2="331" y2="396.3" stroke="#8a5a3a" stroke-width="1.45" />
<line x1="331" y1="396.3" x2="317.8" y2="396" stroke="#8a5a3a" stroke-width="1.45" />
<line x1="331" y1="396.3" x2="335.6" y2="404.7" stroke="#8a5a3a" stroke-width="1.45" />
<line x1="335.6" y1="404.7" x2="328.1" y2="410.5" stroke="#8a5a3a" stroke-width="1.45" />
<line x1="328.1" y1="410.5" x2="318.6" y2="406.7" stroke="#8a5a3a" stroke-width="1.45" />
<line x1="318.6" y1="406.7" x2="317.8" y2="396" stroke="#8a5a3a" stroke-width="1.45" />
<line x1="318.6" y1="406.7" x2="309" y2="409.5" stroke="#8a5a3a" stroke-width="1.45" />
<line x1="309" y1="409.5" x2="299.5" y2="409.2" stroke="#8a5a3a" stroke-width="1.45" />
<line x1="299.5" y1="409.2" x2="289.6" y2="404.7" stroke="#8a5a3a" stroke-width="1.45" />
<line x1="289.6" y1="404.7" x2="283.75" y2="403.1" stroke="#8a5a3a" stroke-width="1.45" />
<line x1="283.75" y1="403.1" x2="276.7" y2="396" stroke="#8a5a3a" stroke-width="1.45" />
<line x1="299.5" y1="409.2" x2="285" y2="412" stroke="#8a5a3a" stroke-width="1.45" />
<line x1="285" y1="412" x2="272.5" y2="414" stroke="#8a5a3a" stroke-width="1.45" />
<line x1="272.5" y1="414" x2="264" y2="410.8" stroke="#8a5a3a" stroke-width="1.45" />
<line x1="264" y1="410.8" x2="262.2" y2="416.7" stroke="#8a5a3a" stroke-width="1.45" />
<line x1="262.2" y1="416.7" x2="250.4" y2="421.1" stroke="#8a5a3a" stroke-width="1.45" />
<circle cx="359.7" cy="347.1" r="1.55" fill="#f2d6d6" stroke="#c0a0a0" stroke-width="0.35" />
<circle cx="346" cy="353.5" r="1.55" fill="#f2d6d6" stroke="#c0a0a0" stroke-width="0.35" />
<circle cx="374.7" cy="357.8" r="1.55" fill="#f2d6d6" stroke="#c0a0a0" stroke-width="0.35" />
<circle cx="376.5" cy="375.3" r="1.55" fill="#f2d6d6" stroke="#c0a0a0" stroke-width="0.35" />
<circle cx="333.8" cy="364.4" r="1.55" fill="#f2d6d6" stroke="#c0a0a0" stroke-width="0.35" />
<circle cx="325.3" cy="377.1" r="1.55" fill="#f2d6d6" stroke="#c0a0a0" stroke-width="0.35" />
<circle cx="348.8" cy="399.7" r="1.55" fill="#f2d6d6" stroke="#c0a0a0" stroke-width="0.35" />
<circle cx="344.1" cy="406.6" r="1.55" fill="#f2d6d6" stroke="#c0a0a0" stroke-width="0.35" />
<circle cx="371.3" cy="381" r="1.55" fill="#f2d6d6" stroke="#c0a0a0" stroke-width="0.35" />
<circle cx="377.3" cy="387" r="1.55" fill="#f2d6d6" stroke="#c0a0a0" stroke-width="0.35" />
<circle cx="352.7" cy="392.4" r="1.55" fill="#f2d6d6" stroke="#c0a0a0" stroke-width="0.35" />
<circle cx="348.3" cy="399.5" r="1.55" fill="#f2d6d6" stroke="#c0a0a0" stroke-width="0.35" />
<circle cx="357" cy="401.7" r="1.55" fill="#f2d6d6" stroke="#c0a0a0" stroke-width="0.35" />
<circle cx="358.7" cy="405" r="1.55" fill="#f2d6d6" stroke="#c0a0a0" stroke-width="0.35" />
<circle cx="383.3" cy="391.3" r="1.55" fill="#f2d6d6" stroke="#c0a0a0" stroke-width="0.35" />
<circle cx="387.7" cy="399.5" r="1.55" fill="#f2d6d6" stroke="#c0a0a0" stroke-width="0.35" />
<circle cx="392" cy="399" r="1.55" fill="#f2d6d6" stroke="#c0a0a0" stroke-width="0.35" />
<circle cx="398" cy="407.7" r="1.55" fill="#f2d6d6" stroke="#c0a0a0" stroke-width="0.35" />
<circle cx="389.9" cy="412.1" r="1.55" fill="#f2d6d6" stroke="#c0a0a0" stroke-width="0.35" />
<circle cx="362.5" cy="413.2" r="1.55" fill="#f2d6d6" stroke="#c0a0a0" stroke-width="0.35" />
<circle cx="277.75" cy="388.5" r="1.55" fill="#f2d6d6" stroke="#c0a0a0" stroke-width="0.35" />
<circle cx="269.4" cy="398.75" r="1.55" fill="#f2d6d6" stroke="#c0a0a0" stroke-width="0.35" />
<circle cx="283.5" cy="398.5" r="1.55" fill="#f2d6d6" stroke="#c0a0a0" stroke-width="0.35" />
<circle cx="289.75" cy="397.5" r="1.55" fill="#f2d6d6" stroke="#c0a0a0" stroke-width="0.35" />
<circle cx="292.75" cy="401.25" r="1.55" fill="#f2d6d6" stroke="#c0a0a0" stroke-width="0.35" />
<circle cx="305" cy="405" r="1.55" fill="#f2d6d6" stroke="#c0a0a0" stroke-width="0.35" />
<circle cx="270" cy="405" r="1.55" fill="#f2d6d6" stroke="#c0a0a0" stroke-width="0.35" />
<circle cx="281" cy="410" r="1.55" fill="#f2d6d6" stroke="#c0a0a0" stroke-width="0.35" />
<circle cx="360" cy="354.6" r="1.85" fill="#8e5e3c" stroke="#5a3a20" stroke-width="0.3" />
<circle cx="352.2" cy="358.8" r="1.85" fill="#8e5e3c" stroke="#5a3a20" stroke-width="0.3" />
<circle cx="369" cy="361" r="1.85" fill="#8e5e3c" stroke="#5a3a20" stroke-width="0.3" />
<circle cx="353.5" cy="368.5" r="1.85" fill="#8e5e3c" stroke="#5a3a20" stroke-width="0.3" />
<circle cx="369.8" cy="371" r="1.85" fill="#8e5e3c" stroke="#5a3a20" stroke-width="0.3" />
<circle cx="361.9" cy="374.7" r="1.85" fill="#8e5e3c" stroke="#5a3a20" stroke-width="0.3" />
<circle cx="346.5" cy="374.7" r="1.85" fill="#8e5e3c" stroke="#5a3a20" stroke-width="0.3" />
<circle cx="337.1" cy="371.9" r="1.85" fill="#8e5e3c" stroke="#5a3a20" stroke-width="0.3" />
<circle cx="332.3" cy="379" r="1.85" fill="#8e5e3c" stroke="#5a3a20" stroke-width="0.3" />
<circle cx="336" cy="389.2" r="1.85" fill="#8e5e3c" stroke="#5a3a20" stroke-width="0.3" />
<circle cx="346" cy="391.6" r="1.85" fill="#8e5e3c" stroke="#5a3a20" stroke-width="0.3" />
<circle cx="350.7" cy="384.7" r="1.85" fill="#8e5e3c" stroke="#5a3a20" stroke-width="0.3" />
<circle cx="361" cy="386" r="1.85" fill="#8e5e3c" stroke="#5a3a20" stroke-width="0.3" />
<circle cx="370.9" cy="387.6" r="1.85" fill="#8e5e3c" stroke="#5a3a20" stroke-width="0.3" />
<circle cx="370.7" cy="397.4" r="1.85" fill="#8e5e3c" stroke="#5a3a20" stroke-width="0.3" />
<circle cx="359" cy="394.7" r="1.85" fill="#8e5e3c" stroke="#5a3a20" stroke-width="0.3" />
<circle cx="365.8" cy="406.1" r="1.85" fill="#8e5e3c" stroke="#5a3a20" stroke-width="0.3" />
<circle cx="381.7" cy="396.3" r="1.85" fill="#8e5e3c" stroke="#5a3a20" stroke-width="0.3" />
<circle cx="380" cy="402.8" r="1.85" fill="#8e5e3c" stroke="#5a3a20" stroke-width="0.3" />
<circle cx="391" cy="406.1" r="1.85" fill="#8e5e3c" stroke="#5a3a20" stroke-width="0.3" />
<circle cx="331" cy="396.3" r="1.85" fill="#8e5e3c" stroke="#5a3a20" stroke-width="0.3" />
<circle cx="335.6" cy="404.7" r="1.85" fill="#8e5e3c" stroke="#5a3a20" stroke-width="0.3" />
<circle cx="318.6" cy="406.7" r="1.85" fill="#8e5e3c" stroke="#5a3a20" stroke-width="0.3" />
<circle cx="328.1" cy="410.5" r="1.85" fill="#8e5e3c" stroke="#5a3a20" stroke-width="0.3" />
<circle cx="309" cy="409.5" r="1.85" fill="#8e5e3c" stroke="#5a3a20" stroke-width="0.3" />
<circle cx="299.5" cy="409.2" r="1.85" fill="#8e5e3c" stroke="#5a3a20" stroke-width="0.3" />
<circle cx="289.6" cy="404.7" r="1.85" fill="#8e5e3c" stroke="#5a3a20" stroke-width="0.3" />
<circle cx="283.75" cy="403.1" r="1.85" fill="#8e5e3c" stroke="#5a3a20" stroke-width="0.3" />
<circle cx="276.7" cy="396" r="1.85" fill="#8e5e3c" stroke="#5a3a20" stroke-width="0.3" />
<circle cx="272.5" cy="414" r="1.85" fill="#8e5e3c" stroke="#5a3a20" stroke-width="0.3" />
<circle cx="262.2" cy="416.7" r="1.85" fill="#8e5e3c" stroke="#5a3a20" stroke-width="0.3" />
<circle cx="250.4" cy="421.1" r="1.85" fill="#8e5e3c" stroke="#5a3a20" stroke-width="0.3" />
<circle cx="285" cy="412" r="1.85" fill="#8e5e3c" stroke="#5a3a20" stroke-width="0.3" />
<ellipse cx="249.6" cy="417" rx="7" ry="7" fill="url(#cy)" stroke="#22a8b4" stroke-width="0.6"/>
<ellipse cx="242" cy="427" rx="8" ry="5.6" fill="url(#cy)" stroke="#22a8b4" stroke-width="0.6" transform="rotate(-15 242 427)"/>
<ellipse cx="260.5" cy="428" rx="5.3" ry="5.6" fill="url(#cy)" stroke="#22a8b4" stroke-width="0.6"/>
<ellipse cx="243.3" cy="422" rx="3" ry="3" fill="url(#ye)" stroke="#b8b41a" stroke-width="0.6"/>
<ellipse cx="266.5" cy="416" rx="5" ry="6" fill="url(#ye)" stroke="#b8b41a" stroke-width="0.6"/>
<ellipse cx="280.5" cy="419" rx="10" ry="6" fill="url(#cy)" stroke="#22a8b4" stroke-width="0.6"/>
<ellipse cx="303.7" cy="422.7" rx="10" ry="8" fill="url(#cy)" stroke="#22a8b4" stroke-width="0.6" transform="rotate(-10 303.7 422.7)"/>
<ellipse cx="310" cy="415" rx="3.5" ry="3.5" fill="url(#cy)" stroke="#22a8b4" stroke-width="0.6"/>
<ellipse cx="284.7" cy="424.8" rx="9" ry="9" fill="url(#ye)" stroke="#b8b41a" stroke-width="0.6"/>
<ellipse cx="287.6" cy="414.5" rx="3" ry="3" fill="url(#ye)" stroke="#b8b41a" stroke-width="0.6"/>
<ellipse cx="303.8" cy="415.2" rx="3" ry="3" fill="url(#ye)" stroke="#b8b41a" stroke-width="0.6"/>
<ellipse cx="282.7" cy="406.1" rx="2.5" ry="2.5" fill="url(#cy)" stroke="#22a8b4" stroke-width="0.6"/>
<ellipse cx="252" cy="434" rx="6" ry="11" fill="url(#ye)" stroke="#b8b41a" stroke-width="0.6"/>
<ellipse cx="270" cy="439.5" rx="17" ry="7" fill="url(#cy)" stroke="#22a8b4" stroke-width="0.6" transform="rotate(-8 270 439.5)"/>
<ellipse cx="293" cy="439" rx="5" ry="5" fill="url(#ye)" stroke="#b8b41a" stroke-width="0.6"/>
<ellipse cx="236" cy="440" rx="4" ry="3.6" fill="url(#ye)" stroke="#b8b41a" stroke-width="0.6"/>
<ellipse cx="270.7" cy="449" rx="4.5" ry="4" fill="url(#ye)" stroke="#b8b41a" stroke-width="0.6"/>
<ellipse cx="262" cy="441" rx="4" ry="3" fill="url(#cy)" stroke="#22a8b4" stroke-width="0.6"/>
<ellipse cx="372" cy="421" rx="6" ry="8" fill="url(#cy)" stroke="#22a8b4" stroke-width="0.6"/>
<ellipse cx="382" cy="418.5" rx="5.5" ry="4" fill="url(#cy)" stroke="#22a8b4" stroke-width="0.6"/>
<ellipse cx="367.5" cy="430.5" rx="4.5" ry="6.5" fill="url(#ye)" stroke="#b8b41a" stroke-width="0.6"/>
<ellipse cx="382" cy="427.5" rx="3.3" ry="5.8" fill="url(#ye)" stroke="#b8b41a" stroke-width="0.6"/>
<ellipse cx="377" cy="418" rx="2" ry="2" fill="url(#ye)" stroke="#b8b41a" stroke-width="0.6"/>
<ellipse cx="379" cy="403" rx="3" ry="3" fill="url(#cy)" stroke="#22a8b4" stroke-width="0.6"/>
<ellipse cx="383" cy="407.5" rx="2.4" ry="2.4" fill="url(#ye)" stroke="#b8b41a" stroke-width="0.6"/>
<ellipse cx="391.2" cy="408" rx="2.4" ry="2.4" fill="url(#cy)" stroke="#22a8b4" stroke-width="0.6"/>
<ellipse cx="364" cy="409.7" rx="2" ry="2" fill="url(#cy)" stroke="#22a8b4" stroke-width="0.6"/>
<ellipse cx="391.2" cy="403.5" rx="1.6" ry="1.6" fill="url(#ye)" stroke="#b8b41a" stroke-width="0.6"/>
<line x1="262.2" y1="416.7" x2="250.4" y2="421.1" stroke="#8a5a3a" stroke-width="1.0" />
<line x1="264" y1="410.8" x2="262.2" y2="416.7" stroke="#8a5a3a" stroke-width="1.0" />
<line x1="272.5" y1="414" x2="264" y2="410.8" stroke="#8a5a3a" stroke-width="1.0" />
<line x1="285" y1="412" x2="272.5" y2="414" stroke="#8a5a3a" stroke-width="1.0" />
<line x1="299.5" y1="409.2" x2="285" y2="412" stroke="#8a5a3a" stroke-width="1.0" />
<line x1="365.8" y1="406.1" x2="374" y2="409.9" stroke="#8a5a3a" stroke-width="1.0" />
<line x1="380" y1="402.8" x2="374" y2="409.9" stroke="#8a5a3a" stroke-width="1.0" />
<line x1="380" y1="402.8" x2="391" y2="406.1" stroke="#8a5a3a" stroke-width="1.0" />
<circle cx="317.8" cy="396" r="3" fill="url(#ye)" stroke="none" stroke-width="0" />
<circle cx="264" cy="410.8" r="3" fill="url(#ye)" stroke="none" stroke-width="0" />
<circle cx="374" cy="409.9" r="1.8" fill="#a8a8dc" stroke="none" stroke-width="0" />
<line x1="291.5" y1="432.5" x2="588" y2="432.5" stroke="#222" stroke-width="0.8" stroke-dasharray="2.2,1.6"/>
</svg></body></html>
